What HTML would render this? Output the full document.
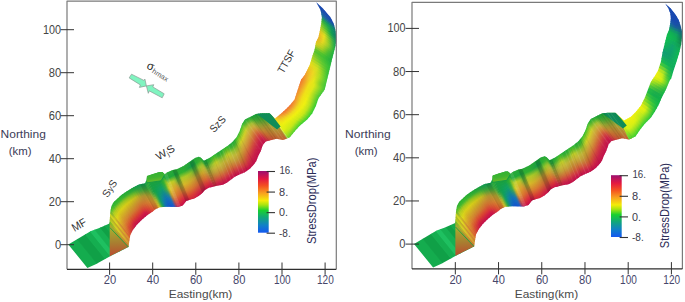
<!DOCTYPE html><html><head><meta charset="utf-8"><style>html,body{margin:0;padding:0;background:#fff;}svg{display:block;}</style></head><body><svg width="685" height="302" viewBox="0 0 685 302" font-family='"Liberation Sans", sans-serif'>
<rect width="685" height="302" fill="#fff"/>
<defs><clipPath id="Lclip"><polygon points="68.30,244.50 83.80,235.20 91.00,231.00 99.30,228.10 109.50,223.50 110.30,211.80 111.30,206.50 113.50,202.30 117.50,198.50 121.00,195.30 124.90,192.50 128.80,189.90 133.50,187.30 138.80,184.60 145.00,183.30 146.50,180.00 147.00,176.00 153.00,174.00 159.60,172.00 162.20,172.00 164.90,174.30 166.90,172.60 172.80,170.00 176.80,169.30 183.50,166.10 190.00,161.50 195.00,158.00 198.90,156.70 200.90,157.70 203.90,160.70 205.90,159.70 209.90,157.70 215.80,153.80 221.80,149.80 227.80,145.80 232.70,141.80 236.70,136.90 239.70,130.90 242.10,123.90 245.00,119.50 250.00,117.00 256.00,114.00 262.00,113.30 269.60,113.20 275.00,118.60 280.50,114.00 285.50,109.50 290.00,105.00 294.50,99.50 298.50,87.30 301.00,79.80 304.70,74.90 309.70,64.90 312.20,56.50 314.50,50.00 316.00,42.00 318.50,37.10 319.90,30.50 321.20,23.80 321.90,17.20 320.50,9.90 317.20,4.00 316.20,2.30 322.50,7.90 330.50,17.20 333.80,23.80 335.80,31.80 336.40,40.00 335.50,46.00 334.20,51.00 331.40,61.90 330.10,67.40 327.10,79.80 324.60,89.80 318.40,98.50 315.90,105.90 312.20,113.40 307.20,119.60 299.80,125.80 295.00,131.00 289.70,137.40 283.10,139.90 276.50,138.80 271.50,139.90 265.70,141.60 262.80,145.00 260.80,151.00 258.30,155.90 256.40,160.90 253.90,164.40 249.90,168.80 244.90,172.30 239.50,174.50 234.80,176.80 230.80,179.80 226.80,182.80 222.80,184.80 216.90,185.80 212.90,186.80 208.90,187.80 205.00,190.00 202.60,192.80 199.10,195.70 194.40,198.60 189.80,199.70 186.30,200.90 182.80,205.50 178.20,206.90 166.60,206.70 159.60,207.30 155.00,209.60 152.80,211.60 147.50,214.90 142.20,219.50 136.90,224.80 132.90,230.10 130.30,235.00 129.90,237.40 128.40,247.10 109.70,256.50 98.40,262.80 95.70,264.30 87.40,267.90"/></clipPath><linearGradient id="Lg0" gradientUnits="userSpaceOnUse" x1="71.91" y1="242.33" x2="91.30" y2="266.21"><stop offset="0.000" stop-color="#14ac4e"/></linearGradient><linearGradient id="Lg1" gradientUnits="userSpaceOnUse" x1="81.31" y1="236.70" x2="101.22" y2="261.23"><stop offset="0.000" stop-color="#10a047"/></linearGradient><linearGradient id="Lg2" gradientUnits="userSpaceOnUse" x1="87.87" y1="232.83" x2="107.90" y2="257.50"><stop offset="0.000" stop-color="#15ae50"/></linearGradient><linearGradient id="Lg3" gradientUnits="userSpaceOnUse" x1="92.58" y1="230.45" x2="112.56" y2="255.06"><stop offset="0.000" stop-color="#1ec060"/></linearGradient><linearGradient id="Lg4" gradientUnits="userSpaceOnUse" x1="97.67" y1="228.67" x2="117.21" y2="252.73"><stop offset="0.000" stop-color="#16b052"/></linearGradient><linearGradient id="Lg5" gradientUnits="userSpaceOnUse" x1="102.66" y1="226.59" x2="121.95" y2="250.34"><stop offset="0.000" stop-color="#10a046"/></linearGradient><linearGradient id="Lg6" gradientUnits="userSpaceOnUse" x1="107.48" y1="224.41" x2="126.63" y2="247.99"><stop offset="0.000" stop-color="#14aa4c"/></linearGradient><linearGradient id="Lg7" gradientUnits="userSpaceOnUse" x1="109.41" y1="223.54" x2="128.33" y2="247.14"><stop offset="0.000" stop-color="#14aa4c"/></linearGradient><linearGradient id="Lg8" gradientUnits="userSpaceOnUse" x1="109.62" y1="221.79" x2="128.60" y2="245.78"><stop offset="0.000" stop-color="#70b828"/><stop offset="0.300" stop-color="#b8b828"/><stop offset="0.600" stop-color="#c89830"/><stop offset="1.000" stop-color="#c87830"/></linearGradient><linearGradient id="Lg9" gradientUnits="userSpaceOnUse" x1="109.80" y1="219.14" x2="128.98" y2="243.37"><stop offset="0.000" stop-color="#b0c820"/><stop offset="0.400" stop-color="#d8d020"/><stop offset="0.700" stop-color="#d8b828"/><stop offset="1.000" stop-color="#d09830"/></linearGradient><linearGradient id="Lg10" gradientUnits="userSpaceOnUse" x1="109.96" y1="216.72" x2="129.32" y2="241.17"><stop offset="0.000" stop-color="#a8c020"/><stop offset="0.400" stop-color="#c8a828"/><stop offset="0.700" stop-color="#d09030"/><stop offset="1.000" stop-color="#d08030"/></linearGradient><linearGradient id="Lg11" gradientUnits="userSpaceOnUse" x1="110.13" y1="214.30" x2="129.66" y2="238.98"><stop offset="0.000" stop-color="#c8d420"/><stop offset="0.350" stop-color="#e0d820"/><stop offset="0.700" stop-color="#d8a828"/><stop offset="1.000" stop-color="#d88830"/></linearGradient><linearGradient id="Lg12" gradientUnits="userSpaceOnUse" x1="110.36" y1="211.48" x2="129.98" y2="236.94"><stop offset="0.000" stop-color="#60b830"/><stop offset="0.250" stop-color="#c8c020"/><stop offset="0.550" stop-color="#d09030"/><stop offset="0.800" stop-color="#d87030"/><stop offset="1.000" stop-color="#d86030"/></linearGradient><linearGradient id="Lg13" gradientUnits="userSpaceOnUse" x1="110.86" y1="208.81" x2="130.28" y2="235.12"><stop offset="0.000" stop-color="#2fb730"/><stop offset="0.100" stop-color="#7ac527"/><stop offset="0.150" stop-color="#a6cd21"/><stop offset="0.200" stop-color="#b9d01e"/><stop offset="0.320" stop-color="#d9d619"/><stop offset="0.350" stop-color="#ded618"/><stop offset="0.500" stop-color="#dab423"/><stop offset="0.600" stop-color="#d89e29"/><stop offset="0.680" stop-color="#d8902c"/><stop offset="0.850" stop-color="#d87130"/><stop offset="1.000" stop-color="#d75931"/></linearGradient><linearGradient id="Lg14" gradientUnits="userSpaceOnUse" x1="111.34" y1="206.42" x2="130.92" y2="233.83"><stop offset="0.000" stop-color="#2cb430"/><stop offset="0.100" stop-color="#62c02a"/><stop offset="0.150" stop-color="#92c824"/><stop offset="0.200" stop-color="#b2cd1f"/><stop offset="0.320" stop-color="#d8d418"/><stop offset="0.350" stop-color="#dcd01a"/><stop offset="0.500" stop-color="#d8af25"/><stop offset="0.600" stop-color="#d7992a"/><stop offset="0.680" stop-color="#d88a2e"/><stop offset="0.850" stop-color="#d86430"/><stop offset="1.000" stop-color="#d44c34"/></linearGradient><linearGradient id="Lg15" gradientUnits="userSpaceOnUse" x1="112.27" y1="204.66" x2="131.58" y2="232.59"><stop offset="0.000" stop-color="#29b130"/><stop offset="0.100" stop-color="#4cbb2e"/><stop offset="0.150" stop-color="#7ec327"/><stop offset="0.200" stop-color="#abca20"/><stop offset="0.320" stop-color="#d8d118"/><stop offset="0.350" stop-color="#d8cc1a"/><stop offset="0.500" stop-color="#d5aa27"/><stop offset="0.600" stop-color="#d6942b"/><stop offset="0.680" stop-color="#d8832f"/><stop offset="0.850" stop-color="#d85730"/><stop offset="1.000" stop-color="#d13f37"/></linearGradient><linearGradient id="Lg16" gradientUnits="userSpaceOnUse" x1="113.40" y1="202.49" x2="132.50" y2="230.85"><stop offset="0.000" stop-color="#28b030"/><stop offset="0.100" stop-color="#40b830"/><stop offset="0.200" stop-color="#a7c820"/><stop offset="0.320" stop-color="#d8d018"/><stop offset="0.480" stop-color="#d3ab26"/><stop offset="0.500" stop-color="#d3a728"/><stop offset="0.640" stop-color="#d6882e"/><stop offset="0.680" stop-color="#d77e30"/><stop offset="0.780" stop-color="#d86030"/><stop offset="0.850" stop-color="#d74b32"/><stop offset="0.900" stop-color="#d44135"/><stop offset="1.000" stop-color="#cd313b"/></linearGradient><linearGradient id="Lg17" gradientUnits="userSpaceOnUse" x1="115.13" y1="200.75" x2="133.76" y2="228.97"><stop offset="0.000" stop-color="#28b030"/><stop offset="0.100" stop-color="#40b830"/><stop offset="0.200" stop-color="#a4c820"/><stop offset="0.320" stop-color="#d8d018"/><stop offset="0.480" stop-color="#d2aa27"/><stop offset="0.500" stop-color="#d2a628"/><stop offset="0.640" stop-color="#d4842f"/><stop offset="0.680" stop-color="#d57830"/><stop offset="0.780" stop-color="#d85830"/><stop offset="0.850" stop-color="#d64134"/><stop offset="0.900" stop-color="#d2343a"/><stop offset="1.000" stop-color="#c82441"/></linearGradient><linearGradient id="Lg18" gradientUnits="userSpaceOnUse" x1="116.90" y1="199.07" x2="135.09" y2="227.20"><stop offset="0.000" stop-color="#28b030"/><stop offset="0.100" stop-color="#40b830"/><stop offset="0.200" stop-color="#a1c820"/><stop offset="0.320" stop-color="#d8d018"/><stop offset="0.480" stop-color="#d1a928"/><stop offset="0.500" stop-color="#d1a429"/><stop offset="0.640" stop-color="#d18230"/><stop offset="0.680" stop-color="#d37430"/><stop offset="0.780" stop-color="#d85030"/><stop offset="0.850" stop-color="#d43738"/><stop offset="0.900" stop-color="#d1273e"/><stop offset="1.000" stop-color="#c31747"/></linearGradient><linearGradient id="Lg19" gradientUnits="userSpaceOnUse" x1="118.85" y1="197.27" x2="136.67" y2="225.11"><stop offset="0.000" stop-color="#27af31"/><stop offset="0.100" stop-color="#3fb730"/><stop offset="0.200" stop-color="#9dc720"/><stop offset="0.320" stop-color="#d7cf18"/><stop offset="0.480" stop-color="#cfa728"/><stop offset="0.640" stop-color="#d07f30"/><stop offset="0.780" stop-color="#d84b30"/><stop offset="0.900" stop-color="#d02040"/><stop offset="1.000" stop-color="#c0104a"/></linearGradient><linearGradient id="Lg20" gradientUnits="userSpaceOnUse" x1="120.96" y1="195.34" x2="138.68" y2="223.02"><stop offset="0.000" stop-color="#24ac34"/><stop offset="0.100" stop-color="#3cb430"/><stop offset="0.200" stop-color="#98c420"/><stop offset="0.320" stop-color="#d4cc18"/><stop offset="0.480" stop-color="#cca428"/><stop offset="0.640" stop-color="#d07c30"/><stop offset="0.780" stop-color="#d84830"/><stop offset="0.900" stop-color="#d02040"/><stop offset="1.000" stop-color="#c0104a"/></linearGradient><linearGradient id="Lg21" gradientUnits="userSpaceOnUse" x1="123.24" y1="193.69" x2="140.71" y2="220.99"><stop offset="0.000" stop-color="#21a937"/><stop offset="0.100" stop-color="#39b130"/><stop offset="0.200" stop-color="#93c120"/><stop offset="0.320" stop-color="#d1c918"/><stop offset="0.480" stop-color="#c9a128"/><stop offset="0.640" stop-color="#d07930"/><stop offset="0.780" stop-color="#d84530"/><stop offset="0.900" stop-color="#d02040"/><stop offset="1.000" stop-color="#c0104a"/></linearGradient><linearGradient id="Lg22" gradientUnits="userSpaceOnUse" x1="125.53" y1="192.08" x2="142.65" y2="219.11"><stop offset="0.000" stop-color="#1fa738"/><stop offset="0.100" stop-color="#37af31"/><stop offset="0.200" stop-color="#8bbf21"/><stop offset="0.320" stop-color="#cdc519"/><stop offset="0.480" stop-color="#c89d29"/><stop offset="0.640" stop-color="#d07530"/><stop offset="0.780" stop-color="#d84331"/><stop offset="0.800" stop-color="#d73d34"/><stop offset="0.900" stop-color="#d01f41"/><stop offset="1.000" stop-color="#c0104a"/></linearGradient><linearGradient id="Lg23" gradientUnits="userSpaceOnUse" x1="127.84" y1="190.54" x2="144.54" y2="217.47"><stop offset="0.000" stop-color="#1ca438"/><stop offset="0.100" stop-color="#34ac34"/><stop offset="0.200" stop-color="#80bc24"/><stop offset="0.320" stop-color="#c8c01c"/><stop offset="0.480" stop-color="#c8982c"/><stop offset="0.640" stop-color="#d07030"/><stop offset="0.780" stop-color="#d84134"/><stop offset="0.800" stop-color="#d83b36"/><stop offset="0.900" stop-color="#d01c44"/><stop offset="1.000" stop-color="#c0104a"/></linearGradient><linearGradient id="Lg24" gradientUnits="userSpaceOnUse" x1="130.22" y1="189.11" x2="146.43" y2="215.83"><stop offset="0.000" stop-color="#19a138"/><stop offset="0.100" stop-color="#31a937"/><stop offset="0.200" stop-color="#75b927"/><stop offset="0.320" stop-color="#c3bb1f"/><stop offset="0.480" stop-color="#c8932f"/><stop offset="0.640" stop-color="#d06b30"/><stop offset="0.780" stop-color="#d73f36"/><stop offset="0.800" stop-color="#d83937"/><stop offset="0.900" stop-color="#d01947"/><stop offset="1.000" stop-color="#c0104a"/></linearGradient><linearGradient id="Lg25" gradientUnits="userSpaceOnUse" x1="132.43" y1="187.89" x2="148.20" y2="214.47"><stop offset="0.000" stop-color="#179f3c"/><stop offset="0.100" stop-color="#2fa63a"/><stop offset="0.200" stop-color="#68b42b"/><stop offset="0.320" stop-color="#b6b223"/><stop offset="0.400" stop-color="#c1a129"/><stop offset="0.480" stop-color="#c68f30"/><stop offset="0.640" stop-color="#d06b30"/><stop offset="0.650" stop-color="#d06830"/><stop offset="0.800" stop-color="#d83e37"/><stop offset="0.850" stop-color="#d52f3d"/><stop offset="0.900" stop-color="#d12044"/><stop offset="1.000" stop-color="#c41747"/></linearGradient><linearGradient id="Lg26" gradientUnits="userSpaceOnUse" x1="134.44" y1="186.82" x2="149.87" y2="213.42"><stop offset="0.000" stop-color="#149c44"/><stop offset="0.100" stop-color="#2ca23e"/><stop offset="0.200" stop-color="#58ac30"/><stop offset="0.320" stop-color="#a2a72a"/><stop offset="0.400" stop-color="#ba9a2c"/><stop offset="0.480" stop-color="#c18c30"/><stop offset="0.640" stop-color="#d07030"/><stop offset="0.650" stop-color="#d06e30"/><stop offset="0.800" stop-color="#d74934"/><stop offset="0.850" stop-color="#d63c38"/><stop offset="0.900" stop-color="#d4303e"/><stop offset="1.000" stop-color="#cc2441"/></linearGradient><linearGradient id="Lg27" gradientUnits="userSpaceOnUse" x1="136.48" y1="185.78" x2="151.55" y2="212.38"><stop offset="0.000" stop-color="#11994c"/><stop offset="0.100" stop-color="#299e42"/><stop offset="0.200" stop-color="#48a435"/><stop offset="0.320" stop-color="#8d9c30"/><stop offset="0.400" stop-color="#b3932f"/><stop offset="0.480" stop-color="#bc8930"/><stop offset="0.640" stop-color="#cf7630"/><stop offset="0.650" stop-color="#d07530"/><stop offset="0.800" stop-color="#d65431"/><stop offset="0.850" stop-color="#d74933"/><stop offset="0.900" stop-color="#d74036"/><stop offset="1.000" stop-color="#d4313b"/></linearGradient><linearGradient id="Lg28" gradientUnits="userSpaceOnUse" x1="138.59" y1="184.71" x2="153.20" y2="211.24"><stop offset="0.000" stop-color="#109850"/><stop offset="0.200" stop-color="#3ea139"/><stop offset="0.250" stop-color="#579e36"/><stop offset="0.400" stop-color="#a99430"/><stop offset="0.500" stop-color="#bc8c30"/><stop offset="0.650" stop-color="#cf7e30"/><stop offset="0.750" stop-color="#d56d30"/><stop offset="0.850" stop-color="#d85930"/><stop offset="1.000" stop-color="#d84137"/></linearGradient><linearGradient id="Lg29" gradientUnits="userSpaceOnUse" x1="141.12" y1="184.11" x2="154.76" y2="209.82"><stop offset="0.000" stop-color="#109850"/><stop offset="0.200" stop-color="#3ba23a"/><stop offset="0.250" stop-color="#4ea237"/><stop offset="0.400" stop-color="#9c9c32"/><stop offset="0.500" stop-color="#ba9730"/><stop offset="0.650" stop-color="#ce8b30"/><stop offset="0.750" stop-color="#d67e30"/><stop offset="0.850" stop-color="#d86c30"/><stop offset="1.000" stop-color="#d85434"/></linearGradient><linearGradient id="Lg30" gradientUnits="userSpaceOnUse" x1="143.67" y1="183.58" x2="156.55" y2="208.82"><stop offset="0.000" stop-color="#109850"/><stop offset="0.200" stop-color="#38a43c"/><stop offset="0.250" stop-color="#45a638"/><stop offset="0.400" stop-color="#8fa432"/><stop offset="0.500" stop-color="#b9a230"/><stop offset="0.650" stop-color="#cc9830"/><stop offset="0.750" stop-color="#d78f30"/><stop offset="0.850" stop-color="#d87f30"/><stop offset="1.000" stop-color="#d86731"/></linearGradient><linearGradient id="Lg31" gradientUnits="userSpaceOnUse" x1="145.33" y1="182.57" x2="157.79" y2="208.20"><stop offset="0.000" stop-color="#159c4b"/><stop offset="0.150" stop-color="#2ea43f"/><stop offset="0.250" stop-color="#39a739"/><stop offset="0.500" stop-color="#9fa733"/><stop offset="0.750" stop-color="#cf9d2f"/><stop offset="1.000" stop-color="#d87d2d"/></linearGradient><linearGradient id="Lg32" gradientUnits="userSpaceOnUse" x1="146.17" y1="180.73" x2="158.58" y2="207.81"><stop offset="0.000" stop-color="#20a440"/><stop offset="0.150" stop-color="#2ea939"/><stop offset="0.250" stop-color="#2ca43c"/><stop offset="0.500" stop-color="#6ca438"/><stop offset="0.750" stop-color="#bca82c"/><stop offset="1.000" stop-color="#d89828"/></linearGradient><linearGradient id="Lg33" gradientUnits="userSpaceOnUse" x1="146.72" y1="178.27" x2="159.29" y2="207.46"><stop offset="0.000" stop-color="#2bac35"/><stop offset="0.150" stop-color="#30ae33"/><stop offset="0.250" stop-color="#1fa13f"/><stop offset="0.500" stop-color="#39a13d"/><stop offset="0.750" stop-color="#a9b329"/><stop offset="1.000" stop-color="#d8b323"/></linearGradient><linearGradient id="Lg34" gradientUnits="userSpaceOnUse" x1="147.27" y1="175.91" x2="160.32" y2="207.24"><stop offset="0.000" stop-color="#30b030"/><stop offset="0.150" stop-color="#38b12f"/><stop offset="0.250" stop-color="#18a040"/><stop offset="0.500" stop-color="#1da043"/><stop offset="0.750" stop-color="#88b431"/><stop offset="0.800" stop-color="#91b630"/><stop offset="1.000" stop-color="#b9bc27"/></linearGradient><linearGradient id="Lg35" gradientUnits="userSpaceOnUse" x1="148.30" y1="175.57" x2="161.45" y2="207.14"><stop offset="0.000" stop-color="#30b030"/><stop offset="0.150" stop-color="#48b42c"/><stop offset="0.250" stop-color="#18a040"/><stop offset="0.500" stop-color="#18a048"/><stop offset="0.750" stop-color="#58ac42"/><stop offset="0.800" stop-color="#5ead43"/><stop offset="1.000" stop-color="#7cb434"/></linearGradient><linearGradient id="Lg36" gradientUnits="userSpaceOnUse" x1="149.32" y1="175.23" x2="162.58" y2="207.04"><stop offset="0.000" stop-color="#30b030"/><stop offset="0.150" stop-color="#58b729"/><stop offset="0.250" stop-color="#18a040"/><stop offset="0.500" stop-color="#13a04d"/><stop offset="0.750" stop-color="#28a454"/><stop offset="0.800" stop-color="#2aa456"/><stop offset="1.000" stop-color="#3fac41"/></linearGradient><linearGradient id="Lg37" gradientUnits="userSpaceOnUse" x1="150.33" y1="174.89" x2="163.69" y2="206.95"><stop offset="0.000" stop-color="#30b030"/><stop offset="0.150" stop-color="#68b927"/><stop offset="0.250" stop-color="#18a040"/><stop offset="0.500" stop-color="#10a053"/><stop offset="0.750" stop-color="#109c67"/><stop offset="0.800" stop-color="#109b6b"/><stop offset="1.000" stop-color="#1d9d5c"/></linearGradient><linearGradient id="Lg38" gradientUnits="userSpaceOnUse" x1="151.33" y1="174.56" x2="164.79" y2="206.86"><stop offset="0.000" stop-color="#30b030"/><stop offset="0.150" stop-color="#78bc24"/><stop offset="0.250" stop-color="#18a040"/><stop offset="0.500" stop-color="#10a058"/><stop offset="0.750" stop-color="#10947a"/><stop offset="0.800" stop-color="#109180"/><stop offset="1.000" stop-color="#188884"/></linearGradient><linearGradient id="Lg39" gradientUnits="userSpaceOnUse" x1="152.33" y1="174.22" x2="165.89" y2="206.76"><stop offset="0.000" stop-color="#30b030"/><stop offset="0.150" stop-color="#88bf21"/><stop offset="0.250" stop-color="#18a040"/><stop offset="0.500" stop-color="#10a05d"/><stop offset="0.750" stop-color="#108c8e"/><stop offset="0.800" stop-color="#108795"/><stop offset="1.000" stop-color="#1373ac"/></linearGradient><linearGradient id="Lg40" gradientUnits="userSpaceOnUse" x1="153.41" y1="173.88" x2="167.09" y2="206.71"><stop offset="0.000" stop-color="#30b030"/><stop offset="0.150" stop-color="#88bf21"/><stop offset="0.250" stop-color="#18a040"/><stop offset="0.450" stop-color="#12a05c"/><stop offset="0.500" stop-color="#109f64"/><stop offset="0.750" stop-color="#10849d"/><stop offset="1.000" stop-color="#1164c3"/></linearGradient><linearGradient id="Lg41" gradientUnits="userSpaceOnUse" x1="154.57" y1="173.53" x2="168.40" y2="206.73"><stop offset="0.000" stop-color="#30b030"/><stop offset="0.150" stop-color="#78bc24"/><stop offset="0.250" stop-color="#18a040"/><stop offset="0.450" stop-color="#11a061"/><stop offset="0.500" stop-color="#109c6a"/><stop offset="0.750" stop-color="#107ca8"/><stop offset="1.000" stop-color="#125cc8"/></linearGradient><linearGradient id="Lg42" gradientUnits="userSpaceOnUse" x1="155.73" y1="173.17" x2="169.72" y2="206.75"><stop offset="0.000" stop-color="#30b030"/><stop offset="0.150" stop-color="#68b927"/><stop offset="0.250" stop-color="#18a040"/><stop offset="0.450" stop-color="#10a066"/><stop offset="0.500" stop-color="#109972"/><stop offset="0.750" stop-color="#1074b3"/><stop offset="1.000" stop-color="#1354cd"/></linearGradient><linearGradient id="Lg43" gradientUnits="userSpaceOnUse" x1="156.88" y1="172.82" x2="171.03" y2="206.78"><stop offset="0.000" stop-color="#2faf31"/><stop offset="0.150" stop-color="#55b52b"/><stop offset="0.250" stop-color="#1ba23e"/><stop offset="0.300" stop-color="#1aa346"/><stop offset="0.450" stop-color="#17a262"/><stop offset="0.500" stop-color="#189b6e"/><stop offset="0.750" stop-color="#1171b7"/><stop offset="1.000" stop-color="#1451d0"/></linearGradient><linearGradient id="Lg44" gradientUnits="userSpaceOnUse" x1="158.04" y1="172.47" x2="172.35" y2="206.80"><stop offset="0.000" stop-color="#2cac34"/><stop offset="0.150" stop-color="#40b030"/><stop offset="0.250" stop-color="#22a63a"/><stop offset="0.300" stop-color="#23a83d"/><stop offset="0.450" stop-color="#26a555"/><stop offset="0.500" stop-color="#28a05e"/><stop offset="0.750" stop-color="#1474b4"/><stop offset="1.000" stop-color="#1454d0"/></linearGradient><linearGradient id="Lg45" gradientUnits="userSpaceOnUse" x1="159.20" y1="172.12" x2="173.66" y2="206.82"><stop offset="0.000" stop-color="#29a937"/><stop offset="0.150" stop-color="#2bab35"/><stop offset="0.250" stop-color="#28ab35"/><stop offset="0.300" stop-color="#2cad34"/><stop offset="0.450" stop-color="#35a848"/><stop offset="0.500" stop-color="#38a550"/><stop offset="0.750" stop-color="#1777b1"/><stop offset="1.000" stop-color="#1457d0"/></linearGradient><linearGradient id="Lg46" gradientUnits="userSpaceOnUse" x1="160.31" y1="172.00" x2="174.83" y2="206.84"><stop offset="0.000" stop-color="#28a838"/><stop offset="0.150" stop-color="#20a838"/><stop offset="0.280" stop-color="#41b330"/><stop offset="0.300" stop-color="#44b42e"/><stop offset="0.450" stop-color="#56b03c"/><stop offset="0.500" stop-color="#59ad42"/><stop offset="0.650" stop-color="#458e76"/><stop offset="0.750" stop-color="#37789b"/><stop offset="0.850" stop-color="#3466a8"/><stop offset="1.000" stop-color="#2e51bd"/></linearGradient><linearGradient id="Lg47" gradientUnits="userSpaceOnUse" x1="161.35" y1="172.00" x2="175.88" y2="206.86"><stop offset="0.000" stop-color="#28a838"/><stop offset="0.150" stop-color="#20a838"/><stop offset="0.280" stop-color="#67bc2c"/><stop offset="0.300" stop-color="#6cbc2c"/><stop offset="0.450" stop-color="#8abd31"/><stop offset="0.500" stop-color="#8cb635"/><stop offset="0.650" stop-color="#809657"/><stop offset="0.750" stop-color="#747872"/><stop offset="0.850" stop-color="#6f5e7e"/><stop offset="1.000" stop-color="#624498"/></linearGradient><linearGradient id="Lg48" gradientUnits="userSpaceOnUse" x1="162.50" y1="172.26" x2="176.93" y2="206.88"><stop offset="0.000" stop-color="#28a838"/><stop offset="0.150" stop-color="#20a838"/><stop offset="0.280" stop-color="#8dc42a"/><stop offset="0.300" stop-color="#93c528"/><stop offset="0.450" stop-color="#beca26"/><stop offset="0.500" stop-color="#bfbf28"/><stop offset="0.650" stop-color="#bb9c38"/><stop offset="0.750" stop-color="#b17849"/><stop offset="0.850" stop-color="#aa5455"/><stop offset="1.000" stop-color="#963773"/></linearGradient><linearGradient id="Lg49" gradientUnits="userSpaceOnUse" x1="163.99" y1="173.52" x2="177.89" y2="206.89"><stop offset="0.000" stop-color="#28a838"/><stop offset="0.150" stop-color="#20a838"/><stop offset="0.280" stop-color="#a7c927"/><stop offset="0.450" stop-color="#d8cc21"/><stop offset="0.480" stop-color="#d8c522"/><stop offset="0.650" stop-color="#d89c29"/><stop offset="0.680" stop-color="#d6912d"/><stop offset="0.850" stop-color="#cb4d3f"/><stop offset="0.860" stop-color="#c94a40"/><stop offset="1.000" stop-color="#b42b5c"/></linearGradient><linearGradient id="Lg50" gradientUnits="userSpaceOnUse" x1="165.22" y1="174.02" x2="178.84" y2="206.70"><stop offset="0.000" stop-color="#28a838"/><stop offset="0.150" stop-color="#20a838"/><stop offset="0.280" stop-color="#b4cc24"/><stop offset="0.450" stop-color="#d7c224"/><stop offset="0.480" stop-color="#d8bc24"/><stop offset="0.650" stop-color="#d8942c"/><stop offset="0.680" stop-color="#d78a2e"/><stop offset="0.850" stop-color="#d0463c"/><stop offset="0.860" stop-color="#cf433d"/><stop offset="1.000" stop-color="#bc2054"/></linearGradient><linearGradient id="Lg51" gradientUnits="userSpaceOnUse" x1="165.98" y1="173.38" x2="179.75" y2="206.43"><stop offset="0.000" stop-color="#28a838"/><stop offset="0.150" stop-color="#20a838"/><stop offset="0.280" stop-color="#c1cf21"/><stop offset="0.450" stop-color="#d6ba26"/><stop offset="0.480" stop-color="#d8b427"/><stop offset="0.650" stop-color="#d88b2e"/><stop offset="0.680" stop-color="#d8832f"/><stop offset="0.850" stop-color="#d53f39"/><stop offset="0.860" stop-color="#d53c3a"/><stop offset="1.000" stop-color="#c4154c"/></linearGradient><linearGradient id="Lg52" gradientUnits="userSpaceOnUse" x1="167.04" y1="172.54" x2="181.01" y2="206.05"><stop offset="0.000" stop-color="#28a838"/><stop offset="0.150" stop-color="#20a838"/><stop offset="0.280" stop-color="#c2ce22"/><stop offset="0.300" stop-color="#c7cc22"/><stop offset="0.480" stop-color="#d8ad29"/><stop offset="0.500" stop-color="#d8a82a"/><stop offset="0.680" stop-color="#d87d30"/><stop offset="0.700" stop-color="#d87531"/><stop offset="0.860" stop-color="#d83639"/><stop offset="0.880" stop-color="#d6303b"/><stop offset="1.000" stop-color="#c81048"/></linearGradient><linearGradient id="Lg53" gradientUnits="userSpaceOnUse" x1="168.41" y1="171.94" x2="182.44" y2="205.61"><stop offset="0.000" stop-color="#28a838"/><stop offset="0.150" stop-color="#20a838"/><stop offset="0.280" stop-color="#b6ca25"/><stop offset="0.300" stop-color="#c1ca24"/><stop offset="0.480" stop-color="#d6a62c"/><stop offset="0.500" stop-color="#d8a22c"/><stop offset="0.680" stop-color="#d87630"/><stop offset="0.700" stop-color="#d87030"/><stop offset="0.860" stop-color="#d8343b"/><stop offset="0.880" stop-color="#d72d3d"/><stop offset="1.000" stop-color="#c81048"/></linearGradient><linearGradient id="Lg54" gradientUnits="userSpaceOnUse" x1="169.77" y1="171.34" x2="183.58" y2="204.48"><stop offset="0.000" stop-color="#28a838"/><stop offset="0.150" stop-color="#20a838"/><stop offset="0.280" stop-color="#aac628"/><stop offset="0.300" stop-color="#bbc927"/><stop offset="0.480" stop-color="#d6a02e"/><stop offset="0.500" stop-color="#d89b2f"/><stop offset="0.680" stop-color="#d87030"/><stop offset="0.700" stop-color="#d86b30"/><stop offset="0.860" stop-color="#d8303d"/><stop offset="0.880" stop-color="#d82a3f"/><stop offset="1.000" stop-color="#c81048"/></linearGradient><linearGradient id="Lg55" gradientUnits="userSpaceOnUse" x1="171.08" y1="170.76" x2="184.58" y2="203.16"><stop offset="0.000" stop-color="#28a838"/><stop offset="0.150" stop-color="#1fa739"/><stop offset="0.300" stop-color="#a4c32b"/><stop offset="0.500" stop-color="#cc9930"/><stop offset="0.700" stop-color="#d56930"/><stop offset="0.880" stop-color="#d82940"/><stop offset="1.000" stop-color="#c81048"/></linearGradient><linearGradient id="Lg56" gradientUnits="userSpaceOnUse" x1="172.35" y1="170.20" x2="185.55" y2="201.89"><stop offset="0.000" stop-color="#28a838"/><stop offset="0.150" stop-color="#1ca43c"/><stop offset="0.300" stop-color="#7cb830"/><stop offset="0.500" stop-color="#b49c30"/><stop offset="0.700" stop-color="#d06c30"/><stop offset="0.880" stop-color="#d82c40"/><stop offset="1.000" stop-color="#c81048"/></linearGradient><linearGradient id="Lg57" gradientUnits="userSpaceOnUse" x1="173.70" y1="169.84" x2="186.60" y2="200.80"><stop offset="0.000" stop-color="#28a838"/><stop offset="0.150" stop-color="#19a13f"/><stop offset="0.300" stop-color="#54ad35"/><stop offset="0.500" stop-color="#9c9f30"/><stop offset="0.700" stop-color="#cb6f30"/><stop offset="0.880" stop-color="#d82f40"/><stop offset="1.000" stop-color="#c81048"/></linearGradient><linearGradient id="Lg58" gradientUnits="userSpaceOnUse" x1="175.01" y1="169.61" x2="187.82" y2="200.38"><stop offset="0.000" stop-color="#28a838"/><stop offset="0.150" stop-color="#1ca33d"/><stop offset="0.300" stop-color="#53ad35"/><stop offset="0.500" stop-color="#9ca42f"/><stop offset="0.700" stop-color="#cb7330"/><stop offset="0.880" stop-color="#d8333d"/><stop offset="1.000" stop-color="#c91347"/></linearGradient><linearGradient id="Lg59" gradientUnits="userSpaceOnUse" x1="176.22" y1="169.40" x2="188.97" y2="199.99"><stop offset="0.000" stop-color="#28a838"/><stop offset="0.150" stop-color="#24a838"/><stop offset="0.300" stop-color="#78b830"/><stop offset="0.500" stop-color="#b4ac2c"/><stop offset="0.700" stop-color="#d07830"/><stop offset="0.880" stop-color="#d83838"/><stop offset="1.000" stop-color="#cc1844"/></linearGradient><linearGradient id="Lg60" gradientUnits="userSpaceOnUse" x1="177.37" y1="169.03" x2="190.12" y2="199.62"><stop offset="0.000" stop-color="#28a838"/><stop offset="0.150" stop-color="#2cad33"/><stop offset="0.300" stop-color="#9dc32b"/><stop offset="0.500" stop-color="#ccb429"/><stop offset="0.700" stop-color="#d57d30"/><stop offset="0.880" stop-color="#d83d33"/><stop offset="1.000" stop-color="#cf1d41"/></linearGradient><linearGradient id="Lg61" gradientUnits="userSpaceOnUse" x1="178.66" y1="168.41" x2="191.53" y2="199.29"><stop offset="0.000" stop-color="#28a838"/><stop offset="0.150" stop-color="#30b030"/><stop offset="0.300" stop-color="#b0c828"/><stop offset="0.500" stop-color="#d7b728"/><stop offset="0.700" stop-color="#d87f30"/><stop offset="0.880" stop-color="#d83f31"/><stop offset="1.000" stop-color="#d02040"/></linearGradient><linearGradient id="Lg62" gradientUnits="userSpaceOnUse" x1="180.14" y1="167.70" x2="193.14" y2="198.90"><stop offset="0.000" stop-color="#28a838"/><stop offset="0.150" stop-color="#30b030"/><stop offset="0.300" stop-color="#b0c828"/><stop offset="0.500" stop-color="#d4b428"/><stop offset="0.700" stop-color="#d87c30"/><stop offset="0.880" stop-color="#d83c34"/><stop offset="1.000" stop-color="#d02040"/></linearGradient><linearGradient id="Lg63" gradientUnits="userSpaceOnUse" x1="181.63" y1="167.00" x2="194.71" y2="198.41"><stop offset="0.000" stop-color="#28a838"/><stop offset="0.150" stop-color="#30b030"/><stop offset="0.300" stop-color="#b0c828"/><stop offset="0.500" stop-color="#d1b128"/><stop offset="0.700" stop-color="#d87930"/><stop offset="0.880" stop-color="#d83937"/><stop offset="1.000" stop-color="#d02040"/></linearGradient><linearGradient id="Lg64" gradientUnits="userSpaceOnUse" x1="183.24" y1="166.22" x2="196.26" y2="197.46"><stop offset="0.000" stop-color="#28a838"/><stop offset="0.150" stop-color="#2dad33"/><stop offset="0.300" stop-color="#abc728"/><stop offset="0.500" stop-color="#cfad29"/><stop offset="0.700" stop-color="#d77730"/><stop offset="0.880" stop-color="#d73739"/><stop offset="1.000" stop-color="#cf1d41"/></linearGradient><linearGradient id="Lg65" gradientUnits="userSpaceOnUse" x1="184.89" y1="165.12" x2="197.93" y2="196.42"><stop offset="0.000" stop-color="#28a838"/><stop offset="0.150" stop-color="#28a838"/><stop offset="0.300" stop-color="#a0c428"/><stop offset="0.500" stop-color="#cca82c"/><stop offset="0.700" stop-color="#d47430"/><stop offset="0.880" stop-color="#d4343c"/><stop offset="1.000" stop-color="#cc1844"/></linearGradient><linearGradient id="Lg66" gradientUnits="userSpaceOnUse" x1="186.52" y1="163.96" x2="199.58" y2="195.30"><stop offset="0.000" stop-color="#28a838"/><stop offset="0.150" stop-color="#23a33d"/><stop offset="0.300" stop-color="#95c128"/><stop offset="0.500" stop-color="#c9a32f"/><stop offset="0.700" stop-color="#d17130"/><stop offset="0.880" stop-color="#d1313f"/><stop offset="1.000" stop-color="#c91347"/></linearGradient><linearGradient id="Lg67" gradientUnits="userSpaceOnUse" x1="187.99" y1="162.92" x2="200.99" y2="194.13"><stop offset="0.000" stop-color="#25a739"/><stop offset="0.150" stop-color="#1d9f41"/><stop offset="0.300" stop-color="#83bb2b"/><stop offset="0.500" stop-color="#c19c30"/><stop offset="0.700" stop-color="#cd6d30"/><stop offset="0.880" stop-color="#cf3040"/><stop offset="1.000" stop-color="#c71048"/></linearGradient><linearGradient id="Lg68" gradientUnits="userSpaceOnUse" x1="189.30" y1="162.00" x2="202.25" y2="193.09"><stop offset="0.000" stop-color="#20a43c"/><stop offset="0.150" stop-color="#189c44"/><stop offset="0.300" stop-color="#68b030"/><stop offset="0.500" stop-color="#b49430"/><stop offset="0.700" stop-color="#c86830"/><stop offset="0.880" stop-color="#cc3040"/><stop offset="1.000" stop-color="#c41048"/></linearGradient><linearGradient id="Lg69" gradientUnits="userSpaceOnUse" x1="190.61" y1="161.07" x2="203.43" y2="191.84"><stop offset="0.000" stop-color="#1ba13f"/><stop offset="0.150" stop-color="#139947"/><stop offset="0.300" stop-color="#4da535"/><stop offset="0.500" stop-color="#a78c30"/><stop offset="0.700" stop-color="#c36330"/><stop offset="0.880" stop-color="#c93040"/><stop offset="1.000" stop-color="#c11048"/></linearGradient><linearGradient id="Lg70" gradientUnits="userSpaceOnUse" x1="191.94" y1="160.14" x2="204.94" y2="190.07"><stop offset="0.000" stop-color="#1ba13f"/><stop offset="0.150" stop-color="#159c44"/><stop offset="0.300" stop-color="#50a735"/><stop offset="0.500" stop-color="#a88d2f"/><stop offset="0.700" stop-color="#c46330"/><stop offset="0.880" stop-color="#cb303f"/><stop offset="1.000" stop-color="#c11048"/></linearGradient><linearGradient id="Lg71" gradientUnits="userSpaceOnUse" x1="193.29" y1="159.20" x2="207.17" y2="188.77"><stop offset="0.000" stop-color="#20a43c"/><stop offset="0.150" stop-color="#20a43c"/><stop offset="0.300" stop-color="#70b430"/><stop offset="0.500" stop-color="#b8982c"/><stop offset="0.700" stop-color="#cc6830"/><stop offset="0.880" stop-color="#d0303c"/><stop offset="1.000" stop-color="#c41048"/></linearGradient><linearGradient id="Lg72" gradientUnits="userSpaceOnUse" x1="194.65" y1="158.25" x2="209.45" y2="187.66"><stop offset="0.000" stop-color="#25a739"/><stop offset="0.150" stop-color="#2bac34"/><stop offset="0.300" stop-color="#90c12b"/><stop offset="0.500" stop-color="#c8a329"/><stop offset="0.700" stop-color="#d46d30"/><stop offset="0.880" stop-color="#d53039"/><stop offset="1.000" stop-color="#c71048"/></linearGradient><linearGradient id="Lg73" gradientUnits="userSpaceOnUse" x1="196.11" y1="157.63" x2="210.94" y2="187.29"><stop offset="0.000" stop-color="#27a838"/><stop offset="0.120" stop-color="#31ae32"/><stop offset="0.150" stop-color="#36b130"/><stop offset="0.250" stop-color="#80c02c"/><stop offset="0.300" stop-color="#a1c62a"/><stop offset="0.380" stop-color="#b5ba2b"/><stop offset="0.500" stop-color="#cda72b"/><stop offset="0.520" stop-color="#cea22c"/><stop offset="0.650" stop-color="#d47d30"/><stop offset="0.700" stop-color="#d66e32"/><stop offset="0.780" stop-color="#d75236"/><stop offset="0.880" stop-color="#d62e3a"/><stop offset="0.900" stop-color="#d3293d"/><stop offset="1.000" stop-color="#c71048"/></linearGradient><linearGradient id="Lg74" gradientUnits="userSpaceOnUse" x1="197.63" y1="157.12" x2="211.49" y2="187.15"><stop offset="0.000" stop-color="#24a838"/><stop offset="0.120" stop-color="#37af31"/><stop offset="0.150" stop-color="#42b230"/><stop offset="0.250" stop-color="#8ac02e"/><stop offset="0.300" stop-color="#a4c22e"/><stop offset="0.380" stop-color="#baba30"/><stop offset="0.500" stop-color="#c8a630"/><stop offset="0.520" stop-color="#c8a130"/><stop offset="0.650" stop-color="#cf7b33"/><stop offset="0.700" stop-color="#d26b36"/><stop offset="0.780" stop-color="#d44e3a"/><stop offset="0.880" stop-color="#d02c40"/><stop offset="0.900" stop-color="#ce2642"/><stop offset="1.000" stop-color="#c41049"/></linearGradient><linearGradient id="Lg75" gradientUnits="userSpaceOnUse" x1="199.29" y1="156.89" x2="212.09" y2="187.00"><stop offset="0.000" stop-color="#21a838"/><stop offset="0.120" stop-color="#3db030"/><stop offset="0.150" stop-color="#4eb330"/><stop offset="0.250" stop-color="#93c02f"/><stop offset="0.300" stop-color="#a6bf31"/><stop offset="0.380" stop-color="#beb835"/><stop offset="0.500" stop-color="#c3a435"/><stop offset="0.520" stop-color="#c3a036"/><stop offset="0.650" stop-color="#ca7936"/><stop offset="0.700" stop-color="#cd6839"/><stop offset="0.780" stop-color="#d14a3e"/><stop offset="0.880" stop-color="#cc2844"/><stop offset="0.900" stop-color="#ca2246"/><stop offset="1.000" stop-color="#c1104a"/></linearGradient><linearGradient id="Lg76" gradientUnits="userSpaceOnUse" x1="200.95" y1="157.75" x2="212.80" y2="186.83"><stop offset="0.000" stop-color="#1fa738"/><stop offset="0.120" stop-color="#3aac31"/><stop offset="0.150" stop-color="#4baf31"/><stop offset="0.250" stop-color="#8cba31"/><stop offset="0.350" stop-color="#aeb635"/><stop offset="0.380" stop-color="#b6b337"/><stop offset="0.520" stop-color="#bb9d37"/><stop offset="0.550" stop-color="#be9437"/><stop offset="0.650" stop-color="#c57737"/><stop offset="0.750" stop-color="#cc553c"/><stop offset="0.780" stop-color="#ce4a3e"/><stop offset="0.900" stop-color="#c82347"/><stop offset="1.000" stop-color="#c01348"/></linearGradient><linearGradient id="Lg77" gradientUnits="userSpaceOnUse" x1="202.91" y1="159.71" x2="213.85" y2="186.56"><stop offset="0.000" stop-color="#1ca438"/><stop offset="0.120" stop-color="#2fa534"/><stop offset="0.150" stop-color="#3aa634"/><stop offset="0.250" stop-color="#74ae32"/><stop offset="0.350" stop-color="#9cad33"/><stop offset="0.380" stop-color="#a3aa34"/><stop offset="0.520" stop-color="#b19634"/><stop offset="0.550" stop-color="#b59034"/><stop offset="0.650" stop-color="#be7634"/><stop offset="0.750" stop-color="#c75a37"/><stop offset="0.780" stop-color="#c94f3a"/><stop offset="0.900" stop-color="#c82844"/><stop offset="1.000" stop-color="#c01845"/></linearGradient><linearGradient id="Lg78" gradientUnits="userSpaceOnUse" x1="204.38" y1="160.46" x2="214.90" y2="186.30"><stop offset="0.000" stop-color="#19a138"/><stop offset="0.120" stop-color="#249e37"/><stop offset="0.150" stop-color="#299d37"/><stop offset="0.250" stop-color="#5ca233"/><stop offset="0.350" stop-color="#89a431"/><stop offset="0.380" stop-color="#90a131"/><stop offset="0.520" stop-color="#a78f31"/><stop offset="0.550" stop-color="#ac8a31"/><stop offset="0.650" stop-color="#b77531"/><stop offset="0.750" stop-color="#c25e32"/><stop offset="0.780" stop-color="#c45435"/><stop offset="0.900" stop-color="#c82d41"/><stop offset="1.000" stop-color="#c01d42"/></linearGradient><linearGradient id="Lg79" gradientUnits="userSpaceOnUse" x1="205.74" y1="159.78" x2="216.39" y2="185.93"><stop offset="0.000" stop-color="#19a138"/><stop offset="0.120" stop-color="#249e37"/><stop offset="0.150" stop-color="#299d37"/><stop offset="0.250" stop-color="#5ca233"/><stop offset="0.350" stop-color="#89a431"/><stop offset="0.380" stop-color="#90a131"/><stop offset="0.520" stop-color="#a78f31"/><stop offset="0.550" stop-color="#ac8a31"/><stop offset="0.650" stop-color="#b77531"/><stop offset="0.750" stop-color="#c25e32"/><stop offset="0.780" stop-color="#c45435"/><stop offset="0.900" stop-color="#c82d41"/><stop offset="1.000" stop-color="#c01d42"/></linearGradient><linearGradient id="Lg80" gradientUnits="userSpaceOnUse" x1="207.23" y1="159.03" x2="218.06" y2="185.60"><stop offset="0.000" stop-color="#1ca438"/><stop offset="0.120" stop-color="#2fa534"/><stop offset="0.150" stop-color="#3aa634"/><stop offset="0.250" stop-color="#74ae32"/><stop offset="0.350" stop-color="#9cad33"/><stop offset="0.380" stop-color="#a3aa34"/><stop offset="0.520" stop-color="#b19634"/><stop offset="0.550" stop-color="#b59034"/><stop offset="0.650" stop-color="#be7634"/><stop offset="0.750" stop-color="#c75a37"/><stop offset="0.780" stop-color="#c94f3a"/><stop offset="0.900" stop-color="#c82844"/><stop offset="1.000" stop-color="#c01845"/></linearGradient><linearGradient id="Lg81" gradientUnits="userSpaceOnUse" x1="208.73" y1="158.29" x2="219.74" y2="185.32"><stop offset="0.000" stop-color="#1fa738"/><stop offset="0.120" stop-color="#3aac31"/><stop offset="0.150" stop-color="#4baf31"/><stop offset="0.250" stop-color="#8cba31"/><stop offset="0.350" stop-color="#aeb635"/><stop offset="0.380" stop-color="#b6b337"/><stop offset="0.520" stop-color="#bb9d37"/><stop offset="0.550" stop-color="#be9437"/><stop offset="0.650" stop-color="#c57737"/><stop offset="0.750" stop-color="#cc553c"/><stop offset="0.780" stop-color="#ce4a3e"/><stop offset="0.900" stop-color="#c82347"/><stop offset="1.000" stop-color="#c01348"/></linearGradient><linearGradient id="Lg82" gradientUnits="userSpaceOnUse" x1="210.15" y1="157.54" x2="221.36" y2="185.04"><stop offset="0.000" stop-color="#23ac37"/><stop offset="0.120" stop-color="#48b32f"/><stop offset="0.250" stop-color="#a0c32f"/><stop offset="0.380" stop-color="#c1b838"/><stop offset="0.400" stop-color="#c1b638"/><stop offset="0.520" stop-color="#c1a038"/><stop offset="0.540" stop-color="#c29a38"/><stop offset="0.650" stop-color="#c97838"/><stop offset="0.670" stop-color="#ca7139"/><stop offset="0.780" stop-color="#d04840"/><stop offset="0.800" stop-color="#cf4141"/><stop offset="0.900" stop-color="#c82048"/><stop offset="0.910" stop-color="#c71e48"/><stop offset="1.000" stop-color="#c0104a"/></linearGradient><linearGradient id="Lg83" gradientUnits="userSpaceOnUse" x1="211.46" y1="156.67" x2="222.90" y2="184.75"><stop offset="0.000" stop-color="#28b434"/><stop offset="0.120" stop-color="#58b82c"/><stop offset="0.250" stop-color="#b0c82c"/><stop offset="0.380" stop-color="#c4ba37"/><stop offset="0.400" stop-color="#c4b638"/><stop offset="0.520" stop-color="#c49e38"/><stop offset="0.540" stop-color="#c49938"/><stop offset="0.650" stop-color="#cc7738"/><stop offset="0.670" stop-color="#cc7038"/><stop offset="0.780" stop-color="#d04840"/><stop offset="0.800" stop-color="#d04040"/><stop offset="0.900" stop-color="#c82248"/><stop offset="0.910" stop-color="#c81f48"/><stop offset="1.000" stop-color="#c0104a"/></linearGradient><linearGradient id="Lg84" gradientUnits="userSpaceOnUse" x1="212.76" y1="155.81" x2="224.27" y2="184.06"><stop offset="0.000" stop-color="#2dbc31"/><stop offset="0.120" stop-color="#68bd29"/><stop offset="0.250" stop-color="#c0cd29"/><stop offset="0.380" stop-color="#c7ba36"/><stop offset="0.400" stop-color="#c7b838"/><stop offset="0.520" stop-color="#c79e38"/><stop offset="0.540" stop-color="#c79838"/><stop offset="0.650" stop-color="#ce7638"/><stop offset="0.670" stop-color="#cf7038"/><stop offset="0.780" stop-color="#d0473f"/><stop offset="0.800" stop-color="#d04040"/><stop offset="0.900" stop-color="#c92247"/><stop offset="0.910" stop-color="#c82048"/><stop offset="1.000" stop-color="#c0104a"/></linearGradient><linearGradient id="Lg85" gradientUnits="userSpaceOnUse" x1="214.07" y1="154.94" x2="225.65" y2="183.37"><stop offset="0.000" stop-color="#2dbc31"/><stop offset="0.120" stop-color="#68bd29"/><stop offset="0.250" stop-color="#c0cd29"/><stop offset="0.380" stop-color="#c7ba36"/><stop offset="0.400" stop-color="#c7b838"/><stop offset="0.520" stop-color="#c79e38"/><stop offset="0.540" stop-color="#c79838"/><stop offset="0.650" stop-color="#ce7638"/><stop offset="0.670" stop-color="#cf7038"/><stop offset="0.780" stop-color="#d0473f"/><stop offset="0.800" stop-color="#d04040"/><stop offset="0.900" stop-color="#c92247"/><stop offset="0.910" stop-color="#c82048"/><stop offset="1.000" stop-color="#c0104a"/></linearGradient><linearGradient id="Lg86" gradientUnits="userSpaceOnUse" x1="215.38" y1="154.08" x2="227.01" y2="182.64"><stop offset="0.000" stop-color="#28b434"/><stop offset="0.120" stop-color="#58b82c"/><stop offset="0.250" stop-color="#b0c82c"/><stop offset="0.380" stop-color="#c4ba37"/><stop offset="0.400" stop-color="#c4b638"/><stop offset="0.520" stop-color="#c49e38"/><stop offset="0.540" stop-color="#c49938"/><stop offset="0.650" stop-color="#cc7738"/><stop offset="0.670" stop-color="#cc7038"/><stop offset="0.780" stop-color="#d04840"/><stop offset="0.800" stop-color="#d04040"/><stop offset="0.900" stop-color="#c82248"/><stop offset="0.910" stop-color="#c81f48"/><stop offset="1.000" stop-color="#c0104a"/></linearGradient><linearGradient id="Lg87" gradientUnits="userSpaceOnUse" x1="216.68" y1="153.21" x2="228.28" y2="181.69"><stop offset="0.000" stop-color="#23ac37"/><stop offset="0.120" stop-color="#48b32f"/><stop offset="0.250" stop-color="#a0c32f"/><stop offset="0.380" stop-color="#c1b838"/><stop offset="0.400" stop-color="#c1b638"/><stop offset="0.520" stop-color="#c1a038"/><stop offset="0.540" stop-color="#c29a38"/><stop offset="0.650" stop-color="#c97838"/><stop offset="0.670" stop-color="#ca7139"/><stop offset="0.780" stop-color="#d04840"/><stop offset="0.800" stop-color="#cf4141"/><stop offset="0.900" stop-color="#c82048"/><stop offset="0.910" stop-color="#c71e48"/><stop offset="1.000" stop-color="#c0104a"/></linearGradient><linearGradient id="Lg88" gradientUnits="userSpaceOnUse" x1="218.00" y1="152.33" x2="229.57" y2="180.72"><stop offset="0.000" stop-color="#20a838"/><stop offset="0.120" stop-color="#40b030"/><stop offset="0.250" stop-color="#97bf2f"/><stop offset="0.380" stop-color="#bfb636"/><stop offset="0.400" stop-color="#c0b337"/><stop offset="0.520" stop-color="#c09d37"/><stop offset="0.550" stop-color="#c29437"/><stop offset="0.650" stop-color="#c87637"/><stop offset="0.700" stop-color="#ca6539"/><stop offset="0.780" stop-color="#d0483f"/><stop offset="0.830" stop-color="#ce3742"/><stop offset="0.900" stop-color="#c82048"/><stop offset="0.930" stop-color="#c61a49"/><stop offset="1.000" stop-color="#c0104a"/></linearGradient><linearGradient id="Lg89" gradientUnits="userSpaceOnUse" x1="219.34" y1="151.44" x2="230.87" y2="179.75"><stop offset="0.000" stop-color="#20a838"/><stop offset="0.120" stop-color="#40b030"/><stop offset="0.250" stop-color="#94bc2c"/><stop offset="0.380" stop-color="#bdb134"/><stop offset="0.400" stop-color="#c0ae34"/><stop offset="0.520" stop-color="#c09734"/><stop offset="0.550" stop-color="#c19034"/><stop offset="0.650" stop-color="#c67234"/><stop offset="0.700" stop-color="#ca6336"/><stop offset="0.780" stop-color="#ce483d"/><stop offset="0.830" stop-color="#ce3842"/><stop offset="0.900" stop-color="#c92147"/><stop offset="0.930" stop-color="#c71a48"/><stop offset="1.000" stop-color="#c0104a"/></linearGradient><linearGradient id="Lg90" gradientUnits="userSpaceOnUse" x1="220.67" y1="150.55" x2="232.17" y2="178.77"><stop offset="0.000" stop-color="#20a838"/><stop offset="0.120" stop-color="#40b030"/><stop offset="0.250" stop-color="#91b929"/><stop offset="0.380" stop-color="#bbac30"/><stop offset="0.400" stop-color="#c0aa31"/><stop offset="0.520" stop-color="#c09131"/><stop offset="0.550" stop-color="#c08a31"/><stop offset="0.650" stop-color="#c66f31"/><stop offset="0.700" stop-color="#c86132"/><stop offset="0.780" stop-color="#ce473b"/><stop offset="0.830" stop-color="#d03840"/><stop offset="0.900" stop-color="#ca2246"/><stop offset="0.930" stop-color="#c81848"/><stop offset="1.000" stop-color="#c0104a"/></linearGradient><linearGradient id="Lg91" gradientUnits="userSpaceOnUse" x1="222.01" y1="149.66" x2="233.47" y2="177.80"><stop offset="0.000" stop-color="#23ac37"/><stop offset="0.120" stop-color="#48b32f"/><stop offset="0.250" stop-color="#99bc28"/><stop offset="0.400" stop-color="#c1ab31"/><stop offset="0.540" stop-color="#c18c31"/><stop offset="0.550" stop-color="#c28a31"/><stop offset="0.670" stop-color="#c86931"/><stop offset="0.700" stop-color="#c96132"/><stop offset="0.800" stop-color="#ce413d"/><stop offset="0.830" stop-color="#d03840"/><stop offset="0.910" stop-color="#ca1e46"/><stop offset="0.930" stop-color="#c81948"/><stop offset="1.000" stop-color="#c0104a"/></linearGradient><linearGradient id="Lg92" gradientUnits="userSpaceOnUse" x1="223.33" y1="148.78" x2="234.76" y2="176.83"><stop offset="0.000" stop-color="#28b434"/><stop offset="0.120" stop-color="#58b82c"/><stop offset="0.250" stop-color="#acc428"/><stop offset="0.400" stop-color="#c4b034"/><stop offset="0.540" stop-color="#c49134"/><stop offset="0.550" stop-color="#c48e34"/><stop offset="0.670" stop-color="#cb6c34"/><stop offset="0.700" stop-color="#cc6235"/><stop offset="0.800" stop-color="#cf403e"/><stop offset="0.830" stop-color="#cf3841"/><stop offset="0.910" stop-color="#c91f47"/><stop offset="0.930" stop-color="#c71a48"/><stop offset="1.000" stop-color="#c0104a"/></linearGradient><linearGradient id="Lg93" gradientUnits="userSpaceOnUse" x1="224.66" y1="147.89" x2="236.16" y2="176.13"><stop offset="0.000" stop-color="#2dbc31"/><stop offset="0.120" stop-color="#68bd29"/><stop offset="0.250" stop-color="#bfcc28"/><stop offset="0.400" stop-color="#c7b537"/><stop offset="0.540" stop-color="#c79637"/><stop offset="0.550" stop-color="#c89337"/><stop offset="0.670" stop-color="#ce6f37"/><stop offset="0.700" stop-color="#cf6438"/><stop offset="0.800" stop-color="#d0403f"/><stop offset="0.830" stop-color="#ce3742"/><stop offset="0.910" stop-color="#c82048"/><stop offset="0.930" stop-color="#c61b48"/><stop offset="1.000" stop-color="#c0104a"/></linearGradient><linearGradient id="Lg94" gradientUnits="userSpaceOnUse" x1="226.08" y1="146.95" x2="237.82" y2="175.32"><stop offset="0.000" stop-color="#2dbc31"/><stop offset="0.120" stop-color="#68bd29"/><stop offset="0.250" stop-color="#c0cd29"/><stop offset="0.380" stop-color="#c7ba36"/><stop offset="0.400" stop-color="#c7b838"/><stop offset="0.520" stop-color="#c79e38"/><stop offset="0.540" stop-color="#c79838"/><stop offset="0.650" stop-color="#ce7638"/><stop offset="0.670" stop-color="#cf7038"/><stop offset="0.780" stop-color="#d0473f"/><stop offset="0.800" stop-color="#d04040"/><stop offset="0.900" stop-color="#c92247"/><stop offset="0.910" stop-color="#c82048"/><stop offset="1.000" stop-color="#c0104a"/></linearGradient><linearGradient id="Lg95" gradientUnits="userSpaceOnUse" x1="227.60" y1="145.93" x2="239.73" y2="174.41"><stop offset="0.000" stop-color="#28b434"/><stop offset="0.120" stop-color="#58b82c"/><stop offset="0.250" stop-color="#b0c82c"/><stop offset="0.380" stop-color="#c4ba37"/><stop offset="0.400" stop-color="#c4b638"/><stop offset="0.520" stop-color="#c49e38"/><stop offset="0.540" stop-color="#c49938"/><stop offset="0.650" stop-color="#cc7738"/><stop offset="0.670" stop-color="#cc7038"/><stop offset="0.780" stop-color="#d04840"/><stop offset="0.800" stop-color="#d04040"/><stop offset="0.900" stop-color="#c82248"/><stop offset="0.910" stop-color="#c81f48"/><stop offset="1.000" stop-color="#c0104a"/></linearGradient><linearGradient id="Lg96" gradientUnits="userSpaceOnUse" x1="229.06" y1="144.77" x2="241.70" y2="173.60"><stop offset="0.000" stop-color="#23ac37"/><stop offset="0.120" stop-color="#48b32f"/><stop offset="0.250" stop-color="#a0c32f"/><stop offset="0.380" stop-color="#c1b838"/><stop offset="0.400" stop-color="#c1b638"/><stop offset="0.520" stop-color="#c1a038"/><stop offset="0.540" stop-color="#c29a38"/><stop offset="0.650" stop-color="#c97838"/><stop offset="0.670" stop-color="#ca7139"/><stop offset="0.780" stop-color="#d04840"/><stop offset="0.800" stop-color="#cf4141"/><stop offset="0.900" stop-color="#c82048"/><stop offset="0.910" stop-color="#c71e48"/><stop offset="1.000" stop-color="#c0104a"/></linearGradient><linearGradient id="Lg97" gradientUnits="userSpaceOnUse" x1="230.47" y1="143.62" x2="243.62" y2="172.82"><stop offset="0.000" stop-color="#20a838"/><stop offset="0.120" stop-color="#40b030"/><stop offset="0.250" stop-color="#97bf2f"/><stop offset="0.380" stop-color="#bfb636"/><stop offset="0.400" stop-color="#c0b337"/><stop offset="0.520" stop-color="#c09d37"/><stop offset="0.550" stop-color="#c29437"/><stop offset="0.650" stop-color="#c87637"/><stop offset="0.700" stop-color="#ca6539"/><stop offset="0.780" stop-color="#d0483f"/><stop offset="0.830" stop-color="#ce3742"/><stop offset="0.900" stop-color="#c82048"/><stop offset="0.930" stop-color="#c61a49"/><stop offset="1.000" stop-color="#c0104a"/></linearGradient><linearGradient id="Lg98" gradientUnits="userSpaceOnUse" x1="231.85" y1="142.50" x2="245.46" y2="171.91"><stop offset="0.000" stop-color="#20a838"/><stop offset="0.120" stop-color="#40b030"/><stop offset="0.250" stop-color="#94bc2c"/><stop offset="0.380" stop-color="#bdb134"/><stop offset="0.400" stop-color="#c0ae34"/><stop offset="0.520" stop-color="#c09734"/><stop offset="0.550" stop-color="#c19034"/><stop offset="0.650" stop-color="#c67234"/><stop offset="0.700" stop-color="#ca6336"/><stop offset="0.780" stop-color="#ce483d"/><stop offset="0.830" stop-color="#ce3842"/><stop offset="0.900" stop-color="#c92147"/><stop offset="0.930" stop-color="#c71a48"/><stop offset="1.000" stop-color="#c0104a"/></linearGradient><linearGradient id="Lg99" gradientUnits="userSpaceOnUse" x1="233.17" y1="141.23" x2="247.18" y2="170.71"><stop offset="0.000" stop-color="#20a838"/><stop offset="0.120" stop-color="#40b030"/><stop offset="0.250" stop-color="#91b929"/><stop offset="0.380" stop-color="#bbac30"/><stop offset="0.400" stop-color="#c0aa31"/><stop offset="0.520" stop-color="#c09131"/><stop offset="0.550" stop-color="#c08a31"/><stop offset="0.650" stop-color="#c66f31"/><stop offset="0.700" stop-color="#c86132"/><stop offset="0.780" stop-color="#ce473b"/><stop offset="0.830" stop-color="#d03840"/><stop offset="0.900" stop-color="#ca2246"/><stop offset="0.930" stop-color="#c81848"/><stop offset="1.000" stop-color="#c0104a"/></linearGradient><linearGradient id="Lg100" gradientUnits="userSpaceOnUse" x1="234.26" y1="139.88" x2="249.30" y2="169.22"><stop offset="0.000" stop-color="#23ac37"/><stop offset="0.100" stop-color="#46b330"/><stop offset="0.120" stop-color="#4db42f"/><stop offset="0.220" stop-color="#8cba2a"/><stop offset="0.250" stop-color="#9bbb29"/><stop offset="0.340" stop-color="#b3ae2f"/><stop offset="0.400" stop-color="#c3a731"/><stop offset="0.460" stop-color="#c39931"/><stop offset="0.550" stop-color="#c38431"/><stop offset="0.580" stop-color="#c47c31"/><stop offset="0.700" stop-color="#c95b33"/><stop offset="0.830" stop-color="#cf3441"/><stop offset="0.840" stop-color="#ce3242"/><stop offset="0.930" stop-color="#c71848"/><stop offset="1.000" stop-color="#c0104a"/></linearGradient><linearGradient id="Lg101" gradientUnits="userSpaceOnUse" x1="235.28" y1="138.64" x2="251.60" y2="166.93"><stop offset="0.000" stop-color="#28b434"/><stop offset="0.100" stop-color="#5ebc2c"/><stop offset="0.120" stop-color="#66bc2c"/><stop offset="0.220" stop-color="#a7c329"/><stop offset="0.250" stop-color="#b0c02a"/><stop offset="0.340" stop-color="#beaf32"/><stop offset="0.400" stop-color="#c8a434"/><stop offset="0.460" stop-color="#c89634"/><stop offset="0.550" stop-color="#c87d34"/><stop offset="0.580" stop-color="#c97434"/><stop offset="0.700" stop-color="#cc5038"/><stop offset="0.830" stop-color="#cc2d44"/><stop offset="0.840" stop-color="#cc2a44"/><stop offset="0.930" stop-color="#c61848"/><stop offset="1.000" stop-color="#c0104a"/></linearGradient><linearGradient id="Lg102" gradientUnits="userSpaceOnUse" x1="236.30" y1="137.39" x2="253.79" y2="164.52"><stop offset="0.000" stop-color="#2dbc31"/><stop offset="0.100" stop-color="#74c42a"/><stop offset="0.120" stop-color="#80c529"/><stop offset="0.220" stop-color="#c2cc28"/><stop offset="0.250" stop-color="#c5c52b"/><stop offset="0.340" stop-color="#cab036"/><stop offset="0.400" stop-color="#cda137"/><stop offset="0.460" stop-color="#cd9237"/><stop offset="0.550" stop-color="#cd7637"/><stop offset="0.580" stop-color="#ce6c37"/><stop offset="0.700" stop-color="#cf453d"/><stop offset="0.830" stop-color="#ca2646"/><stop offset="0.840" stop-color="#c92447"/><stop offset="0.930" stop-color="#c51749"/><stop offset="1.000" stop-color="#c0104a"/></linearGradient><linearGradient id="Lg103" gradientUnits="userSpaceOnUse" x1="237.27" y1="135.77" x2="255.44" y2="162.24"><stop offset="0.000" stop-color="#30c030"/><stop offset="0.100" stop-color="#80c828"/><stop offset="0.220" stop-color="#d0d028"/><stop offset="0.340" stop-color="#d0b038"/><stop offset="0.460" stop-color="#d09038"/><stop offset="0.580" stop-color="#d06838"/><stop offset="0.700" stop-color="#d04040"/><stop offset="0.840" stop-color="#c82048"/><stop offset="1.000" stop-color="#c0104a"/></linearGradient><linearGradient id="Lg104" gradientUnits="userSpaceOnUse" x1="238.27" y1="133.77" x2="256.70" y2="160.10"><stop offset="0.000" stop-color="#30c030"/><stop offset="0.100" stop-color="#80c828"/><stop offset="0.220" stop-color="#d0d028"/><stop offset="0.340" stop-color="#d0b038"/><stop offset="0.460" stop-color="#d09038"/><stop offset="0.580" stop-color="#d06838"/><stop offset="0.700" stop-color="#d04040"/><stop offset="0.840" stop-color="#c82048"/><stop offset="1.000" stop-color="#c0104a"/></linearGradient><linearGradient id="Lg105" gradientUnits="userSpaceOnUse" x1="239.27" y1="131.77" x2="257.67" y2="157.56"><stop offset="0.000" stop-color="#30c030"/><stop offset="0.100" stop-color="#80c828"/><stop offset="0.220" stop-color="#d0d028"/><stop offset="0.340" stop-color="#d0b038"/><stop offset="0.460" stop-color="#d09038"/><stop offset="0.580" stop-color="#d06838"/><stop offset="0.700" stop-color="#d04040"/><stop offset="0.840" stop-color="#c82048"/><stop offset="1.000" stop-color="#c0104a"/></linearGradient><linearGradient id="Lg106" gradientUnits="userSpaceOnUse" x1="240.06" y1="129.84" x2="258.52" y2="155.47"><stop offset="0.000" stop-color="#30c030"/><stop offset="0.100" stop-color="#80c828"/><stop offset="0.220" stop-color="#d0d028"/><stop offset="0.340" stop-color="#d0b038"/><stop offset="0.460" stop-color="#d09038"/><stop offset="0.580" stop-color="#d06838"/><stop offset="0.700" stop-color="#d04040"/><stop offset="0.840" stop-color="#c82048"/><stop offset="1.000" stop-color="#c0104a"/></linearGradient><linearGradient id="Lg107" gradientUnits="userSpaceOnUse" x1="240.70" y1="127.97" x2="259.34" y2="153.86"><stop offset="0.000" stop-color="#30c030"/><stop offset="0.100" stop-color="#80c828"/><stop offset="0.220" stop-color="#d0d028"/><stop offset="0.340" stop-color="#d0b038"/><stop offset="0.460" stop-color="#d09038"/><stop offset="0.580" stop-color="#d06838"/><stop offset="0.700" stop-color="#d04040"/><stop offset="0.840" stop-color="#c82048"/><stop offset="1.000" stop-color="#c0104a"/></linearGradient><linearGradient id="Lg108" gradientUnits="userSpaceOnUse" x1="241.35" y1="126.10" x2="260.17" y2="152.24"><stop offset="0.000" stop-color="#30c030"/><stop offset="0.100" stop-color="#80c828"/><stop offset="0.220" stop-color="#d0d028"/><stop offset="0.340" stop-color="#d0b038"/><stop offset="0.460" stop-color="#d09038"/><stop offset="0.580" stop-color="#d06838"/><stop offset="0.700" stop-color="#d04040"/><stop offset="0.840" stop-color="#c82048"/><stop offset="1.000" stop-color="#c0104a"/></linearGradient><linearGradient id="Lg109" gradientUnits="userSpaceOnUse" x1="242.00" y1="124.18" x2="260.96" y2="150.51"><stop offset="0.000" stop-color="#2dbc31"/><stop offset="0.100" stop-color="#78c529"/><stop offset="0.220" stop-color="#c9cd29"/><stop offset="0.340" stop-color="#cfb038"/><stop offset="0.460" stop-color="#d09038"/><stop offset="0.580" stop-color="#d06838"/><stop offset="0.700" stop-color="#d04040"/><stop offset="0.840" stop-color="#c82048"/><stop offset="1.000" stop-color="#c0104a"/></linearGradient><linearGradient id="Lg110" gradientUnits="userSpaceOnUse" x1="242.93" y1="122.64" x2="261.61" y2="148.58"><stop offset="0.000" stop-color="#28b434"/><stop offset="0.100" stop-color="#68be2c"/><stop offset="0.220" stop-color="#bcc82c"/><stop offset="0.340" stop-color="#ccb038"/><stop offset="0.460" stop-color="#d09038"/><stop offset="0.580" stop-color="#d06838"/><stop offset="0.700" stop-color="#d04040"/><stop offset="0.840" stop-color="#c82048"/><stop offset="1.000" stop-color="#c0104a"/></linearGradient><linearGradient id="Lg111" gradientUnits="userSpaceOnUse" x1="243.90" y1="121.17" x2="262.25" y2="146.65"><stop offset="0.000" stop-color="#23ac37"/><stop offset="0.100" stop-color="#58b72f"/><stop offset="0.220" stop-color="#afc32f"/><stop offset="0.340" stop-color="#c9b038"/><stop offset="0.460" stop-color="#d09038"/><stop offset="0.580" stop-color="#d06838"/><stop offset="0.700" stop-color="#d04040"/><stop offset="0.840" stop-color="#c82048"/><stop offset="1.000" stop-color="#c0104a"/></linearGradient><linearGradient id="Lg112" gradientUnits="userSpaceOnUse" x1="244.89" y1="119.67" x2="262.98" y2="144.79"><stop offset="0.000" stop-color="#20a838"/><stop offset="0.100" stop-color="#50b430"/><stop offset="0.220" stop-color="#a8c030"/><stop offset="0.340" stop-color="#c8b038"/><stop offset="0.460" stop-color="#d09038"/><stop offset="0.580" stop-color="#d06838"/><stop offset="0.700" stop-color="#d04040"/><stop offset="0.840" stop-color="#c82048"/><stop offset="1.000" stop-color="#c0104a"/></linearGradient><linearGradient id="Lg113" gradientUnits="userSpaceOnUse" x1="246.28" y1="118.86" x2="264.05" y2="143.53"><stop offset="0.000" stop-color="#20a838"/><stop offset="0.100" stop-color="#50b430"/><stop offset="0.220" stop-color="#a8c030"/><stop offset="0.340" stop-color="#c8b038"/><stop offset="0.460" stop-color="#d09038"/><stop offset="0.580" stop-color="#d06838"/><stop offset="0.700" stop-color="#d04040"/><stop offset="0.840" stop-color="#c82048"/><stop offset="1.000" stop-color="#c0104a"/></linearGradient><linearGradient id="Lg114" gradientUnits="userSpaceOnUse" x1="247.74" y1="118.13" x2="265.12" y2="142.28"><stop offset="0.000" stop-color="#20a838"/><stop offset="0.100" stop-color="#50b430"/><stop offset="0.220" stop-color="#a8c030"/><stop offset="0.340" stop-color="#c8b038"/><stop offset="0.460" stop-color="#d09038"/><stop offset="0.580" stop-color="#d06838"/><stop offset="0.700" stop-color="#d04040"/><stop offset="0.840" stop-color="#c82048"/><stop offset="1.000" stop-color="#c0104a"/></linearGradient><linearGradient id="Lg115" gradientUnits="userSpaceOnUse" x1="249.32" y1="117.34" x2="266.28" y2="141.43"><stop offset="0.000" stop-color="#1fa738"/><stop offset="0.100" stop-color="#4ab131"/><stop offset="0.200" stop-color="#8ab930"/><stop offset="0.220" stop-color="#98bb30"/><stop offset="0.340" stop-color="#bbad37"/><stop offset="0.400" stop-color="#c2a037"/><stop offset="0.460" stop-color="#c89237"/><stop offset="0.580" stop-color="#cc6e37"/><stop offset="0.600" stop-color="#cd6838"/><stop offset="0.700" stop-color="#ce493d"/><stop offset="0.800" stop-color="#ca3242"/><stop offset="0.840" stop-color="#c82944"/><stop offset="1.000" stop-color="#c11748"/></linearGradient><linearGradient id="Lg116" gradientUnits="userSpaceOnUse" x1="251.04" y1="116.48" x2="267.57" y2="141.05"><stop offset="0.000" stop-color="#1ca438"/><stop offset="0.100" stop-color="#3eaa32"/><stop offset="0.200" stop-color="#6caf30"/><stop offset="0.220" stop-color="#78b030"/><stop offset="0.340" stop-color="#a0a834"/><stop offset="0.400" stop-color="#aea034"/><stop offset="0.460" stop-color="#b79434"/><stop offset="0.580" stop-color="#c67934"/><stop offset="0.600" stop-color="#c87434"/><stop offset="0.700" stop-color="#ca5a38"/><stop offset="0.800" stop-color="#c9443b"/><stop offset="0.840" stop-color="#c83c3e"/><stop offset="1.000" stop-color="#c42445"/></linearGradient><linearGradient id="Lg117" gradientUnits="userSpaceOnUse" x1="252.75" y1="115.63" x2="268.87" y2="140.67"><stop offset="0.000" stop-color="#19a138"/><stop offset="0.100" stop-color="#32a333"/><stop offset="0.200" stop-color="#4fa530"/><stop offset="0.220" stop-color="#58a530"/><stop offset="0.340" stop-color="#85a331"/><stop offset="0.400" stop-color="#9aa031"/><stop offset="0.460" stop-color="#a69831"/><stop offset="0.580" stop-color="#be8431"/><stop offset="0.600" stop-color="#c38232"/><stop offset="0.700" stop-color="#c66b33"/><stop offset="0.800" stop-color="#c85734"/><stop offset="0.840" stop-color="#c84f36"/><stop offset="1.000" stop-color="#c73142"/></linearGradient><linearGradient id="Lg118" gradientUnits="userSpaceOnUse" x1="254.33" y1="114.84" x2="270.33" y2="140.24"><stop offset="0.000" stop-color="#18a038"/><stop offset="0.200" stop-color="#41a030"/><stop offset="0.250" stop-color="#53a030"/><stop offset="0.400" stop-color="#8d9e30"/><stop offset="0.500" stop-color="#a79330"/><stop offset="0.600" stop-color="#bc8830"/><stop offset="0.750" stop-color="#c46c30"/><stop offset="0.800" stop-color="#c66330"/><stop offset="1.000" stop-color="#c73d3d"/></linearGradient><linearGradient id="Lg119" gradientUnits="userSpaceOnUse" x1="255.82" y1="114.09" x2="272.00" y2="139.79"><stop offset="0.000" stop-color="#18a038"/><stop offset="0.200" stop-color="#42a031"/><stop offset="0.250" stop-color="#52a030"/><stop offset="0.400" stop-color="#889b30"/><stop offset="0.500" stop-color="#a49230"/><stop offset="0.600" stop-color="#b58730"/><stop offset="0.750" stop-color="#bf7130"/><stop offset="0.800" stop-color="#c16930"/><stop offset="1.000" stop-color="#c44838"/></linearGradient><linearGradient id="Lg120" gradientUnits="userSpaceOnUse" x1="257.61" y1="113.81" x2="273.72" y2="139.41"><stop offset="0.000" stop-color="#18a038"/><stop offset="0.200" stop-color="#44a032"/><stop offset="0.250" stop-color="#51a030"/><stop offset="0.400" stop-color="#839830"/><stop offset="0.500" stop-color="#a19130"/><stop offset="0.600" stop-color="#ae8630"/><stop offset="0.750" stop-color="#ba7630"/><stop offset="0.800" stop-color="#bc6f30"/><stop offset="1.000" stop-color="#c15333"/></linearGradient><linearGradient id="Lg121" gradientUnits="userSpaceOnUse" x1="259.46" y1="113.60" x2="275.47" y2="139.03"><stop offset="0.000" stop-color="#18a038"/><stop offset="0.250" stop-color="#53a030"/><stop offset="0.500" stop-color="#a19330"/><stop offset="0.750" stop-color="#b87930"/><stop offset="1.000" stop-color="#c05930"/></linearGradient><linearGradient id="Lg122" gradientUnits="userSpaceOnUse" x1="261.40" y1="113.37" x2="277.51" y2="138.97"><stop offset="0.000" stop-color="#18a038"/><stop offset="0.250" stop-color="#58a030"/><stop offset="0.500" stop-color="#a49830"/><stop offset="0.750" stop-color="#b87c30"/><stop offset="1.000" stop-color="#c05c30"/></linearGradient><linearGradient id="Lg123" gradientUnits="userSpaceOnUse" x1="263.43" y1="113.28" x2="279.84" y2="139.36"><stop offset="0.000" stop-color="#18a038"/><stop offset="0.250" stop-color="#5da030"/><stop offset="0.500" stop-color="#a79d30"/><stop offset="0.750" stop-color="#b87f30"/><stop offset="1.000" stop-color="#c05f30"/></linearGradient><linearGradient id="Lg124" gradientUnits="userSpaceOnUse" x1="265.43" y1="113.25" x2="282.11" y2="139.73"><stop offset="0.000" stop-color="#18a038"/><stop offset="0.250" stop-color="#60a030"/><stop offset="0.500" stop-color="#a8a030"/><stop offset="0.750" stop-color="#b88030"/><stop offset="1.000" stop-color="#c06030"/></linearGradient><linearGradient id="Lg125" gradientUnits="userSpaceOnUse" x1="267.42" y1="113.23" x2="284.00" y2="139.56"><stop offset="0.000" stop-color="#18a038"/><stop offset="0.250" stop-color="#60a030"/><stop offset="0.500" stop-color="#a8a030"/><stop offset="0.750" stop-color="#b88030"/><stop offset="1.000" stop-color="#c06030"/></linearGradient><linearGradient id="Lg126" gradientUnits="userSpaceOnUse" x1="269.40" y1="113.20" x2="285.61" y2="138.95"><stop offset="0.000" stop-color="#18a038"/><stop offset="0.250" stop-color="#60a030"/><stop offset="0.500" stop-color="#a8a030"/><stop offset="0.750" stop-color="#b88030"/><stop offset="1.000" stop-color="#c06030"/></linearGradient><linearGradient id="Lg127" gradientUnits="userSpaceOnUse" x1="271.19" y1="114.79" x2="286.43" y2="138.64"><stop offset="0.000" stop-color="#3ca934"/><stop offset="0.250" stop-color="#78ad2b"/><stop offset="0.500" stop-color="#b2ad2b"/><stop offset="0.600" stop-color="#b6a22b"/><stop offset="0.750" stop-color="#b8912c"/><stop offset="0.850" stop-color="#b6852d"/><stop offset="1.000" stop-color="#b07330"/></linearGradient><linearGradient id="Lg128" gradientUnits="userSpaceOnUse" x1="271.87" y1="115.47" x2="287.01" y2="138.42"><stop offset="0.000" stop-color="#84bc2c"/><stop offset="0.250" stop-color="#a8c820"/><stop offset="0.500" stop-color="#c6c820"/><stop offset="0.600" stop-color="#c7c220"/><stop offset="0.750" stop-color="#b9b325"/><stop offset="0.850" stop-color="#aeaa28"/><stop offset="1.000" stop-color="#909830"/></linearGradient><linearGradient id="Lg129" gradientUnits="userSpaceOnUse" x1="272.35" y1="115.95" x2="287.59" y2="138.20"><stop offset="0.000" stop-color="#cccf24"/><stop offset="0.250" stop-color="#d8e315"/><stop offset="0.500" stop-color="#dbe315"/><stop offset="0.600" stop-color="#d8e015"/><stop offset="0.750" stop-color="#bad51e"/><stop offset="0.850" stop-color="#a4ce23"/><stop offset="1.000" stop-color="#70bd30"/></linearGradient><linearGradient id="Lg130" gradientUnits="userSpaceOnUse" x1="275.37" y1="118.29" x2="289.72" y2="137.38"><stop offset="0.000" stop-color="#f0cf23"/><stop offset="0.200" stop-color="#f0e615"/><stop offset="0.250" stop-color="#f0ec12"/><stop offset="0.400" stop-color="#eaf010"/><stop offset="0.600" stop-color="#dfef11"/><stop offset="0.750" stop-color="#bce61a"/><stop offset="0.850" stop-color="#9fe020"/><stop offset="1.000" stop-color="#5dd030"/></linearGradient><linearGradient id="Lg131" gradientUnits="userSpaceOnUse" x1="276.46" y1="117.38" x2="291.69" y2="135.00"><stop offset="0.000" stop-color="#f0bc28"/><stop offset="0.200" stop-color="#f0de1a"/><stop offset="0.250" stop-color="#f0e416"/><stop offset="0.400" stop-color="#ecf010"/><stop offset="0.600" stop-color="#dcee12"/><stop offset="0.750" stop-color="#c1e719"/><stop offset="0.850" stop-color="#9cdf21"/><stop offset="1.000" stop-color="#58d030"/></linearGradient><linearGradient id="Lg132" gradientUnits="userSpaceOnUse" x1="277.54" y1="116.48" x2="293.60" y2="132.69"><stop offset="0.000" stop-color="#f0a92d"/><stop offset="0.200" stop-color="#f0d41e"/><stop offset="0.250" stop-color="#f0dc1a"/><stop offset="0.400" stop-color="#eff010"/><stop offset="0.600" stop-color="#daec14"/><stop offset="0.750" stop-color="#c6e818"/><stop offset="0.850" stop-color="#99de22"/><stop offset="1.000" stop-color="#53d030"/></linearGradient><linearGradient id="Lg133" gradientUnits="userSpaceOnUse" x1="278.95" y1="115.29" x2="295.85" y2="130.08"><stop offset="0.000" stop-color="#f09830"/><stop offset="0.150" stop-color="#f0be26"/><stop offset="0.200" stop-color="#f0cb22"/><stop offset="0.300" stop-color="#f0df19"/><stop offset="0.400" stop-color="#f0ef11"/><stop offset="0.450" stop-color="#ebef11"/><stop offset="0.700" stop-color="#cde917"/><stop offset="0.750" stop-color="#c4e719"/><stop offset="0.880" stop-color="#86db25"/><stop offset="1.000" stop-color="#4bd030"/></linearGradient><linearGradient id="Lg134" gradientUnits="userSpaceOnUse" x1="280.71" y1="113.81" x2="298.53" y2="127.18"><stop offset="0.000" stop-color="#f08830"/><stop offset="0.150" stop-color="#f0b22a"/><stop offset="0.200" stop-color="#f0c226"/><stop offset="0.300" stop-color="#f0dc1c"/><stop offset="0.400" stop-color="#f0ec12"/><stop offset="0.450" stop-color="#edf010"/><stop offset="0.700" stop-color="#cbe818"/><stop offset="0.750" stop-color="#bce61a"/><stop offset="0.880" stop-color="#7dda26"/><stop offset="1.000" stop-color="#40d030"/></linearGradient><linearGradient id="Lg135" gradientUnits="userSpaceOnUse" x1="282.41" y1="112.28" x2="301.41" y2="124.45"><stop offset="0.000" stop-color="#f07830"/><stop offset="0.150" stop-color="#f0a62e"/><stop offset="0.200" stop-color="#f0b829"/><stop offset="0.300" stop-color="#f0d91f"/><stop offset="0.400" stop-color="#f0e914"/><stop offset="0.450" stop-color="#eff010"/><stop offset="0.700" stop-color="#c9e818"/><stop offset="0.750" stop-color="#b4e51b"/><stop offset="0.880" stop-color="#74d927"/><stop offset="1.000" stop-color="#35d030"/></linearGradient><linearGradient id="Lg136" gradientUnits="userSpaceOnUse" x1="284.31" y1="110.57" x2="304.16" y2="122.15"><stop offset="0.000" stop-color="#f07030"/><stop offset="0.150" stop-color="#f0a030"/><stop offset="0.300" stop-color="#f0d820"/><stop offset="0.450" stop-color="#f0f010"/><stop offset="0.700" stop-color="#c8e818"/><stop offset="0.880" stop-color="#70d828"/><stop offset="1.000" stop-color="#30d030"/></linearGradient><linearGradient id="Lg137" gradientUnits="userSpaceOnUse" x1="286.35" y1="108.65" x2="306.56" y2="120.14"><stop offset="0.000" stop-color="#f07030"/><stop offset="0.150" stop-color="#f0a030"/><stop offset="0.300" stop-color="#f0d820"/><stop offset="0.450" stop-color="#f0f010"/><stop offset="0.700" stop-color="#c8e818"/><stop offset="0.880" stop-color="#70d828"/><stop offset="1.000" stop-color="#30d030"/></linearGradient><linearGradient id="Lg138" gradientUnits="userSpaceOnUse" x1="288.30" y1="106.70" x2="308.57" y2="117.90"><stop offset="0.000" stop-color="#f07030"/><stop offset="0.150" stop-color="#f0a030"/><stop offset="0.300" stop-color="#f0d820"/><stop offset="0.450" stop-color="#f0f010"/><stop offset="0.700" stop-color="#c8e818"/><stop offset="0.880" stop-color="#70d828"/><stop offset="1.000" stop-color="#30d030"/></linearGradient><linearGradient id="Lg139" gradientUnits="userSpaceOnUse" x1="290.54" y1="104.34" x2="310.83" y2="115.10"><stop offset="0.000" stop-color="#f07530"/><stop offset="0.150" stop-color="#f0a42f"/><stop offset="0.300" stop-color="#f0d91f"/><stop offset="0.450" stop-color="#f0ef10"/><stop offset="0.500" stop-color="#e9ee12"/><stop offset="0.700" stop-color="#c6e719"/><stop offset="0.720" stop-color="#bde51b"/><stop offset="0.880" stop-color="#6fd728"/><stop offset="0.900" stop-color="#64d629"/><stop offset="1.000" stop-color="#30d030"/></linearGradient><linearGradient id="Lg140" gradientUnits="userSpaceOnUse" x1="292.87" y1="101.49" x2="313.09" y2="111.60"><stop offset="0.000" stop-color="#f08030"/><stop offset="0.150" stop-color="#f0ac2c"/><stop offset="0.300" stop-color="#f0dc1c"/><stop offset="0.450" stop-color="#f0ee11"/><stop offset="0.500" stop-color="#ecef11"/><stop offset="0.700" stop-color="#c2e41c"/><stop offset="0.720" stop-color="#bbe31d"/><stop offset="0.880" stop-color="#6dd528"/><stop offset="0.900" stop-color="#62d428"/><stop offset="1.000" stop-color="#30d030"/></linearGradient><linearGradient id="Lg141" gradientUnits="userSpaceOnUse" x1="294.84" y1="98.46" x2="314.92" y2="107.89"><stop offset="0.000" stop-color="#f08b30"/><stop offset="0.150" stop-color="#f0b429"/><stop offset="0.300" stop-color="#f0df19"/><stop offset="0.450" stop-color="#f0ed12"/><stop offset="0.500" stop-color="#eff010"/><stop offset="0.700" stop-color="#bfe21e"/><stop offset="0.720" stop-color="#b9e11f"/><stop offset="0.880" stop-color="#6bd327"/><stop offset="0.900" stop-color="#61d128"/><stop offset="1.000" stop-color="#30d030"/></linearGradient><linearGradient id="Lg142" gradientUnits="userSpaceOnUse" x1="295.95" y1="95.06" x2="316.46" y2="104.23"><stop offset="0.000" stop-color="#f08d30"/><stop offset="0.150" stop-color="#f0b528"/><stop offset="0.180" stop-color="#f0bd26"/><stop offset="0.300" stop-color="#f0de19"/><stop offset="0.350" stop-color="#f0e316"/><stop offset="0.500" stop-color="#eeee11"/><stop offset="0.550" stop-color="#e2eb15"/><stop offset="0.720" stop-color="#b5df21"/><stop offset="0.780" stop-color="#99da24"/><stop offset="0.900" stop-color="#61d02a"/><stop offset="1.000" stop-color="#33cf31"/></linearGradient><linearGradient id="Lg143" gradientUnits="userSpaceOnUse" x1="297.06" y1="91.70" x2="317.69" y2="100.61"><stop offset="0.000" stop-color="#f08830"/><stop offset="0.150" stop-color="#f0b028"/><stop offset="0.180" stop-color="#f0b826"/><stop offset="0.300" stop-color="#f0d91a"/><stop offset="0.350" stop-color="#f0e217"/><stop offset="0.500" stop-color="#eaeb14"/><stop offset="0.550" stop-color="#e2ea16"/><stop offset="0.720" stop-color="#aede22"/><stop offset="0.780" stop-color="#96da26"/><stop offset="0.900" stop-color="#62d02c"/><stop offset="1.000" stop-color="#38cc34"/></linearGradient><linearGradient id="Lg144" gradientUnits="userSpaceOnUse" x1="298.16" y1="88.34" x2="319.35" y2="97.17"><stop offset="0.000" stop-color="#f08330"/><stop offset="0.150" stop-color="#f0ab29"/><stop offset="0.180" stop-color="#f0b328"/><stop offset="0.300" stop-color="#f0d41c"/><stop offset="0.350" stop-color="#f0e118"/><stop offset="0.500" stop-color="#e6e817"/><stop offset="0.550" stop-color="#e0e917"/><stop offset="0.720" stop-color="#a8dd23"/><stop offset="0.780" stop-color="#92d827"/><stop offset="0.900" stop-color="#63cf30"/><stop offset="1.000" stop-color="#3dc937"/></linearGradient><linearGradient id="Lg145" gradientUnits="userSpaceOnUse" x1="299.11" y1="85.48" x2="321.23" y2="94.53"><stop offset="0.000" stop-color="#f07f30"/><stop offset="0.180" stop-color="#f0af28"/><stop offset="0.350" stop-color="#f0e018"/><stop offset="0.550" stop-color="#e0e818"/><stop offset="0.780" stop-color="#90d828"/><stop offset="1.000" stop-color="#40c838"/></linearGradient><linearGradient id="Lg146" gradientUnits="userSpaceOnUse" x1="299.89" y1="83.13" x2="322.71" y2="92.46"><stop offset="0.000" stop-color="#f07c30"/><stop offset="0.180" stop-color="#f0ac28"/><stop offset="0.350" stop-color="#f0e018"/><stop offset="0.550" stop-color="#e0e818"/><stop offset="0.780" stop-color="#90d828"/><stop offset="1.000" stop-color="#40c838"/></linearGradient><linearGradient id="Lg147" gradientUnits="userSpaceOnUse" x1="300.68" y1="80.77" x2="324.18" y2="90.39"><stop offset="0.000" stop-color="#f07930"/><stop offset="0.180" stop-color="#f0a928"/><stop offset="0.350" stop-color="#f0e018"/><stop offset="0.550" stop-color="#e0e818"/><stop offset="0.780" stop-color="#90d828"/><stop offset="1.000" stop-color="#40c838"/></linearGradient><linearGradient id="Lg148" gradientUnits="userSpaceOnUse" x1="301.68" y1="78.90" x2="324.87" y2="88.71"><stop offset="0.000" stop-color="#f07c30"/><stop offset="0.180" stop-color="#f0ac28"/><stop offset="0.220" stop-color="#f0b825"/><stop offset="0.350" stop-color="#efdf19"/><stop offset="0.450" stop-color="#e8e518"/><stop offset="0.550" stop-color="#dce719"/><stop offset="0.750" stop-color="#96d826"/><stop offset="0.780" stop-color="#8cd628"/><stop offset="1.000" stop-color="#40c838"/></linearGradient><linearGradient id="Lg149" gradientUnits="userSpaceOnUse" x1="302.78" y1="77.44" x2="325.16" y2="87.57"><stop offset="0.000" stop-color="#f08430"/><stop offset="0.180" stop-color="#f0b328"/><stop offset="0.220" stop-color="#f0be26"/><stop offset="0.350" stop-color="#eedd1c"/><stop offset="0.450" stop-color="#e8e618"/><stop offset="0.550" stop-color="#d2e41a"/><stop offset="0.750" stop-color="#8dd527"/><stop offset="0.780" stop-color="#84d429"/><stop offset="1.000" stop-color="#40c838"/></linearGradient><linearGradient id="Lg150" gradientUnits="userSpaceOnUse" x1="303.88" y1="75.99" x2="325.44" y2="86.42"><stop offset="0.000" stop-color="#f08c30"/><stop offset="0.180" stop-color="#f0ba29"/><stop offset="0.220" stop-color="#f0c527"/><stop offset="0.350" stop-color="#ecdb1e"/><stop offset="0.450" stop-color="#e8e718"/><stop offset="0.550" stop-color="#cae11c"/><stop offset="0.750" stop-color="#84d228"/><stop offset="0.780" stop-color="#7cd02a"/><stop offset="1.000" stop-color="#40c838"/></linearGradient><linearGradient id="Lg151" gradientUnits="userSpaceOnUse" x1="304.96" y1="74.37" x2="325.83" y2="84.89"><stop offset="0.000" stop-color="#f0952f"/><stop offset="0.220" stop-color="#f0c927"/><stop offset="0.300" stop-color="#eed422"/><stop offset="0.450" stop-color="#e5e619"/><stop offset="0.600" stop-color="#b5dd20"/><stop offset="0.750" stop-color="#82d128"/><stop offset="1.000" stop-color="#40c838"/></linearGradient><linearGradient id="Lg152" gradientUnits="userSpaceOnUse" x1="305.90" y1="72.50" x2="326.31" y2="82.97"><stop offset="0.000" stop-color="#f0a02c"/><stop offset="0.220" stop-color="#f0ca25"/><stop offset="0.300" stop-color="#eed621"/><stop offset="0.450" stop-color="#dee21c"/><stop offset="0.600" stop-color="#b6de20"/><stop offset="0.750" stop-color="#86d428"/><stop offset="1.000" stop-color="#40c838"/></linearGradient><linearGradient id="Lg153" gradientUnits="userSpaceOnUse" x1="306.83" y1="70.64" x2="326.79" y2="81.05"><stop offset="0.000" stop-color="#f0ab29"/><stop offset="0.220" stop-color="#f0cc23"/><stop offset="0.300" stop-color="#f0d720"/><stop offset="0.450" stop-color="#d7de1f"/><stop offset="0.600" stop-color="#b7df20"/><stop offset="0.750" stop-color="#89d629"/><stop offset="1.000" stop-color="#40c838"/></linearGradient><linearGradient id="Lg154" gradientUnits="userSpaceOnUse" x1="307.86" y1="68.58" x2="327.28" y2="79.06"><stop offset="0.000" stop-color="#efb825"/><stop offset="0.300" stop-color="#ecd920"/><stop offset="0.400" stop-color="#dbdc20"/><stop offset="0.600" stop-color="#b3de21"/><stop offset="0.700" stop-color="#96d826"/><stop offset="1.000" stop-color="#3dc738"/></linearGradient><linearGradient id="Lg155" gradientUnits="userSpaceOnUse" x1="308.99" y1="66.32" x2="327.78" y2="76.99"><stop offset="0.000" stop-color="#ecc820"/><stop offset="0.300" stop-color="#e3dc1f"/><stop offset="0.400" stop-color="#d6de20"/><stop offset="0.600" stop-color="#aada22"/><stop offset="0.700" stop-color="#8dd527"/><stop offset="1.000" stop-color="#38c438"/></linearGradient><linearGradient id="Lg156" gradientUnits="userSpaceOnUse" x1="309.97" y1="63.99" x2="328.28" y2="74.91"><stop offset="0.000" stop-color="#e9d81b"/><stop offset="0.300" stop-color="#dadf1e"/><stop offset="0.400" stop-color="#d2df20"/><stop offset="0.600" stop-color="#a0d724"/><stop offset="0.700" stop-color="#84d228"/><stop offset="1.000" stop-color="#33c138"/></linearGradient><linearGradient id="Lg157" gradientUnits="userSpaceOnUse" x1="310.70" y1="61.55" x2="328.81" y2="72.72"><stop offset="0.000" stop-color="#dcdd1b"/><stop offset="0.400" stop-color="#c0dc22"/><stop offset="0.500" stop-color="#a7d825"/><stop offset="0.700" stop-color="#78ce2a"/><stop offset="1.000" stop-color="#30c038"/></linearGradient><linearGradient id="Lg158" gradientUnits="userSpaceOnUse" x1="311.41" y1="59.14" x2="329.37" y2="70.43"><stop offset="0.000" stop-color="#c4d820"/><stop offset="0.400" stop-color="#9ed527"/><stop offset="0.500" stop-color="#8ad22a"/><stop offset="0.700" stop-color="#66ca2e"/><stop offset="1.000" stop-color="#30c038"/></linearGradient><linearGradient id="Lg159" gradientUnits="userSpaceOnUse" x1="312.13" y1="56.73" x2="329.92" y2="68.13"><stop offset="0.000" stop-color="#acd325"/><stop offset="0.400" stop-color="#7ece2c"/><stop offset="0.500" stop-color="#6ecb2e"/><stop offset="0.700" stop-color="#56c731"/><stop offset="1.000" stop-color="#30c038"/></linearGradient><linearGradient id="Lg160" gradientUnits="userSpaceOnUse" x1="312.88" y1="54.57" x2="330.42" y2="66.03"><stop offset="0.000" stop-color="#93cd29"/><stop offset="0.500" stop-color="#5bc730"/><stop offset="1.000" stop-color="#2dbd39"/></linearGradient><linearGradient id="Lg161" gradientUnits="userSpaceOnUse" x1="313.58" y1="52.59" x2="330.88" y2="64.12"><stop offset="0.000" stop-color="#78c82c"/><stop offset="0.500" stop-color="#50c430"/><stop offset="1.000" stop-color="#28b83c"/></linearGradient><linearGradient id="Lg162" gradientUnits="userSpaceOnUse" x1="314.28" y1="50.61" x2="331.33" y2="62.21"><stop offset="0.000" stop-color="#5dc32f"/><stop offset="0.500" stop-color="#45c130"/><stop offset="1.000" stop-color="#23b33f"/></linearGradient><linearGradient id="Lg163" gradientUnits="userSpaceOnUse" x1="314.77" y1="48.56" x2="331.82" y2="60.28"><stop offset="0.000" stop-color="#68c32d"/><stop offset="0.400" stop-color="#55c32d"/><stop offset="0.500" stop-color="#4dc22e"/><stop offset="0.700" stop-color="#38bb35"/><stop offset="1.000" stop-color="#20b040"/></linearGradient><linearGradient id="Lg164" gradientUnits="userSpaceOnUse" x1="315.16" y1="46.48" x2="332.33" y2="58.29"><stop offset="0.000" stop-color="#98c828"/><stop offset="0.400" stop-color="#7ac828"/><stop offset="0.500" stop-color="#68c62a"/><stop offset="0.700" stop-color="#42bd33"/><stop offset="1.000" stop-color="#20b040"/></linearGradient><linearGradient id="Lg165" gradientUnits="userSpaceOnUse" x1="315.55" y1="44.41" x2="332.84" y2="56.29"><stop offset="0.000" stop-color="#c8cd23"/><stop offset="0.400" stop-color="#9ecd23"/><stop offset="0.500" stop-color="#83c927"/><stop offset="0.700" stop-color="#4bbf31"/><stop offset="1.000" stop-color="#20b040"/></linearGradient><linearGradient id="Lg166" gradientUnits="userSpaceOnUse" x1="315.95" y1="42.27" x2="333.34" y2="54.35"><stop offset="0.000" stop-color="#e1c921"/><stop offset="0.300" stop-color="#c3d120"/><stop offset="0.400" stop-color="#b5d120"/><stop offset="0.600" stop-color="#78c72a"/><stop offset="0.700" stop-color="#58c130"/><stop offset="1.000" stop-color="#20b040"/></linearGradient><linearGradient id="Lg167" gradientUnits="userSpaceOnUse" x1="316.82" y1="40.40" x2="333.82" y2="52.47"><stop offset="0.000" stop-color="#e4bc24"/><stop offset="0.300" stop-color="#d2d420"/><stop offset="0.400" stop-color="#c0d222"/><stop offset="0.600" stop-color="#88ca2a"/><stop offset="0.700" stop-color="#68c42f"/><stop offset="1.000" stop-color="#20b040"/></linearGradient><linearGradient id="Lg168" gradientUnits="userSpaceOnUse" x1="317.74" y1="38.58" x2="334.31" y2="50.60"><stop offset="0.000" stop-color="#e7af27"/><stop offset="0.300" stop-color="#e1d720"/><stop offset="0.400" stop-color="#cbd422"/><stop offset="0.600" stop-color="#98ce28"/><stop offset="0.700" stop-color="#78c72e"/><stop offset="1.000" stop-color="#20b040"/></linearGradient><linearGradient id="Lg169" gradientUnits="userSpaceOnUse" x1="318.57" y1="36.77" x2="334.80" y2="48.68"><stop offset="0.000" stop-color="#e8ac27"/><stop offset="0.300" stop-color="#e8d920"/><stop offset="0.600" stop-color="#9bcf28"/><stop offset="1.000" stop-color="#1dad44"/></linearGradient><linearGradient id="Lg170" gradientUnits="userSpaceOnUse" x1="319.00" y1="34.73" x2="335.32" y2="46.69"><stop offset="0.000" stop-color="#e8b424"/><stop offset="0.300" stop-color="#e8dc20"/><stop offset="0.600" stop-color="#90cc28"/><stop offset="1.000" stop-color="#18a84c"/></linearGradient><linearGradient id="Lg171" gradientUnits="userSpaceOnUse" x1="319.44" y1="32.68" x2="335.71" y2="44.61"><stop offset="0.000" stop-color="#e8bc21"/><stop offset="0.300" stop-color="#e8df20"/><stop offset="0.600" stop-color="#85c928"/><stop offset="1.000" stop-color="#13a354"/></linearGradient><linearGradient id="Lg172" gradientUnits="userSpaceOnUse" x1="319.87" y1="30.66" x2="336.02" y2="42.51"><stop offset="0.000" stop-color="#dcc321"/><stop offset="0.300" stop-color="#d2db22"/><stop offset="0.400" stop-color="#b2d425"/><stop offset="0.600" stop-color="#71c32d"/><stop offset="0.700" stop-color="#56b939"/><stop offset="1.000" stop-color="#109b5b"/></linearGradient><linearGradient id="Lg173" gradientUnits="userSpaceOnUse" x1="320.26" y1="28.63" x2="336.34" y2="40.42"><stop offset="0.000" stop-color="#c4c824"/><stop offset="0.300" stop-color="#a6d227"/><stop offset="0.400" stop-color="#8acc2a"/><stop offset="0.600" stop-color="#52ba36"/><stop offset="0.700" stop-color="#3aaf42"/><stop offset="1.000" stop-color="#109060"/></linearGradient><linearGradient id="Lg174" gradientUnits="userSpaceOnUse" x1="320.66" y1="26.60" x2="336.26" y2="38.04"><stop offset="0.000" stop-color="#accd27"/><stop offset="0.300" stop-color="#7ac92c"/><stop offset="0.400" stop-color="#64c42e"/><stop offset="0.600" stop-color="#34b040"/><stop offset="0.700" stop-color="#1ea54b"/><stop offset="1.000" stop-color="#108565"/></linearGradient><linearGradient id="Lg175" gradientUnits="userSpaceOnUse" x1="321.03" y1="24.65" x2="336.08" y2="35.64"><stop offset="0.000" stop-color="#8dcb2b"/><stop offset="0.400" stop-color="#46bb36"/><stop offset="0.500" stop-color="#34b240"/><stop offset="0.700" stop-color="#109e53"/><stop offset="1.000" stop-color="#108069"/></linearGradient><linearGradient id="Lg176" gradientUnits="userSpaceOnUse" x1="321.32" y1="22.69" x2="335.91" y2="33.25"><stop offset="0.000" stop-color="#68c030"/><stop offset="0.400" stop-color="#33b241"/><stop offset="0.500" stop-color="#26aa4a"/><stop offset="0.700" stop-color="#109a59"/><stop offset="1.000" stop-color="#10806c"/></linearGradient><linearGradient id="Lg177" gradientUnits="userSpaceOnUse" x1="321.53" y1="20.68" x2="335.53" y2="30.72"><stop offset="0.000" stop-color="#43b535"/><stop offset="0.400" stop-color="#20a84c"/><stop offset="0.500" stop-color="#17a453"/><stop offset="0.700" stop-color="#10955f"/><stop offset="1.000" stop-color="#10806f"/></linearGradient><linearGradient id="Lg178" gradientUnits="userSpaceOnUse" x1="321.72" y1="18.92" x2="334.93" y2="28.31"><stop offset="0.000" stop-color="#2ca549"/><stop offset="0.500" stop-color="#119465"/><stop offset="1.000" stop-color="#11777b"/></linearGradient><linearGradient id="Lg179" gradientUnits="userSpaceOnUse" x1="321.88" y1="17.37" x2="334.39" y2="26.17"><stop offset="0.000" stop-color="#24906c"/><stop offset="0.500" stop-color="#147c80"/><stop offset="1.000" stop-color="#146490"/></linearGradient><linearGradient id="Lg180" gradientUnits="userSpaceOnUse" x1="321.57" y1="15.48" x2="333.86" y2="24.04"><stop offset="0.000" stop-color="#1c7b8f"/><stop offset="0.500" stop-color="#17649b"/><stop offset="1.000" stop-color="#1751a5"/></linearGradient><linearGradient id="Lg181" gradientUnits="userSpaceOnUse" x1="321.20" y1="13.55" x2="332.52" y2="21.25"><stop offset="0.000" stop-color="#1869a3"/><stop offset="0.500" stop-color="#1855a9"/><stop offset="1.000" stop-color="#1848b0"/></linearGradient><linearGradient id="Lg182" gradientUnits="userSpaceOnUse" x1="320.78" y1="11.37" x2="330.88" y2="17.95"><stop offset="0.000" stop-color="#185ca8"/><stop offset="0.500" stop-color="#1850ac"/><stop offset="1.000" stop-color="#1848b0"/></linearGradient><linearGradient id="Lg183" gradientUnits="userSpaceOnUse" x1="319.95" y1="8.93" x2="327.29" y2="13.46"><stop offset="0.000" stop-color="#184fad"/><stop offset="0.500" stop-color="#184baf"/><stop offset="1.000" stop-color="#1848b0"/></linearGradient><linearGradient id="Lg184" gradientUnits="userSpaceOnUse" x1="318.53" y1="6.37" x2="324.02" y2="9.67"><stop offset="0.000" stop-color="#1848b0"/><stop offset="1.000" stop-color="#1848b0"/></linearGradient><linearGradient id="Lg185" gradientUnits="userSpaceOnUse" x1="317.21" y1="4.01" x2="320.03" y2="5.71"><stop offset="0.000" stop-color="#1848b0"/><stop offset="1.000" stop-color="#1848b0"/></linearGradient><linearGradient id="Lg186" gradientUnits="userSpaceOnUse" x1="316.83" y1="2.22" x2="326.83" y2="8.22"><stop offset="0.000" stop-color="#1848b0"/><stop offset="1.000" stop-color="#1848b0"/></linearGradient></defs><g clip-path="url(#Lclip)"><polygon points="54.60,231.46 66.30,224.97 119.50,290.49 107.80,296.98" fill="url(#Lg0)" /><polygon points="65.60,225.36 74.28,220.04 127.48,285.56 118.80,290.88" fill="url(#Lg1)" /><polygon points="73.60,220.46 79.29,217.05 132.49,282.57 126.80,285.98" fill="url(#Lg2)" /><polygon points="78.60,217.46 83.85,215.48 137.05,281.00 131.80,282.98" fill="url(#Lg3)" /><polygon points="83.10,215.76 89.35,213.37 142.55,278.89 136.30,281.28" fill="url(#Lg4)" /><polygon points="88.60,213.66 93.83,211.34 147.03,276.86 141.80,279.18" fill="url(#Lg5)" /><polygon points="93.10,211.66 98.92,208.92 152.12,274.44 146.30,277.18" fill="url(#Lg6)" /><polygon points="98.20,209.26 98.86,210.67 150.94,276.47 151.40,274.78" fill="url(#Lg7)" /><polygon points="98.64,209.90 98.77,206.10 150.85,271.90 150.72,275.70" fill="url(#Lg8)" /><polygon points="98.74,206.90 98.87,203.60 150.95,269.40 150.82,272.70" fill="url(#Lg9)" /><polygon points="98.84,204.40 98.97,201.10 151.05,266.90 150.92,270.20" fill="url(#Lg10)" /><polygon points="98.94,201.90 99.07,198.60 151.15,264.40 151.02,267.70" fill="url(#Lg11)" /><polygon points="99.04,199.40 99.91,195.31 150.31,262.51 151.12,265.20" fill="url(#Lg12)" /><polygon points="99.80,196.10 100.86,192.97 150.32,261.10 150.20,263.30" fill="url(#Lg13)" /><polygon points="100.63,193.73 101.69,190.60 150.22,259.67 150.10,261.87" fill="url(#Lg14)" /><polygon points="101.47,191.37 102.52,188.23 150.12,258.23 150.00,260.43" fill="url(#Lg15)" /><polygon points="102.30,189.00 104.70,186.57 151.37,256.57 149.90,259.00" fill="url(#Lg16)" /><polygon points="104.17,187.17 106.57,184.74 152.30,254.74 150.83,257.17" fill="url(#Lg17)" /><polygon points="106.03,185.33 108.44,182.91 153.24,252.91 151.77,255.33" fill="url(#Lg18)" /><polygon points="107.90,183.50 110.68,181.15 155.48,251.15 152.70,253.50" fill="url(#Lg19)" /><polygon points="110.07,181.67 112.84,179.32 157.64,249.32 154.87,251.67" fill="url(#Lg20)" /><polygon points="112.23,179.83 115.01,177.48 159.81,247.48 157.03,249.83" fill="url(#Lg21)" /><polygon points="114.40,178.00 117.61,176.07 161.47,246.07 159.20,248.00" fill="url(#Lg22)" /><polygon points="116.93,176.50 120.14,174.57 163.07,244.57 160.80,246.50" fill="url(#Lg23)" /><polygon points="119.47,175.00 122.67,173.07 164.67,243.07 162.40,245.00" fill="url(#Lg24)" /><polygon points="122.00,173.50 124.90,172.01 165.97,242.01 164.00,243.50" fill="url(#Lg25)" /><polygon points="124.20,172.40 127.10,170.91 167.23,240.91 165.27,242.40" fill="url(#Lg26)" /><polygon points="126.40,171.30 129.30,169.81 168.50,239.81 166.53,241.30" fill="url(#Lg27)" /><polygon points="128.60,170.20 132.28,169.57 169.61,238.64 167.80,240.20" fill="url(#Lg28)" /><polygon points="131.50,169.77 135.18,169.14 170.64,237.27 168.83,238.83" fill="url(#Lg29)" /><polygon points="134.40,169.33 138.08,168.70 171.68,235.90 169.87,237.47" fill="url(#Lg30)" /><polygon points="137.30,168.90 138.59,165.87 170.33,233.07 170.90,236.10" fill="url(#Lg31)" /><polygon points="138.37,166.63 139.66,163.60 169.53,230.80 170.10,233.83" fill="url(#Lg32)" /><polygon points="139.43,164.37 140.73,161.33 168.73,228.53 169.30,231.57" fill="url(#Lg33)" /><polygon points="140.50,162.10 142.24,161.40 170.24,228.60 168.50,229.30" fill="url(#Lg34)" /><polygon points="141.50,161.70 143.24,161.00 171.24,228.20 169.50,228.90" fill="url(#Lg35)" /><polygon points="142.50,161.30 144.24,160.60 172.24,227.80 170.50,228.50" fill="url(#Lg36)" /><polygon points="143.50,160.90 145.26,160.31 173.26,227.51 171.50,228.10" fill="url(#Lg37)" /><polygon points="144.50,160.57 146.26,159.98 174.26,227.18 172.50,227.77" fill="url(#Lg38)" /><polygon points="145.50,160.23 147.26,159.65 175.26,226.85 173.50,227.43" fill="url(#Lg39)" /><polygon points="146.50,159.90 148.44,159.35 176.44,226.55 174.50,227.10" fill="url(#Lg40)" /><polygon points="147.67,159.57 149.60,159.01 177.60,226.21 175.67,226.77" fill="url(#Lg41)" /><polygon points="148.83,159.23 150.77,158.68 178.77,225.88 176.83,226.43" fill="url(#Lg42)" /><polygon points="150.00,158.90 151.94,158.35 179.94,225.55 178.00,226.10" fill="url(#Lg43)" /><polygon points="151.17,158.57 153.10,158.01 181.10,225.21 179.17,225.77" fill="url(#Lg44)" /><polygon points="152.33,158.23 154.27,157.68 182.27,224.88 180.33,225.43" fill="url(#Lg45)" /><polygon points="153.50,157.90 155.30,157.72 183.30,224.92 181.50,225.10" fill="url(#Lg46)" /><polygon points="154.50,157.80 156.30,157.62 184.30,224.82 182.50,225.00" fill="url(#Lg47)" /><polygon points="155.50,157.70 157.30,157.52 185.30,224.72 183.50,224.90" fill="url(#Lg48)" /><polygon points="156.50,157.60 158.44,158.15 186.44,225.35 184.50,224.80" fill="url(#Lg49)" /><polygon points="157.67,157.93 159.60,158.49 187.60,225.69 185.67,225.13" fill="url(#Lg50)" /><polygon points="158.83,158.27 160.77,158.82 188.77,226.02 186.83,225.47" fill="url(#Lg51)" /><polygon points="160.00,158.60 162.05,157.58 190.05,224.78 188.00,225.80" fill="url(#Lg52)" /><polygon points="161.33,157.93 163.38,156.91 191.38,224.11 189.33,225.13" fill="url(#Lg53)" /><polygon points="162.67,157.27 164.72,156.24 192.72,223.44 190.67,224.47" fill="url(#Lg54)" /><polygon points="164.00,156.60 166.10,155.97 194.10,223.17 192.00,223.80" fill="url(#Lg55)" /><polygon points="165.33,156.20 167.43,155.57 195.43,222.77 193.33,223.40" fill="url(#Lg56)" /><polygon points="166.67,155.80 168.77,155.17 196.77,222.37 194.67,223.00" fill="url(#Lg57)" /><polygon points="168.00,155.40 169.94,154.85 197.94,222.05 196.00,222.60" fill="url(#Lg58)" /><polygon points="169.17,155.07 171.10,154.51 199.10,221.71 197.17,222.27" fill="url(#Lg59)" /><polygon points="170.33,154.73 172.27,154.18 200.27,221.38 198.33,221.93" fill="url(#Lg60)" /><polygon points="171.50,154.40 173.73,153.41 201.73,220.61 199.50,221.60" fill="url(#Lg61)" /><polygon points="173.00,153.73 175.23,152.74 203.23,219.94 201.00,220.93" fill="url(#Lg62)" /><polygon points="174.50,153.07 176.73,152.08 204.73,219.28 202.50,220.27" fill="url(#Lg63)" /><polygon points="176.00,152.40 178.34,150.90 206.34,218.10 204.00,219.60" fill="url(#Lg64)" /><polygon points="177.67,151.33 180.01,149.84 208.01,217.04 205.67,218.53" fill="url(#Lg65)" /><polygon points="179.33,150.27 181.67,148.77 209.67,215.97 207.33,217.47" fill="url(#Lg66)" /><polygon points="181.00,149.20 183.00,147.90 211.00,215.10 209.00,216.40" fill="url(#Lg67)" /><polygon points="182.33,148.33 184.34,147.03 212.34,214.23 210.33,215.53" fill="url(#Lg68)" /><polygon points="183.67,147.47 185.67,146.16 213.67,213.36 211.67,214.67" fill="url(#Lg69)" /><polygon points="185.00,146.60 186.37,144.92 217.17,213.05 213.00,213.80" fill="url(#Lg70)" /><polygon points="185.73,145.40 187.11,143.72 220.71,212.79 216.53,213.53" fill="url(#Lg71)" /><polygon points="186.47,144.20 187.84,142.52 224.24,212.52 220.07,213.27" fill="url(#Lg72)" /><polygon points="187.20,143.00 190.06,142.35 224.60,214.22 223.60,213.00" fill="url(#Lg73)" /><polygon points="189.27,142.43 192.13,141.79 224.80,215.52 223.80,214.30" fill="url(#Lg74)" /><polygon points="191.33,141.87 194.20,141.22 225.00,216.82 224.00,215.60" fill="url(#Lg75)" /><polygon points="193.40,141.30 195.60,142.52 226.40,218.12 224.20,216.90" fill="url(#Lg76)" /><polygon points="194.90,142.13 197.10,143.36 227.90,218.96 225.70,217.73" fill="url(#Lg77)" /><polygon points="196.40,142.97 198.60,144.19 229.40,219.79 227.20,218.57" fill="url(#Lg78)" /><polygon points="197.90,143.80 200.12,142.72 230.92,218.32 228.70,219.40" fill="url(#Lg79)" /><polygon points="199.40,143.07 201.62,141.98 232.42,217.58 230.20,218.67" fill="url(#Lg80)" /><polygon points="200.90,142.33 203.12,141.25 233.92,216.85 231.70,217.93" fill="url(#Lg81)" /><polygon points="202.40,141.60 204.42,140.39 235.22,215.99 233.20,217.20" fill="url(#Lg82)" /><polygon points="203.73,140.80 205.75,139.59 236.55,215.19 234.53,216.40" fill="url(#Lg83)" /><polygon points="205.07,140.00 207.09,138.79 237.89,214.39 235.87,215.60" fill="url(#Lg84)" /><polygon points="206.40,139.20 208.42,137.99 239.22,213.59 237.20,214.80" fill="url(#Lg85)" /><polygon points="207.73,138.40 209.75,137.19 240.55,212.79 238.53,214.00" fill="url(#Lg86)" /><polygon points="209.07,137.60 211.09,136.39 241.89,211.99 239.87,213.20" fill="url(#Lg87)" /><polygon points="210.40,136.80 212.40,135.45 243.20,211.05 241.20,212.40" fill="url(#Lg88)" /><polygon points="211.73,135.90 213.73,134.55 244.53,210.15 242.53,211.50" fill="url(#Lg89)" /><polygon points="213.07,135.00 215.06,133.65 245.86,209.25 243.87,210.60" fill="url(#Lg90)" /><polygon points="214.40,134.10 216.40,132.80 247.20,208.40 245.20,209.70" fill="url(#Lg91)" /><polygon points="215.73,133.23 217.74,131.93 248.54,207.53 246.53,208.83" fill="url(#Lg92)" /><polygon points="217.07,132.37 219.07,131.06 249.87,206.66 247.87,207.97" fill="url(#Lg93)" /><polygon points="218.40,131.50 220.35,129.97 252.09,205.57 249.20,207.10" fill="url(#Lg94)" /><polygon points="219.70,130.43 221.65,128.90 254.32,204.50 251.43,206.03" fill="url(#Lg95)" /><polygon points="221.00,129.37 222.95,127.84 256.55,203.44 253.67,204.97" fill="url(#Lg96)" /><polygon points="222.30,128.30 224.02,126.52 258.55,202.12 255.90,203.90" fill="url(#Lg97)" /><polygon points="223.43,127.07 225.15,125.29 260.62,200.89 257.97,202.67" fill="url(#Lg98)" /><polygon points="224.57,125.83 226.29,124.06 262.69,199.66 260.03,201.43" fill="url(#Lg99)" /><polygon points="225.70,124.60 226.40,123.11 266.53,196.84 262.10,200.20" fill="url(#Lg100)" /><polygon points="225.90,123.73 226.60,122.24 270.46,194.11 266.03,197.47" fill="url(#Lg101)" /><polygon points="226.10,122.87 226.80,121.37 274.40,191.37 269.97,194.73" fill="url(#Lg102)" /><polygon points="226.30,122.00 227.46,119.28 275.99,189.28 273.90,192.00" fill="url(#Lg103)" /><polygon points="227.10,120.00 228.26,117.28 277.72,187.28 275.63,190.00" fill="url(#Lg104)" /><polygon points="227.90,118.00 229.06,115.28 279.46,185.28 277.37,188.00" fill="url(#Lg105)" /><polygon points="228.70,116.00 229.64,113.41 280.04,183.41 279.10,186.00" fill="url(#Lg106)" /><polygon points="229.37,114.17 230.31,111.58 280.71,181.58 279.77,184.17" fill="url(#Lg107)" /><polygon points="230.03,112.33 230.97,109.75 281.37,179.75 280.43,182.33" fill="url(#Lg108)" /><polygon points="230.70,110.50 231.89,108.12 282.29,178.12 281.10,180.50" fill="url(#Lg109)" /><polygon points="231.53,108.83 232.72,106.45 283.12,176.45 281.93,178.83" fill="url(#Lg110)" /><polygon points="232.37,107.17 233.56,104.78 283.96,174.78 282.77,177.17" fill="url(#Lg111)" /><polygon points="233.20,105.50 235.20,104.15 285.60,174.15 283.60,175.50" fill="url(#Lg112)" /><polygon points="234.53,104.60 236.53,103.25 286.93,173.25 284.93,174.60" fill="url(#Lg113)" /><polygon points="235.87,103.70 237.86,102.35 288.26,172.35 286.27,173.70" fill="url(#Lg114)" /><polygon points="237.20,102.80 239.76,101.08 289.23,172.94 287.60,172.80" fill="url(#Lg115)" /><polygon points="239.07,101.47 241.63,99.74 290.16,173.48 288.53,173.33" fill="url(#Lg116)" /><polygon points="240.93,100.13 243.50,98.41 291.10,174.01 289.47,173.87" fill="url(#Lg117)" /><polygon points="242.80,98.80 245.24,98.12 292.84,173.72 290.40,174.40" fill="url(#Lg118)" /><polygon points="244.47,98.33 246.90,97.65 294.50,173.25 292.07,173.93" fill="url(#Lg119)" /><polygon points="246.13,97.87 248.57,97.18 296.17,172.78 293.73,173.47" fill="url(#Lg120)" /><polygon points="247.80,97.40 250.60,97.21 298.20,172.81 295.40,173.00" fill="url(#Lg121)" /><polygon points="249.80,97.27 252.60,97.08 300.20,172.68 297.40,172.87" fill="url(#Lg122)" /><polygon points="251.80,97.13 254.60,96.95 302.20,172.55 299.40,172.73" fill="url(#Lg123)" /><polygon points="253.80,97.00 256.60,97.00 304.20,172.60 301.40,172.60" fill="url(#Lg124)" /><polygon points="255.80,97.00 258.60,97.00 306.20,172.60 303.40,172.60" fill="url(#Lg125)" /><polygon points="257.80,97.00 260.60,97.00 308.20,172.60 305.40,172.60" fill="url(#Lg126)" /><polygon points="259.80,97.00 262.39,100.97 307.19,170.03 307.40,172.60" fill="url(#Lg127)" /><polygon points="261.90,100.33 264.49,104.30 306.49,166.83 306.70,169.40" fill="url(#Lg128)" /><polygon points="264.00,103.67 266.59,107.63 305.79,163.63 306.00,166.20" fill="url(#Lg129)" /><polygon points="266.10,107.00 267.12,106.30 310.05,159.50 305.30,163.00" fill="url(#Lg130)" /><polygon points="266.47,106.77 267.48,106.07 314.15,156.47 309.40,159.97" fill="url(#Lg131)" /><polygon points="266.83,106.53 267.85,105.84 318.25,153.44 313.50,156.93" fill="url(#Lg132)" /><polygon points="267.20,106.30 268.65,104.99 322.78,148.85 317.60,153.90" fill="url(#Lg133)" /><polygon points="268.07,105.53 269.52,104.22 327.38,144.35 322.20,149.40" fill="url(#Lg134)" /><polygon points="268.93,104.77 270.38,103.45 331.98,139.85 326.80,144.90" fill="url(#Lg135)" /><polygon points="269.80,104.00 272.38,101.71 333.98,137.18 331.40,140.40" fill="url(#Lg136)" /><polygon points="271.80,102.27 274.38,99.98 335.98,134.51 333.40,137.73" fill="url(#Lg137)" /><polygon points="273.80,100.53 276.38,98.24 337.98,131.84 335.40,135.07" fill="url(#Lg138)" /><polygon points="275.80,98.80 278.24,95.53 339.84,127.27 337.40,132.40" fill="url(#Lg139)" /><polygon points="277.80,96.20 280.24,92.93 341.84,122.80 339.40,127.93" fill="url(#Lg140)" /><polygon points="279.80,93.60 282.24,90.33 343.84,118.33 341.40,123.47" fill="url(#Lg141)" /><polygon points="281.80,91.00 283.23,87.11 344.83,114.18 343.40,119.00" fill="url(#Lg142)" /><polygon points="282.97,87.87 284.40,83.98 346.00,110.11 344.57,114.93" fill="url(#Lg143)" /><polygon points="284.13,84.73 285.56,80.84 347.16,106.04 345.73,110.87" fill="url(#Lg144)" /><polygon points="285.30,81.60 286.40,78.51 348.00,103.71 346.90,106.80" fill="url(#Lg145)" /><polygon points="286.13,79.27 287.24,76.18 348.84,101.38 347.73,104.47" fill="url(#Lg146)" /><polygon points="286.97,76.93 288.07,73.85 349.67,99.05 348.57,102.13" fill="url(#Lg147)" /><polygon points="287.80,74.60 289.64,72.23 349.38,98.37 349.40,99.80" fill="url(#Lg148)" /><polygon points="289.20,72.90 291.04,70.53 348.91,97.60 348.93,99.03" fill="url(#Lg149)" /><polygon points="290.60,71.20 292.44,68.83 348.44,96.83 348.47,98.27" fill="url(#Lg150)" /><polygon points="292.00,69.50 293.58,66.96 348.65,94.96 348.00,97.50" fill="url(#Lg151)" /><polygon points="293.20,67.67 294.78,65.13 348.92,93.13 348.27,95.67" fill="url(#Lg152)" /><polygon points="294.40,65.83 295.98,63.30 349.18,91.30 348.53,93.83" fill="url(#Lg153)" /><polygon points="295.60,64.00 297.12,60.73 349.38,89.66 348.80,92.00" fill="url(#Lg154)" /><polygon points="296.80,61.47 298.32,58.20 349.65,88.06 349.07,90.40" fill="url(#Lg155)" /><polygon points="298.00,58.93 299.52,55.66 349.92,86.46 349.33,88.80" fill="url(#Lg156)" /><polygon points="299.20,56.40 300.50,53.31 349.97,84.11 349.60,87.20" fill="url(#Lg157)" /><polygon points="300.23,54.07 301.54,50.98 350.07,81.78 349.70,84.87" fill="url(#Lg158)" /><polygon points="301.27,51.73 302.57,48.65 350.17,79.45 349.80,82.53" fill="url(#Lg159)" /><polygon points="302.30,49.40 303.42,46.64 350.09,77.44 349.90,80.20" fill="url(#Lg160)" /><polygon points="303.17,47.40 304.29,44.64 350.02,75.44 349.83,78.20" fill="url(#Lg161)" /><polygon points="304.03,45.40 305.15,42.64 349.95,73.44 349.77,76.20" fill="url(#Lg162)" /><polygon points="304.90,43.40 305.59,40.62 350.39,71.42 349.70,74.20" fill="url(#Lg163)" /><polygon points="305.40,41.40 306.09,38.62 350.89,69.42 350.20,72.20" fill="url(#Lg164)" /><polygon points="305.90,39.40 306.59,36.62 351.39,67.42 350.70,70.20" fill="url(#Lg165)" /><polygon points="306.40,37.40 307.52,34.64 351.39,65.44 351.20,68.20" fill="url(#Lg166)" /><polygon points="307.27,35.40 308.39,32.64 351.32,63.44 351.13,66.20" fill="url(#Lg167)" /><polygon points="308.13,33.40 309.25,30.64 351.25,61.44 351.07,64.20" fill="url(#Lg168)" /><polygon points="309.00,31.40 309.69,28.62 351.69,59.42 351.00,62.20" fill="url(#Lg169)" /><polygon points="309.50,29.40 310.19,26.62 352.19,57.42 351.50,60.20" fill="url(#Lg170)" /><polygon points="310.00,27.40 310.69,24.62 352.69,55.42 352.00,58.20" fill="url(#Lg171)" /><polygon points="310.50,25.40 311.10,22.62 353.10,53.42 352.50,56.20" fill="url(#Lg172)" /><polygon points="310.93,23.40 311.54,20.62 353.54,51.42 352.93,54.20" fill="url(#Lg173)" /><polygon points="311.37,21.40 311.97,18.62 353.97,49.42 353.37,52.20" fill="url(#Lg174)" /><polygon points="311.80,19.40 312.33,16.81 353.39,46.67 353.80,50.20" fill="url(#Lg175)" /><polygon points="312.23,17.60 312.76,15.01 352.89,43.94 353.30,47.47" fill="url(#Lg176)" /><polygon points="312.67,15.80 313.19,13.21 352.39,41.21 352.80,44.73" fill="url(#Lg177)" /><polygon points="313.10,14.00 313.30,11.73 351.57,38.80 352.30,42.00" fill="url(#Lg178)" /><polygon points="313.30,12.53 313.50,10.27 350.83,36.40 351.57,39.60" fill="url(#Lg179)" /><polygon points="313.50,11.07 313.70,8.80 350.10,34.00 350.83,37.20" fill="url(#Lg180)" /><polygon points="313.70,9.60 313.41,7.10 347.01,29.50 350.10,34.80" fill="url(#Lg181)" /><polygon points="313.63,7.87 313.35,5.36 344.15,24.96 347.23,30.27" fill="url(#Lg182)" /><polygon points="313.57,6.13 313.28,3.63 341.28,20.43 344.37,25.73" fill="url(#Lg183)" /><polygon points="313.50,4.40 312.16,1.51 340.16,18.31 341.50,21.20" fill="url(#Lg184)" /><polygon points="312.50,2.23 311.16,-0.66 339.16,16.14 340.50,19.03" fill="url(#Lg185)" /><polygon points="311.50,0.07 310.16,-2.83 338.16,13.97 339.50,16.87" fill="url(#Lg186)" /><defs><linearGradient id="olv" gradientUnits="userSpaceOnUse" x1="113" y1="230" x2="114" y2="255"><stop offset="0" stop-color="#a8a830"/><stop offset="0.5" stop-color="#a88030"/><stop offset="1" stop-color="#b85030"/></linearGradient></defs><polygon points="109.7,223.6 128.5,246.9 109.7,256.5" fill="url(#olv)"/><line x1="109.8" y1="227.5" x2="128.4" y2="247" stroke="#20a040" stroke-width="0.9"/><defs><linearGradient id="lidg" x1="0" y1="0" x2="0.3" y2="1"><stop offset="0" stop-color="#2cb034"/><stop offset="0.6" stop-color="#40b430"/><stop offset="1" stop-color="#70bc28"/></linearGradient></defs><polygon points="146.3,176.8 153,174 159.6,172 163,171.6 164.6,175 161,180.8 147.5,182.8" fill="url(#lidg)"/><polyline points="146.6,182.9 161,180.8 164.6,175" fill="none" stroke="#109848" stroke-width="0.9"/><polygon points="212.0,155.3 212.8,155.3 229.3,195.8 228.5,195.8" fill="#000" fill-opacity="0.058"/><polygon points="215.0,153.3 216.1,153.3 232.6,193.8 231.5,193.8" fill="#fff" fill-opacity="0.051"/><polygon points="218.8,150.8 219.6,150.8 236.1,191.3 235.3,191.3" fill="#fff" fill-opacity="0.12"/><polygon points="221.5,149.0 222.8,149.0 239.3,189.5 238.0,189.5" fill="#fff" fill-opacity="0.095"/><polygon points="224.1,147.3 225.2,147.3 241.7,187.8 240.6,187.8" fill="#000" fill-opacity="0.066"/><polygon points="227.7,144.9 228.8,144.9 245.3,185.4 244.2,185.4" fill="#fff" fill-opacity="0.103"/><polygon points="231.0,142.2 231.8,142.2 248.3,182.7 247.5,182.7" fill="#fff" fill-opacity="0.111"/><polygon points="233.8,139.5 235.0,139.5 251.5,180.0 250.3,180.0" fill="#000" fill-opacity="0.076"/><polygon points="237.8,133.7 238.7,133.7 259.7,174.2 258.8,174.2" fill="#000" fill-opacity="0.062"/><polygon points="241.6,124.4 242.9,124.4 269.9,161.9 268.6,161.9" fill="#fff" fill-opacity="0.06"/><polygon points="244.3,119.5 245.7,119.5 272.7,157.0 271.3,157.0" fill="#fff" fill-opacity="0.094"/><polygon points="247.3,117.3 248.3,117.3 275.3,154.8 274.3,154.8" fill="#fff" fill-opacity="0.075"/><polygon points="250.5,115.8 251.5,115.8 278.5,153.3 277.5,153.3" fill="#000" fill-opacity="0.074"/><polygon points="254.4,113.8 255.7,113.8 282.7,151.3 281.4,151.3" fill="#000" fill-opacity="0.074"/><polygon points="257.0,112.9 258.3,112.9 285.3,150.4 284.0,150.4" fill="#000" fill-opacity="0.085"/><polygon points="260.4,112.5 261.6,112.5 288.6,150.0 287.4,150.0" fill="#fff" fill-opacity="0.108"/><polygon points="263.8,112.3 264.6,112.3 291.6,149.8 290.8,149.8" fill="#fff" fill-opacity="0.11"/><polygon points="267.6,112.2 268.2,112.2 295.2,149.7 294.6,149.7" fill="#000" fill-opacity="0.061"/><polygon points="172.5,170.2 176.5,169.3 192.5,207.7 188.5,208.6" fill="#000" fill-opacity="0.16"/><polygon points="189.5,162.2 193.5,159.5 209.5,197.9 205.5,200.6" fill="#000" fill-opacity="0.14"/><polygon points="203.0,160.2 206.5,160.0 220.8,195.1 217.3,195.3" fill="#000" fill-opacity="0.1"/><polygon points="163.0,172.0 167.0,173.0 183.0,211.4 179.0,210.4" fill="#fff" fill-opacity="0.1"/><polygon points="140.0,184.6 144.5,183.3 164.1,218.3 159.6,219.6" fill="#000" fill-opacity="0.1"/><polygon points="255.5,113.3 270.5,113.2 280.6,126.6 277,129.5 259,115.5" fill="#0f8c58"/></g>
<defs><clipPath id="Rclip"><polygon points="414.00,244.00 429.50,234.70 436.70,230.50 445.00,227.60 455.20,223.00 456.00,211.30 457.00,206.00 459.20,201.80 463.20,198.00 466.70,194.80 470.60,192.00 474.50,189.40 479.20,186.80 484.50,184.10 490.70,182.80 492.20,179.50 492.70,175.50 498.70,173.50 505.30,171.50 507.90,171.50 510.60,173.80 512.60,172.10 518.50,169.50 522.50,168.80 529.20,165.60 535.70,161.00 540.70,157.50 544.60,156.20 546.60,157.20 549.60,160.20 551.60,159.20 555.60,157.20 561.50,153.30 567.50,149.30 573.50,145.30 578.40,141.30 582.40,136.40 585.40,130.40 587.80,123.40 590.70,119.00 595.70,116.50 601.70,113.50 607.70,112.80 615.30,112.70 624.00,120.60 630.90,116.70 635.90,111.70 640.80,105.80 644.80,97.80 647.80,89.90 650.80,81.90 654.80,76.00 657.90,70.80 660.90,61.80 662.40,52.90 664.60,43.90 666.80,35.00 668.80,30.50 670.20,23.80 670.80,18.50 670.20,13.20 668.20,7.90 665.10,3.50 670.80,8.60 675.50,14.60 678.80,19.90 680.80,26.50 682.10,31.80 682.20,35.00 681.30,43.90 679.20,52.90 676.50,61.80 673.50,70.80 671.30,78.20 669.70,80.50 665.70,89.90 661.70,97.80 658.70,104.80 654.80,111.70 650.80,117.70 644.80,123.70 639.90,130.00 635.50,136.50 628.80,139.40 622.20,138.30 617.20,139.40 611.40,141.10 608.50,144.50 606.50,150.50 604.00,155.40 602.10,160.40 599.60,163.90 595.60,168.30 590.60,171.80 585.20,174.00 580.50,176.30 576.50,179.30 572.50,182.30 568.50,184.30 562.60,185.30 558.60,186.30 554.60,187.30 550.70,189.50 548.30,192.30 544.80,195.20 540.10,198.10 535.50,199.20 532.00,200.40 528.50,205.00 523.90,206.40 512.30,206.20 505.30,206.80 500.70,209.10 498.50,211.10 493.20,214.40 487.90,219.00 482.60,224.30 478.60,229.60 476.00,234.50 475.60,236.90 474.10,246.60 455.40,256.00 444.10,262.30 441.40,263.80 433.10,267.40"/></clipPath><linearGradient id="Rg0" gradientUnits="userSpaceOnUse" x1="417.61" y1="241.83" x2="437.00" y2="265.71"><stop offset="0.000" stop-color="#14ac4e"/></linearGradient><linearGradient id="Rg1" gradientUnits="userSpaceOnUse" x1="427.01" y1="236.20" x2="446.92" y2="260.73"><stop offset="0.000" stop-color="#10a047"/></linearGradient><linearGradient id="Rg2" gradientUnits="userSpaceOnUse" x1="433.57" y1="232.33" x2="453.60" y2="257.00"><stop offset="0.000" stop-color="#15ae50"/></linearGradient><linearGradient id="Rg3" gradientUnits="userSpaceOnUse" x1="438.28" y1="229.95" x2="458.26" y2="254.56"><stop offset="0.000" stop-color="#1ec060"/></linearGradient><linearGradient id="Rg4" gradientUnits="userSpaceOnUse" x1="443.37" y1="228.17" x2="462.91" y2="252.23"><stop offset="0.000" stop-color="#16b052"/></linearGradient><linearGradient id="Rg5" gradientUnits="userSpaceOnUse" x1="448.36" y1="226.09" x2="467.65" y2="249.84"><stop offset="0.000" stop-color="#10a046"/></linearGradient><linearGradient id="Rg6" gradientUnits="userSpaceOnUse" x1="453.18" y1="223.91" x2="472.33" y2="247.49"><stop offset="0.000" stop-color="#14aa4c"/></linearGradient><linearGradient id="Rg7" gradientUnits="userSpaceOnUse" x1="455.11" y1="223.04" x2="474.03" y2="246.64"><stop offset="0.000" stop-color="#14aa4c"/></linearGradient><linearGradient id="Rg8" gradientUnits="userSpaceOnUse" x1="455.32" y1="221.29" x2="474.30" y2="245.28"><stop offset="0.000" stop-color="#70b828"/><stop offset="0.300" stop-color="#b8b828"/><stop offset="0.600" stop-color="#c89830"/><stop offset="1.000" stop-color="#c87830"/></linearGradient><linearGradient id="Rg9" gradientUnits="userSpaceOnUse" x1="455.50" y1="218.64" x2="474.68" y2="242.87"><stop offset="0.000" stop-color="#b0c820"/><stop offset="0.400" stop-color="#d8d020"/><stop offset="0.700" stop-color="#d8b828"/><stop offset="1.000" stop-color="#d09830"/></linearGradient><linearGradient id="Rg10" gradientUnits="userSpaceOnUse" x1="455.66" y1="216.22" x2="475.02" y2="240.67"><stop offset="0.000" stop-color="#a8c020"/><stop offset="0.400" stop-color="#c8a828"/><stop offset="0.700" stop-color="#d09030"/><stop offset="1.000" stop-color="#d08030"/></linearGradient><linearGradient id="Rg11" gradientUnits="userSpaceOnUse" x1="455.83" y1="213.80" x2="475.36" y2="238.48"><stop offset="0.000" stop-color="#c8d420"/><stop offset="0.350" stop-color="#e0d820"/><stop offset="0.700" stop-color="#d8a828"/><stop offset="1.000" stop-color="#d88830"/></linearGradient><linearGradient id="Rg12" gradientUnits="userSpaceOnUse" x1="456.06" y1="210.98" x2="475.68" y2="236.44"><stop offset="0.000" stop-color="#60b830"/><stop offset="0.250" stop-color="#c8c020"/><stop offset="0.550" stop-color="#d09030"/><stop offset="0.800" stop-color="#d87030"/><stop offset="1.000" stop-color="#d86030"/></linearGradient><linearGradient id="Rg13" gradientUnits="userSpaceOnUse" x1="456.56" y1="208.31" x2="475.98" y2="234.62"><stop offset="0.000" stop-color="#2fb730"/><stop offset="0.100" stop-color="#7ac527"/><stop offset="0.150" stop-color="#a6cd21"/><stop offset="0.200" stop-color="#b9d01e"/><stop offset="0.320" stop-color="#d9d619"/><stop offset="0.350" stop-color="#ded618"/><stop offset="0.500" stop-color="#dab423"/><stop offset="0.600" stop-color="#d89e29"/><stop offset="0.680" stop-color="#d8902c"/><stop offset="0.850" stop-color="#d87130"/><stop offset="1.000" stop-color="#d75931"/></linearGradient><linearGradient id="Rg14" gradientUnits="userSpaceOnUse" x1="457.04" y1="205.92" x2="476.62" y2="233.33"><stop offset="0.000" stop-color="#2cb430"/><stop offset="0.100" stop-color="#62c02a"/><stop offset="0.150" stop-color="#92c824"/><stop offset="0.200" stop-color="#b2cd1f"/><stop offset="0.320" stop-color="#d8d418"/><stop offset="0.350" stop-color="#dcd01a"/><stop offset="0.500" stop-color="#d8af25"/><stop offset="0.600" stop-color="#d7992a"/><stop offset="0.680" stop-color="#d88a2e"/><stop offset="0.850" stop-color="#d86430"/><stop offset="1.000" stop-color="#d44c34"/></linearGradient><linearGradient id="Rg15" gradientUnits="userSpaceOnUse" x1="457.97" y1="204.16" x2="477.28" y2="232.09"><stop offset="0.000" stop-color="#29b130"/><stop offset="0.100" stop-color="#4cbb2e"/><stop offset="0.150" stop-color="#7ec327"/><stop offset="0.200" stop-color="#abca20"/><stop offset="0.320" stop-color="#d8d118"/><stop offset="0.350" stop-color="#d8cc1a"/><stop offset="0.500" stop-color="#d5aa27"/><stop offset="0.600" stop-color="#d6942b"/><stop offset="0.680" stop-color="#d8832f"/><stop offset="0.850" stop-color="#d85730"/><stop offset="1.000" stop-color="#d13f37"/></linearGradient><linearGradient id="Rg16" gradientUnits="userSpaceOnUse" x1="459.10" y1="201.99" x2="478.20" y2="230.35"><stop offset="0.000" stop-color="#28b030"/><stop offset="0.100" stop-color="#40b830"/><stop offset="0.200" stop-color="#a7c820"/><stop offset="0.320" stop-color="#d8d018"/><stop offset="0.480" stop-color="#d3ab26"/><stop offset="0.500" stop-color="#d3a728"/><stop offset="0.640" stop-color="#d6882e"/><stop offset="0.680" stop-color="#d77e30"/><stop offset="0.780" stop-color="#d86030"/><stop offset="0.850" stop-color="#d74b32"/><stop offset="0.900" stop-color="#d44135"/><stop offset="1.000" stop-color="#cd313b"/></linearGradient><linearGradient id="Rg17" gradientUnits="userSpaceOnUse" x1="460.83" y1="200.25" x2="479.46" y2="228.47"><stop offset="0.000" stop-color="#28b030"/><stop offset="0.100" stop-color="#40b830"/><stop offset="0.200" stop-color="#a4c820"/><stop offset="0.320" stop-color="#d8d018"/><stop offset="0.480" stop-color="#d2aa27"/><stop offset="0.500" stop-color="#d2a628"/><stop offset="0.640" stop-color="#d4842f"/><stop offset="0.680" stop-color="#d57830"/><stop offset="0.780" stop-color="#d85830"/><stop offset="0.850" stop-color="#d64134"/><stop offset="0.900" stop-color="#d2343a"/><stop offset="1.000" stop-color="#c82441"/></linearGradient><linearGradient id="Rg18" gradientUnits="userSpaceOnUse" x1="462.60" y1="198.57" x2="480.79" y2="226.70"><stop offset="0.000" stop-color="#28b030"/><stop offset="0.100" stop-color="#40b830"/><stop offset="0.200" stop-color="#a1c820"/><stop offset="0.320" stop-color="#d8d018"/><stop offset="0.480" stop-color="#d1a928"/><stop offset="0.500" stop-color="#d1a429"/><stop offset="0.640" stop-color="#d18230"/><stop offset="0.680" stop-color="#d37430"/><stop offset="0.780" stop-color="#d85030"/><stop offset="0.850" stop-color="#d43738"/><stop offset="0.900" stop-color="#d1273e"/><stop offset="1.000" stop-color="#c31747"/></linearGradient><linearGradient id="Rg19" gradientUnits="userSpaceOnUse" x1="464.55" y1="196.77" x2="482.37" y2="224.61"><stop offset="0.000" stop-color="#27af31"/><stop offset="0.100" stop-color="#3fb730"/><stop offset="0.200" stop-color="#9dc720"/><stop offset="0.320" stop-color="#d7cf18"/><stop offset="0.480" stop-color="#cfa728"/><stop offset="0.640" stop-color="#d07f30"/><stop offset="0.780" stop-color="#d84b30"/><stop offset="0.900" stop-color="#d02040"/><stop offset="1.000" stop-color="#c0104a"/></linearGradient><linearGradient id="Rg20" gradientUnits="userSpaceOnUse" x1="466.66" y1="194.84" x2="484.38" y2="222.52"><stop offset="0.000" stop-color="#24ac34"/><stop offset="0.100" stop-color="#3cb430"/><stop offset="0.200" stop-color="#98c420"/><stop offset="0.320" stop-color="#d4cc18"/><stop offset="0.480" stop-color="#cca428"/><stop offset="0.640" stop-color="#d07c30"/><stop offset="0.780" stop-color="#d84830"/><stop offset="0.900" stop-color="#d02040"/><stop offset="1.000" stop-color="#c0104a"/></linearGradient><linearGradient id="Rg21" gradientUnits="userSpaceOnUse" x1="468.94" y1="193.19" x2="486.41" y2="220.49"><stop offset="0.000" stop-color="#21a937"/><stop offset="0.100" stop-color="#39b130"/><stop offset="0.200" stop-color="#93c120"/><stop offset="0.320" stop-color="#d1c918"/><stop offset="0.480" stop-color="#c9a128"/><stop offset="0.640" stop-color="#d07930"/><stop offset="0.780" stop-color="#d84530"/><stop offset="0.900" stop-color="#d02040"/><stop offset="1.000" stop-color="#c0104a"/></linearGradient><linearGradient id="Rg22" gradientUnits="userSpaceOnUse" x1="471.23" y1="191.58" x2="488.35" y2="218.61"><stop offset="0.000" stop-color="#1fa738"/><stop offset="0.100" stop-color="#37af31"/><stop offset="0.200" stop-color="#8bbf21"/><stop offset="0.320" stop-color="#cdc519"/><stop offset="0.480" stop-color="#c89d29"/><stop offset="0.640" stop-color="#d07530"/><stop offset="0.780" stop-color="#d84331"/><stop offset="0.800" stop-color="#d73d34"/><stop offset="0.900" stop-color="#d01f41"/><stop offset="1.000" stop-color="#c0104a"/></linearGradient><linearGradient id="Rg23" gradientUnits="userSpaceOnUse" x1="473.54" y1="190.04" x2="490.24" y2="216.97"><stop offset="0.000" stop-color="#1ca438"/><stop offset="0.100" stop-color="#34ac34"/><stop offset="0.200" stop-color="#80bc24"/><stop offset="0.320" stop-color="#c8c01c"/><stop offset="0.480" stop-color="#c8982c"/><stop offset="0.640" stop-color="#d07030"/><stop offset="0.780" stop-color="#d84134"/><stop offset="0.800" stop-color="#d83b36"/><stop offset="0.900" stop-color="#d01c44"/><stop offset="1.000" stop-color="#c0104a"/></linearGradient><linearGradient id="Rg24" gradientUnits="userSpaceOnUse" x1="475.92" y1="188.61" x2="492.13" y2="215.33"><stop offset="0.000" stop-color="#19a138"/><stop offset="0.100" stop-color="#31a937"/><stop offset="0.200" stop-color="#75b927"/><stop offset="0.320" stop-color="#c3bb1f"/><stop offset="0.480" stop-color="#c8932f"/><stop offset="0.640" stop-color="#d06b30"/><stop offset="0.780" stop-color="#d73f36"/><stop offset="0.800" stop-color="#d83937"/><stop offset="0.900" stop-color="#d01947"/><stop offset="1.000" stop-color="#c0104a"/></linearGradient><linearGradient id="Rg25" gradientUnits="userSpaceOnUse" x1="478.13" y1="187.39" x2="493.90" y2="213.97"><stop offset="0.000" stop-color="#179f3c"/><stop offset="0.100" stop-color="#2fa63a"/><stop offset="0.200" stop-color="#68b42b"/><stop offset="0.320" stop-color="#b6b223"/><stop offset="0.400" stop-color="#c1a129"/><stop offset="0.480" stop-color="#c68f30"/><stop offset="0.640" stop-color="#d06b30"/><stop offset="0.650" stop-color="#d06830"/><stop offset="0.800" stop-color="#d83e37"/><stop offset="0.850" stop-color="#d52f3d"/><stop offset="0.900" stop-color="#d12044"/><stop offset="1.000" stop-color="#c41747"/></linearGradient><linearGradient id="Rg26" gradientUnits="userSpaceOnUse" x1="480.14" y1="186.32" x2="495.57" y2="212.92"><stop offset="0.000" stop-color="#149c44"/><stop offset="0.100" stop-color="#2ca23e"/><stop offset="0.200" stop-color="#58ac30"/><stop offset="0.320" stop-color="#a2a72a"/><stop offset="0.400" stop-color="#ba9a2c"/><stop offset="0.480" stop-color="#c18c30"/><stop offset="0.640" stop-color="#d07030"/><stop offset="0.650" stop-color="#d06e30"/><stop offset="0.800" stop-color="#d74934"/><stop offset="0.850" stop-color="#d63c38"/><stop offset="0.900" stop-color="#d4303e"/><stop offset="1.000" stop-color="#cc2441"/></linearGradient><linearGradient id="Rg27" gradientUnits="userSpaceOnUse" x1="482.18" y1="185.28" x2="497.25" y2="211.88"><stop offset="0.000" stop-color="#11994c"/><stop offset="0.100" stop-color="#299e42"/><stop offset="0.200" stop-color="#48a435"/><stop offset="0.320" stop-color="#8d9c30"/><stop offset="0.400" stop-color="#b3932f"/><stop offset="0.480" stop-color="#bc8930"/><stop offset="0.640" stop-color="#cf7630"/><stop offset="0.650" stop-color="#d07530"/><stop offset="0.800" stop-color="#d65431"/><stop offset="0.850" stop-color="#d74933"/><stop offset="0.900" stop-color="#d74036"/><stop offset="1.000" stop-color="#d4313b"/></linearGradient><linearGradient id="Rg28" gradientUnits="userSpaceOnUse" x1="484.29" y1="184.21" x2="498.90" y2="210.74"><stop offset="0.000" stop-color="#109850"/><stop offset="0.200" stop-color="#3ea139"/><stop offset="0.250" stop-color="#579e36"/><stop offset="0.400" stop-color="#a99430"/><stop offset="0.500" stop-color="#bc8c30"/><stop offset="0.650" stop-color="#cf7e30"/><stop offset="0.750" stop-color="#d56d30"/><stop offset="0.850" stop-color="#d85930"/><stop offset="1.000" stop-color="#d84137"/></linearGradient><linearGradient id="Rg29" gradientUnits="userSpaceOnUse" x1="486.82" y1="183.61" x2="500.46" y2="209.32"><stop offset="0.000" stop-color="#109850"/><stop offset="0.200" stop-color="#3ba23a"/><stop offset="0.250" stop-color="#4ea237"/><stop offset="0.400" stop-color="#9c9c32"/><stop offset="0.500" stop-color="#ba9730"/><stop offset="0.650" stop-color="#ce8b30"/><stop offset="0.750" stop-color="#d67e30"/><stop offset="0.850" stop-color="#d86c30"/><stop offset="1.000" stop-color="#d85434"/></linearGradient><linearGradient id="Rg30" gradientUnits="userSpaceOnUse" x1="489.37" y1="183.08" x2="502.25" y2="208.32"><stop offset="0.000" stop-color="#109850"/><stop offset="0.200" stop-color="#38a43c"/><stop offset="0.250" stop-color="#45a638"/><stop offset="0.400" stop-color="#8fa432"/><stop offset="0.500" stop-color="#b9a230"/><stop offset="0.650" stop-color="#cc9830"/><stop offset="0.750" stop-color="#d78f30"/><stop offset="0.850" stop-color="#d87f30"/><stop offset="1.000" stop-color="#d86731"/></linearGradient><linearGradient id="Rg31" gradientUnits="userSpaceOnUse" x1="491.03" y1="182.07" x2="503.49" y2="207.70"><stop offset="0.000" stop-color="#159c4b"/><stop offset="0.150" stop-color="#2ea43f"/><stop offset="0.250" stop-color="#39a739"/><stop offset="0.500" stop-color="#9fa733"/><stop offset="0.750" stop-color="#cf9d2f"/><stop offset="1.000" stop-color="#d87d2d"/></linearGradient><linearGradient id="Rg32" gradientUnits="userSpaceOnUse" x1="491.87" y1="180.23" x2="504.28" y2="207.31"><stop offset="0.000" stop-color="#20a440"/><stop offset="0.150" stop-color="#2ea939"/><stop offset="0.250" stop-color="#2ca43c"/><stop offset="0.500" stop-color="#6ca438"/><stop offset="0.750" stop-color="#bca82c"/><stop offset="1.000" stop-color="#d89828"/></linearGradient><linearGradient id="Rg33" gradientUnits="userSpaceOnUse" x1="492.42" y1="177.77" x2="504.99" y2="206.96"><stop offset="0.000" stop-color="#2bac35"/><stop offset="0.150" stop-color="#30ae33"/><stop offset="0.250" stop-color="#1fa13f"/><stop offset="0.500" stop-color="#39a13d"/><stop offset="0.750" stop-color="#a9b329"/><stop offset="1.000" stop-color="#d8b323"/></linearGradient><linearGradient id="Rg34" gradientUnits="userSpaceOnUse" x1="492.97" y1="175.41" x2="506.02" y2="206.74"><stop offset="0.000" stop-color="#30b030"/><stop offset="0.150" stop-color="#38b12f"/><stop offset="0.250" stop-color="#18a040"/><stop offset="0.500" stop-color="#1da043"/><stop offset="0.750" stop-color="#88b431"/><stop offset="0.800" stop-color="#91b630"/><stop offset="1.000" stop-color="#b9bc27"/></linearGradient><linearGradient id="Rg35" gradientUnits="userSpaceOnUse" x1="494.00" y1="175.07" x2="507.15" y2="206.64"><stop offset="0.000" stop-color="#30b030"/><stop offset="0.150" stop-color="#48b42c"/><stop offset="0.250" stop-color="#18a040"/><stop offset="0.500" stop-color="#18a048"/><stop offset="0.750" stop-color="#58ac42"/><stop offset="0.800" stop-color="#5ead43"/><stop offset="1.000" stop-color="#7cb434"/></linearGradient><linearGradient id="Rg36" gradientUnits="userSpaceOnUse" x1="495.02" y1="174.73" x2="508.28" y2="206.54"><stop offset="0.000" stop-color="#30b030"/><stop offset="0.150" stop-color="#58b729"/><stop offset="0.250" stop-color="#18a040"/><stop offset="0.500" stop-color="#13a04d"/><stop offset="0.750" stop-color="#28a454"/><stop offset="0.800" stop-color="#2aa456"/><stop offset="1.000" stop-color="#3fac41"/></linearGradient><linearGradient id="Rg37" gradientUnits="userSpaceOnUse" x1="496.03" y1="174.39" x2="509.39" y2="206.45"><stop offset="0.000" stop-color="#30b030"/><stop offset="0.150" stop-color="#68b927"/><stop offset="0.250" stop-color="#18a040"/><stop offset="0.500" stop-color="#10a053"/><stop offset="0.750" stop-color="#109c67"/><stop offset="0.800" stop-color="#109b6b"/><stop offset="1.000" stop-color="#1d9d5c"/></linearGradient><linearGradient id="Rg38" gradientUnits="userSpaceOnUse" x1="497.03" y1="174.06" x2="510.49" y2="206.36"><stop offset="0.000" stop-color="#30b030"/><stop offset="0.150" stop-color="#78bc24"/><stop offset="0.250" stop-color="#18a040"/><stop offset="0.500" stop-color="#10a058"/><stop offset="0.750" stop-color="#10947a"/><stop offset="0.800" stop-color="#109180"/><stop offset="1.000" stop-color="#188884"/></linearGradient><linearGradient id="Rg39" gradientUnits="userSpaceOnUse" x1="498.03" y1="173.72" x2="511.59" y2="206.26"><stop offset="0.000" stop-color="#30b030"/><stop offset="0.150" stop-color="#88bf21"/><stop offset="0.250" stop-color="#18a040"/><stop offset="0.500" stop-color="#10a05d"/><stop offset="0.750" stop-color="#108c8e"/><stop offset="0.800" stop-color="#108795"/><stop offset="1.000" stop-color="#1373ac"/></linearGradient><linearGradient id="Rg40" gradientUnits="userSpaceOnUse" x1="499.11" y1="173.38" x2="512.79" y2="206.21"><stop offset="0.000" stop-color="#30b030"/><stop offset="0.150" stop-color="#88bf21"/><stop offset="0.250" stop-color="#18a040"/><stop offset="0.450" stop-color="#12a05c"/><stop offset="0.500" stop-color="#109f64"/><stop offset="0.750" stop-color="#10849d"/><stop offset="1.000" stop-color="#1164c3"/></linearGradient><linearGradient id="Rg41" gradientUnits="userSpaceOnUse" x1="500.27" y1="173.03" x2="514.10" y2="206.23"><stop offset="0.000" stop-color="#30b030"/><stop offset="0.150" stop-color="#78bc24"/><stop offset="0.250" stop-color="#18a040"/><stop offset="0.450" stop-color="#11a061"/><stop offset="0.500" stop-color="#109c6a"/><stop offset="0.750" stop-color="#107ca8"/><stop offset="1.000" stop-color="#125cc8"/></linearGradient><linearGradient id="Rg42" gradientUnits="userSpaceOnUse" x1="501.43" y1="172.67" x2="515.42" y2="206.25"><stop offset="0.000" stop-color="#30b030"/><stop offset="0.150" stop-color="#68b927"/><stop offset="0.250" stop-color="#18a040"/><stop offset="0.450" stop-color="#10a066"/><stop offset="0.500" stop-color="#109972"/><stop offset="0.750" stop-color="#1074b3"/><stop offset="1.000" stop-color="#1354cd"/></linearGradient><linearGradient id="Rg43" gradientUnits="userSpaceOnUse" x1="502.58" y1="172.32" x2="516.73" y2="206.28"><stop offset="0.000" stop-color="#2faf31"/><stop offset="0.150" stop-color="#55b52b"/><stop offset="0.250" stop-color="#1ba23e"/><stop offset="0.300" stop-color="#1aa346"/><stop offset="0.450" stop-color="#17a262"/><stop offset="0.500" stop-color="#189b6e"/><stop offset="0.750" stop-color="#1171b7"/><stop offset="1.000" stop-color="#1451d0"/></linearGradient><linearGradient id="Rg44" gradientUnits="userSpaceOnUse" x1="503.74" y1="171.97" x2="518.05" y2="206.30"><stop offset="0.000" stop-color="#2cac34"/><stop offset="0.150" stop-color="#40b030"/><stop offset="0.250" stop-color="#22a63a"/><stop offset="0.300" stop-color="#23a83d"/><stop offset="0.450" stop-color="#26a555"/><stop offset="0.500" stop-color="#28a05e"/><stop offset="0.750" stop-color="#1474b4"/><stop offset="1.000" stop-color="#1454d0"/></linearGradient><linearGradient id="Rg45" gradientUnits="userSpaceOnUse" x1="504.90" y1="171.62" x2="519.36" y2="206.32"><stop offset="0.000" stop-color="#29a937"/><stop offset="0.150" stop-color="#2bab35"/><stop offset="0.250" stop-color="#28ab35"/><stop offset="0.300" stop-color="#2cad34"/><stop offset="0.450" stop-color="#35a848"/><stop offset="0.500" stop-color="#38a550"/><stop offset="0.750" stop-color="#1777b1"/><stop offset="1.000" stop-color="#1457d0"/></linearGradient><linearGradient id="Rg46" gradientUnits="userSpaceOnUse" x1="506.01" y1="171.50" x2="520.53" y2="206.34"><stop offset="0.000" stop-color="#28a838"/><stop offset="0.150" stop-color="#20a838"/><stop offset="0.280" stop-color="#41b330"/><stop offset="0.300" stop-color="#44b42e"/><stop offset="0.450" stop-color="#56b03c"/><stop offset="0.500" stop-color="#59ad42"/><stop offset="0.650" stop-color="#458e76"/><stop offset="0.750" stop-color="#37789b"/><stop offset="0.850" stop-color="#3466a8"/><stop offset="1.000" stop-color="#2e51bd"/></linearGradient><linearGradient id="Rg47" gradientUnits="userSpaceOnUse" x1="507.05" y1="171.50" x2="521.58" y2="206.36"><stop offset="0.000" stop-color="#28a838"/><stop offset="0.150" stop-color="#20a838"/><stop offset="0.280" stop-color="#67bc2c"/><stop offset="0.300" stop-color="#6cbc2c"/><stop offset="0.450" stop-color="#8abd31"/><stop offset="0.500" stop-color="#8cb635"/><stop offset="0.650" stop-color="#809657"/><stop offset="0.750" stop-color="#747872"/><stop offset="0.850" stop-color="#6f5e7e"/><stop offset="1.000" stop-color="#624498"/></linearGradient><linearGradient id="Rg48" gradientUnits="userSpaceOnUse" x1="508.20" y1="171.76" x2="522.63" y2="206.38"><stop offset="0.000" stop-color="#28a838"/><stop offset="0.150" stop-color="#20a838"/><stop offset="0.280" stop-color="#8dc42a"/><stop offset="0.300" stop-color="#93c528"/><stop offset="0.450" stop-color="#beca26"/><stop offset="0.500" stop-color="#bfbf28"/><stop offset="0.650" stop-color="#bb9c38"/><stop offset="0.750" stop-color="#b17849"/><stop offset="0.850" stop-color="#aa5455"/><stop offset="1.000" stop-color="#963773"/></linearGradient><linearGradient id="Rg49" gradientUnits="userSpaceOnUse" x1="509.69" y1="173.02" x2="523.59" y2="206.39"><stop offset="0.000" stop-color="#28a838"/><stop offset="0.150" stop-color="#20a838"/><stop offset="0.280" stop-color="#a7c927"/><stop offset="0.450" stop-color="#d8cc21"/><stop offset="0.480" stop-color="#d8c522"/><stop offset="0.650" stop-color="#d89c29"/><stop offset="0.680" stop-color="#d6912d"/><stop offset="0.850" stop-color="#cb4d3f"/><stop offset="0.860" stop-color="#c94a40"/><stop offset="1.000" stop-color="#b42b5c"/></linearGradient><linearGradient id="Rg50" gradientUnits="userSpaceOnUse" x1="510.92" y1="173.52" x2="524.54" y2="206.20"><stop offset="0.000" stop-color="#28a838"/><stop offset="0.150" stop-color="#20a838"/><stop offset="0.280" stop-color="#b4cc24"/><stop offset="0.450" stop-color="#d7c224"/><stop offset="0.480" stop-color="#d8bc24"/><stop offset="0.650" stop-color="#d8942c"/><stop offset="0.680" stop-color="#d78a2e"/><stop offset="0.850" stop-color="#d0463c"/><stop offset="0.860" stop-color="#cf433d"/><stop offset="1.000" stop-color="#bc2054"/></linearGradient><linearGradient id="Rg51" gradientUnits="userSpaceOnUse" x1="511.68" y1="172.88" x2="525.45" y2="205.93"><stop offset="0.000" stop-color="#28a838"/><stop offset="0.150" stop-color="#20a838"/><stop offset="0.280" stop-color="#c1cf21"/><stop offset="0.450" stop-color="#d6ba26"/><stop offset="0.480" stop-color="#d8b427"/><stop offset="0.650" stop-color="#d88b2e"/><stop offset="0.680" stop-color="#d8832f"/><stop offset="0.850" stop-color="#d53f39"/><stop offset="0.860" stop-color="#d53c3a"/><stop offset="1.000" stop-color="#c4154c"/></linearGradient><linearGradient id="Rg52" gradientUnits="userSpaceOnUse" x1="512.74" y1="172.04" x2="526.71" y2="205.55"><stop offset="0.000" stop-color="#28a838"/><stop offset="0.150" stop-color="#20a838"/><stop offset="0.280" stop-color="#c2ce22"/><stop offset="0.300" stop-color="#c7cc22"/><stop offset="0.480" stop-color="#d8ad29"/><stop offset="0.500" stop-color="#d8a82a"/><stop offset="0.680" stop-color="#d87d30"/><stop offset="0.700" stop-color="#d87531"/><stop offset="0.860" stop-color="#d83639"/><stop offset="0.880" stop-color="#d6303b"/><stop offset="1.000" stop-color="#c81048"/></linearGradient><linearGradient id="Rg53" gradientUnits="userSpaceOnUse" x1="514.11" y1="171.44" x2="528.14" y2="205.11"><stop offset="0.000" stop-color="#28a838"/><stop offset="0.150" stop-color="#20a838"/><stop offset="0.280" stop-color="#b6ca25"/><stop offset="0.300" stop-color="#c1ca24"/><stop offset="0.480" stop-color="#d6a62c"/><stop offset="0.500" stop-color="#d8a22c"/><stop offset="0.680" stop-color="#d87630"/><stop offset="0.700" stop-color="#d87030"/><stop offset="0.860" stop-color="#d8343b"/><stop offset="0.880" stop-color="#d72d3d"/><stop offset="1.000" stop-color="#c81048"/></linearGradient><linearGradient id="Rg54" gradientUnits="userSpaceOnUse" x1="515.47" y1="170.84" x2="529.28" y2="203.98"><stop offset="0.000" stop-color="#28a838"/><stop offset="0.150" stop-color="#20a838"/><stop offset="0.280" stop-color="#aac628"/><stop offset="0.300" stop-color="#bbc927"/><stop offset="0.480" stop-color="#d6a02e"/><stop offset="0.500" stop-color="#d89b2f"/><stop offset="0.680" stop-color="#d87030"/><stop offset="0.700" stop-color="#d86b30"/><stop offset="0.860" stop-color="#d8303d"/><stop offset="0.880" stop-color="#d82a3f"/><stop offset="1.000" stop-color="#c81048"/></linearGradient><linearGradient id="Rg55" gradientUnits="userSpaceOnUse" x1="516.78" y1="170.26" x2="530.28" y2="202.66"><stop offset="0.000" stop-color="#28a838"/><stop offset="0.150" stop-color="#1fa739"/><stop offset="0.300" stop-color="#a4c32b"/><stop offset="0.500" stop-color="#cc9930"/><stop offset="0.700" stop-color="#d56930"/><stop offset="0.880" stop-color="#d82940"/><stop offset="1.000" stop-color="#c81048"/></linearGradient><linearGradient id="Rg56" gradientUnits="userSpaceOnUse" x1="518.05" y1="169.70" x2="531.25" y2="201.39"><stop offset="0.000" stop-color="#28a838"/><stop offset="0.150" stop-color="#1ca43c"/><stop offset="0.300" stop-color="#7cb830"/><stop offset="0.500" stop-color="#b49c30"/><stop offset="0.700" stop-color="#d06c30"/><stop offset="0.880" stop-color="#d82c40"/><stop offset="1.000" stop-color="#c81048"/></linearGradient><linearGradient id="Rg57" gradientUnits="userSpaceOnUse" x1="519.40" y1="169.34" x2="532.30" y2="200.30"><stop offset="0.000" stop-color="#28a838"/><stop offset="0.150" stop-color="#19a13f"/><stop offset="0.300" stop-color="#54ad35"/><stop offset="0.500" stop-color="#9c9f30"/><stop offset="0.700" stop-color="#cb6f30"/><stop offset="0.880" stop-color="#d82f40"/><stop offset="1.000" stop-color="#c81048"/></linearGradient><linearGradient id="Rg58" gradientUnits="userSpaceOnUse" x1="520.71" y1="169.11" x2="533.52" y2="199.88"><stop offset="0.000" stop-color="#28a838"/><stop offset="0.150" stop-color="#1ca33d"/><stop offset="0.300" stop-color="#53ad35"/><stop offset="0.500" stop-color="#9ca42f"/><stop offset="0.700" stop-color="#cb7330"/><stop offset="0.880" stop-color="#d8333d"/><stop offset="1.000" stop-color="#c91347"/></linearGradient><linearGradient id="Rg59" gradientUnits="userSpaceOnUse" x1="521.92" y1="168.90" x2="534.67" y2="199.49"><stop offset="0.000" stop-color="#28a838"/><stop offset="0.150" stop-color="#24a838"/><stop offset="0.300" stop-color="#78b830"/><stop offset="0.500" stop-color="#b4ac2c"/><stop offset="0.700" stop-color="#d07830"/><stop offset="0.880" stop-color="#d83838"/><stop offset="1.000" stop-color="#cc1844"/></linearGradient><linearGradient id="Rg60" gradientUnits="userSpaceOnUse" x1="523.07" y1="168.53" x2="535.82" y2="199.12"><stop offset="0.000" stop-color="#28a838"/><stop offset="0.150" stop-color="#2cad33"/><stop offset="0.300" stop-color="#9dc32b"/><stop offset="0.500" stop-color="#ccb429"/><stop offset="0.700" stop-color="#d57d30"/><stop offset="0.880" stop-color="#d83d33"/><stop offset="1.000" stop-color="#cf1d41"/></linearGradient><linearGradient id="Rg61" gradientUnits="userSpaceOnUse" x1="524.36" y1="167.91" x2="537.23" y2="198.79"><stop offset="0.000" stop-color="#28a838"/><stop offset="0.150" stop-color="#30b030"/><stop offset="0.300" stop-color="#b0c828"/><stop offset="0.500" stop-color="#d7b728"/><stop offset="0.700" stop-color="#d87f30"/><stop offset="0.880" stop-color="#d83f31"/><stop offset="1.000" stop-color="#d02040"/></linearGradient><linearGradient id="Rg62" gradientUnits="userSpaceOnUse" x1="525.84" y1="167.20" x2="538.84" y2="198.40"><stop offset="0.000" stop-color="#28a838"/><stop offset="0.150" stop-color="#30b030"/><stop offset="0.300" stop-color="#b0c828"/><stop offset="0.500" stop-color="#d4b428"/><stop offset="0.700" stop-color="#d87c30"/><stop offset="0.880" stop-color="#d83c34"/><stop offset="1.000" stop-color="#d02040"/></linearGradient><linearGradient id="Rg63" gradientUnits="userSpaceOnUse" x1="527.33" y1="166.50" x2="540.41" y2="197.91"><stop offset="0.000" stop-color="#28a838"/><stop offset="0.150" stop-color="#30b030"/><stop offset="0.300" stop-color="#b0c828"/><stop offset="0.500" stop-color="#d1b128"/><stop offset="0.700" stop-color="#d87930"/><stop offset="0.880" stop-color="#d83937"/><stop offset="1.000" stop-color="#d02040"/></linearGradient><linearGradient id="Rg64" gradientUnits="userSpaceOnUse" x1="528.94" y1="165.72" x2="541.96" y2="196.96"><stop offset="0.000" stop-color="#28a838"/><stop offset="0.150" stop-color="#2dad33"/><stop offset="0.300" stop-color="#abc728"/><stop offset="0.500" stop-color="#cfad29"/><stop offset="0.700" stop-color="#d77730"/><stop offset="0.880" stop-color="#d73739"/><stop offset="1.000" stop-color="#cf1d41"/></linearGradient><linearGradient id="Rg65" gradientUnits="userSpaceOnUse" x1="530.59" y1="164.62" x2="543.63" y2="195.92"><stop offset="0.000" stop-color="#28a838"/><stop offset="0.150" stop-color="#28a838"/><stop offset="0.300" stop-color="#a0c428"/><stop offset="0.500" stop-color="#cca82c"/><stop offset="0.700" stop-color="#d47430"/><stop offset="0.880" stop-color="#d4343c"/><stop offset="1.000" stop-color="#cc1844"/></linearGradient><linearGradient id="Rg66" gradientUnits="userSpaceOnUse" x1="532.22" y1="163.46" x2="545.28" y2="194.80"><stop offset="0.000" stop-color="#28a838"/><stop offset="0.150" stop-color="#23a33d"/><stop offset="0.300" stop-color="#95c128"/><stop offset="0.500" stop-color="#c9a32f"/><stop offset="0.700" stop-color="#d17130"/><stop offset="0.880" stop-color="#d1313f"/><stop offset="1.000" stop-color="#c91347"/></linearGradient><linearGradient id="Rg67" gradientUnits="userSpaceOnUse" x1="533.69" y1="162.42" x2="546.69" y2="193.63"><stop offset="0.000" stop-color="#25a739"/><stop offset="0.150" stop-color="#1d9f41"/><stop offset="0.300" stop-color="#83bb2b"/><stop offset="0.500" stop-color="#c19c30"/><stop offset="0.700" stop-color="#cd6d30"/><stop offset="0.880" stop-color="#cf3040"/><stop offset="1.000" stop-color="#c71048"/></linearGradient><linearGradient id="Rg68" gradientUnits="userSpaceOnUse" x1="535.00" y1="161.50" x2="547.95" y2="192.59"><stop offset="0.000" stop-color="#20a43c"/><stop offset="0.150" stop-color="#189c44"/><stop offset="0.300" stop-color="#68b030"/><stop offset="0.500" stop-color="#b49430"/><stop offset="0.700" stop-color="#c86830"/><stop offset="0.880" stop-color="#cc3040"/><stop offset="1.000" stop-color="#c41048"/></linearGradient><linearGradient id="Rg69" gradientUnits="userSpaceOnUse" x1="536.31" y1="160.57" x2="549.13" y2="191.34"><stop offset="0.000" stop-color="#1ba13f"/><stop offset="0.150" stop-color="#139947"/><stop offset="0.300" stop-color="#4da535"/><stop offset="0.500" stop-color="#a78c30"/><stop offset="0.700" stop-color="#c36330"/><stop offset="0.880" stop-color="#c93040"/><stop offset="1.000" stop-color="#c11048"/></linearGradient><linearGradient id="Rg70" gradientUnits="userSpaceOnUse" x1="537.64" y1="159.64" x2="550.64" y2="189.57"><stop offset="0.000" stop-color="#1ba13f"/><stop offset="0.150" stop-color="#159c44"/><stop offset="0.300" stop-color="#50a735"/><stop offset="0.500" stop-color="#a88d2f"/><stop offset="0.700" stop-color="#c46330"/><stop offset="0.880" stop-color="#cb303f"/><stop offset="1.000" stop-color="#c11048"/></linearGradient><linearGradient id="Rg71" gradientUnits="userSpaceOnUse" x1="538.99" y1="158.70" x2="552.87" y2="188.27"><stop offset="0.000" stop-color="#20a43c"/><stop offset="0.150" stop-color="#20a43c"/><stop offset="0.300" stop-color="#70b430"/><stop offset="0.500" stop-color="#b8982c"/><stop offset="0.700" stop-color="#cc6830"/><stop offset="0.880" stop-color="#d0303c"/><stop offset="1.000" stop-color="#c41048"/></linearGradient><linearGradient id="Rg72" gradientUnits="userSpaceOnUse" x1="540.35" y1="157.75" x2="555.15" y2="187.16"><stop offset="0.000" stop-color="#25a739"/><stop offset="0.150" stop-color="#2bac34"/><stop offset="0.300" stop-color="#90c12b"/><stop offset="0.500" stop-color="#c8a329"/><stop offset="0.700" stop-color="#d46d30"/><stop offset="0.880" stop-color="#d53039"/><stop offset="1.000" stop-color="#c71048"/></linearGradient><linearGradient id="Rg73" gradientUnits="userSpaceOnUse" x1="541.81" y1="157.13" x2="556.64" y2="186.79"><stop offset="0.000" stop-color="#27a838"/><stop offset="0.120" stop-color="#31ae32"/><stop offset="0.150" stop-color="#36b130"/><stop offset="0.250" stop-color="#80c02c"/><stop offset="0.300" stop-color="#a1c62a"/><stop offset="0.380" stop-color="#b5ba2b"/><stop offset="0.500" stop-color="#cda72b"/><stop offset="0.520" stop-color="#cea22c"/><stop offset="0.650" stop-color="#d47d30"/><stop offset="0.700" stop-color="#d66e32"/><stop offset="0.780" stop-color="#d75236"/><stop offset="0.880" stop-color="#d62e3a"/><stop offset="0.900" stop-color="#d3293d"/><stop offset="1.000" stop-color="#c71048"/></linearGradient><linearGradient id="Rg74" gradientUnits="userSpaceOnUse" x1="543.33" y1="156.62" x2="557.19" y2="186.65"><stop offset="0.000" stop-color="#24a838"/><stop offset="0.120" stop-color="#37af31"/><stop offset="0.150" stop-color="#42b230"/><stop offset="0.250" stop-color="#8ac02e"/><stop offset="0.300" stop-color="#a4c22e"/><stop offset="0.380" stop-color="#baba30"/><stop offset="0.500" stop-color="#c8a630"/><stop offset="0.520" stop-color="#c8a130"/><stop offset="0.650" stop-color="#cf7b33"/><stop offset="0.700" stop-color="#d26b36"/><stop offset="0.780" stop-color="#d44e3a"/><stop offset="0.880" stop-color="#d02c40"/><stop offset="0.900" stop-color="#ce2642"/><stop offset="1.000" stop-color="#c41049"/></linearGradient><linearGradient id="Rg75" gradientUnits="userSpaceOnUse" x1="544.99" y1="156.39" x2="557.79" y2="186.50"><stop offset="0.000" stop-color="#21a838"/><stop offset="0.120" stop-color="#3db030"/><stop offset="0.150" stop-color="#4eb330"/><stop offset="0.250" stop-color="#93c02f"/><stop offset="0.300" stop-color="#a6bf31"/><stop offset="0.380" stop-color="#beb835"/><stop offset="0.500" stop-color="#c3a435"/><stop offset="0.520" stop-color="#c3a036"/><stop offset="0.650" stop-color="#ca7936"/><stop offset="0.700" stop-color="#cd6839"/><stop offset="0.780" stop-color="#d14a3e"/><stop offset="0.880" stop-color="#cc2844"/><stop offset="0.900" stop-color="#ca2246"/><stop offset="1.000" stop-color="#c1104a"/></linearGradient><linearGradient id="Rg76" gradientUnits="userSpaceOnUse" x1="546.65" y1="157.25" x2="558.50" y2="186.33"><stop offset="0.000" stop-color="#1fa738"/><stop offset="0.120" stop-color="#3aac31"/><stop offset="0.150" stop-color="#4baf31"/><stop offset="0.250" stop-color="#8cba31"/><stop offset="0.350" stop-color="#aeb635"/><stop offset="0.380" stop-color="#b6b337"/><stop offset="0.520" stop-color="#bb9d37"/><stop offset="0.550" stop-color="#be9437"/><stop offset="0.650" stop-color="#c57737"/><stop offset="0.750" stop-color="#cc553c"/><stop offset="0.780" stop-color="#ce4a3e"/><stop offset="0.900" stop-color="#c82347"/><stop offset="1.000" stop-color="#c01348"/></linearGradient><linearGradient id="Rg77" gradientUnits="userSpaceOnUse" x1="548.61" y1="159.21" x2="559.55" y2="186.06"><stop offset="0.000" stop-color="#1ca438"/><stop offset="0.120" stop-color="#2fa534"/><stop offset="0.150" stop-color="#3aa634"/><stop offset="0.250" stop-color="#74ae32"/><stop offset="0.350" stop-color="#9cad33"/><stop offset="0.380" stop-color="#a3aa34"/><stop offset="0.520" stop-color="#b19634"/><stop offset="0.550" stop-color="#b59034"/><stop offset="0.650" stop-color="#be7634"/><stop offset="0.750" stop-color="#c75a37"/><stop offset="0.780" stop-color="#c94f3a"/><stop offset="0.900" stop-color="#c82844"/><stop offset="1.000" stop-color="#c01845"/></linearGradient><linearGradient id="Rg78" gradientUnits="userSpaceOnUse" x1="550.08" y1="159.96" x2="560.60" y2="185.80"><stop offset="0.000" stop-color="#19a138"/><stop offset="0.120" stop-color="#249e37"/><stop offset="0.150" stop-color="#299d37"/><stop offset="0.250" stop-color="#5ca233"/><stop offset="0.350" stop-color="#89a431"/><stop offset="0.380" stop-color="#90a131"/><stop offset="0.520" stop-color="#a78f31"/><stop offset="0.550" stop-color="#ac8a31"/><stop offset="0.650" stop-color="#b77531"/><stop offset="0.750" stop-color="#c25e32"/><stop offset="0.780" stop-color="#c45435"/><stop offset="0.900" stop-color="#c82d41"/><stop offset="1.000" stop-color="#c01d42"/></linearGradient><linearGradient id="Rg79" gradientUnits="userSpaceOnUse" x1="551.44" y1="159.28" x2="562.09" y2="185.43"><stop offset="0.000" stop-color="#19a138"/><stop offset="0.120" stop-color="#249e37"/><stop offset="0.150" stop-color="#299d37"/><stop offset="0.250" stop-color="#5ca233"/><stop offset="0.350" stop-color="#89a431"/><stop offset="0.380" stop-color="#90a131"/><stop offset="0.520" stop-color="#a78f31"/><stop offset="0.550" stop-color="#ac8a31"/><stop offset="0.650" stop-color="#b77531"/><stop offset="0.750" stop-color="#c25e32"/><stop offset="0.780" stop-color="#c45435"/><stop offset="0.900" stop-color="#c82d41"/><stop offset="1.000" stop-color="#c01d42"/></linearGradient><linearGradient id="Rg80" gradientUnits="userSpaceOnUse" x1="552.93" y1="158.53" x2="563.76" y2="185.10"><stop offset="0.000" stop-color="#1ca438"/><stop offset="0.120" stop-color="#2fa534"/><stop offset="0.150" stop-color="#3aa634"/><stop offset="0.250" stop-color="#74ae32"/><stop offset="0.350" stop-color="#9cad33"/><stop offset="0.380" stop-color="#a3aa34"/><stop offset="0.520" stop-color="#b19634"/><stop offset="0.550" stop-color="#b59034"/><stop offset="0.650" stop-color="#be7634"/><stop offset="0.750" stop-color="#c75a37"/><stop offset="0.780" stop-color="#c94f3a"/><stop offset="0.900" stop-color="#c82844"/><stop offset="1.000" stop-color="#c01845"/></linearGradient><linearGradient id="Rg81" gradientUnits="userSpaceOnUse" x1="554.43" y1="157.79" x2="565.44" y2="184.82"><stop offset="0.000" stop-color="#1fa738"/><stop offset="0.120" stop-color="#3aac31"/><stop offset="0.150" stop-color="#4baf31"/><stop offset="0.250" stop-color="#8cba31"/><stop offset="0.350" stop-color="#aeb635"/><stop offset="0.380" stop-color="#b6b337"/><stop offset="0.520" stop-color="#bb9d37"/><stop offset="0.550" stop-color="#be9437"/><stop offset="0.650" stop-color="#c57737"/><stop offset="0.750" stop-color="#cc553c"/><stop offset="0.780" stop-color="#ce4a3e"/><stop offset="0.900" stop-color="#c82347"/><stop offset="1.000" stop-color="#c01348"/></linearGradient><linearGradient id="Rg82" gradientUnits="userSpaceOnUse" x1="555.85" y1="157.04" x2="567.06" y2="184.54"><stop offset="0.000" stop-color="#23ac37"/><stop offset="0.120" stop-color="#48b32f"/><stop offset="0.250" stop-color="#a0c32f"/><stop offset="0.380" stop-color="#c1b838"/><stop offset="0.400" stop-color="#c1b638"/><stop offset="0.520" stop-color="#c1a038"/><stop offset="0.540" stop-color="#c29a38"/><stop offset="0.650" stop-color="#c97838"/><stop offset="0.670" stop-color="#ca7139"/><stop offset="0.780" stop-color="#d04840"/><stop offset="0.800" stop-color="#cf4141"/><stop offset="0.900" stop-color="#c82048"/><stop offset="0.910" stop-color="#c71e48"/><stop offset="1.000" stop-color="#c0104a"/></linearGradient><linearGradient id="Rg83" gradientUnits="userSpaceOnUse" x1="557.16" y1="156.17" x2="568.60" y2="184.25"><stop offset="0.000" stop-color="#28b434"/><stop offset="0.120" stop-color="#58b82c"/><stop offset="0.250" stop-color="#b0c82c"/><stop offset="0.380" stop-color="#c4ba37"/><stop offset="0.400" stop-color="#c4b638"/><stop offset="0.520" stop-color="#c49e38"/><stop offset="0.540" stop-color="#c49938"/><stop offset="0.650" stop-color="#cc7738"/><stop offset="0.670" stop-color="#cc7038"/><stop offset="0.780" stop-color="#d04840"/><stop offset="0.800" stop-color="#d04040"/><stop offset="0.900" stop-color="#c82248"/><stop offset="0.910" stop-color="#c81f48"/><stop offset="1.000" stop-color="#c0104a"/></linearGradient><linearGradient id="Rg84" gradientUnits="userSpaceOnUse" x1="558.46" y1="155.31" x2="569.97" y2="183.56"><stop offset="0.000" stop-color="#2dbc31"/><stop offset="0.120" stop-color="#68bd29"/><stop offset="0.250" stop-color="#c0cd29"/><stop offset="0.380" stop-color="#c7ba36"/><stop offset="0.400" stop-color="#c7b838"/><stop offset="0.520" stop-color="#c79e38"/><stop offset="0.540" stop-color="#c79838"/><stop offset="0.650" stop-color="#ce7638"/><stop offset="0.670" stop-color="#cf7038"/><stop offset="0.780" stop-color="#d0473f"/><stop offset="0.800" stop-color="#d04040"/><stop offset="0.900" stop-color="#c92247"/><stop offset="0.910" stop-color="#c82048"/><stop offset="1.000" stop-color="#c0104a"/></linearGradient><linearGradient id="Rg85" gradientUnits="userSpaceOnUse" x1="559.77" y1="154.44" x2="571.35" y2="182.87"><stop offset="0.000" stop-color="#2dbc31"/><stop offset="0.120" stop-color="#68bd29"/><stop offset="0.250" stop-color="#c0cd29"/><stop offset="0.380" stop-color="#c7ba36"/><stop offset="0.400" stop-color="#c7b838"/><stop offset="0.520" stop-color="#c79e38"/><stop offset="0.540" stop-color="#c79838"/><stop offset="0.650" stop-color="#ce7638"/><stop offset="0.670" stop-color="#cf7038"/><stop offset="0.780" stop-color="#d0473f"/><stop offset="0.800" stop-color="#d04040"/><stop offset="0.900" stop-color="#c92247"/><stop offset="0.910" stop-color="#c82048"/><stop offset="1.000" stop-color="#c0104a"/></linearGradient><linearGradient id="Rg86" gradientUnits="userSpaceOnUse" x1="561.08" y1="153.58" x2="572.71" y2="182.14"><stop offset="0.000" stop-color="#28b434"/><stop offset="0.120" stop-color="#58b82c"/><stop offset="0.250" stop-color="#b0c82c"/><stop offset="0.380" stop-color="#c4ba37"/><stop offset="0.400" stop-color="#c4b638"/><stop offset="0.520" stop-color="#c49e38"/><stop offset="0.540" stop-color="#c49938"/><stop offset="0.650" stop-color="#cc7738"/><stop offset="0.670" stop-color="#cc7038"/><stop offset="0.780" stop-color="#d04840"/><stop offset="0.800" stop-color="#d04040"/><stop offset="0.900" stop-color="#c82248"/><stop offset="0.910" stop-color="#c81f48"/><stop offset="1.000" stop-color="#c0104a"/></linearGradient><linearGradient id="Rg87" gradientUnits="userSpaceOnUse" x1="562.38" y1="152.71" x2="573.98" y2="181.19"><stop offset="0.000" stop-color="#23ac37"/><stop offset="0.120" stop-color="#48b32f"/><stop offset="0.250" stop-color="#a0c32f"/><stop offset="0.380" stop-color="#c1b838"/><stop offset="0.400" stop-color="#c1b638"/><stop offset="0.520" stop-color="#c1a038"/><stop offset="0.540" stop-color="#c29a38"/><stop offset="0.650" stop-color="#c97838"/><stop offset="0.670" stop-color="#ca7139"/><stop offset="0.780" stop-color="#d04840"/><stop offset="0.800" stop-color="#cf4141"/><stop offset="0.900" stop-color="#c82048"/><stop offset="0.910" stop-color="#c71e48"/><stop offset="1.000" stop-color="#c0104a"/></linearGradient><linearGradient id="Rg88" gradientUnits="userSpaceOnUse" x1="563.70" y1="151.83" x2="575.27" y2="180.22"><stop offset="0.000" stop-color="#20a838"/><stop offset="0.120" stop-color="#40b030"/><stop offset="0.250" stop-color="#97bf2f"/><stop offset="0.380" stop-color="#bfb636"/><stop offset="0.400" stop-color="#c0b337"/><stop offset="0.520" stop-color="#c09d37"/><stop offset="0.550" stop-color="#c29437"/><stop offset="0.650" stop-color="#c87637"/><stop offset="0.700" stop-color="#ca6539"/><stop offset="0.780" stop-color="#d0483f"/><stop offset="0.830" stop-color="#ce3742"/><stop offset="0.900" stop-color="#c82048"/><stop offset="0.930" stop-color="#c61a49"/><stop offset="1.000" stop-color="#c0104a"/></linearGradient><linearGradient id="Rg89" gradientUnits="userSpaceOnUse" x1="565.04" y1="150.94" x2="576.57" y2="179.25"><stop offset="0.000" stop-color="#20a838"/><stop offset="0.120" stop-color="#40b030"/><stop offset="0.250" stop-color="#94bc2c"/><stop offset="0.380" stop-color="#bdb134"/><stop offset="0.400" stop-color="#c0ae34"/><stop offset="0.520" stop-color="#c09734"/><stop offset="0.550" stop-color="#c19034"/><stop offset="0.650" stop-color="#c67234"/><stop offset="0.700" stop-color="#ca6336"/><stop offset="0.780" stop-color="#ce483d"/><stop offset="0.830" stop-color="#ce3842"/><stop offset="0.900" stop-color="#c92147"/><stop offset="0.930" stop-color="#c71a48"/><stop offset="1.000" stop-color="#c0104a"/></linearGradient><linearGradient id="Rg90" gradientUnits="userSpaceOnUse" x1="566.37" y1="150.05" x2="577.87" y2="178.27"><stop offset="0.000" stop-color="#20a838"/><stop offset="0.120" stop-color="#40b030"/><stop offset="0.250" stop-color="#91b929"/><stop offset="0.380" stop-color="#bbac30"/><stop offset="0.400" stop-color="#c0aa31"/><stop offset="0.520" stop-color="#c09131"/><stop offset="0.550" stop-color="#c08a31"/><stop offset="0.650" stop-color="#c66f31"/><stop offset="0.700" stop-color="#c86132"/><stop offset="0.780" stop-color="#ce473b"/><stop offset="0.830" stop-color="#d03840"/><stop offset="0.900" stop-color="#ca2246"/><stop offset="0.930" stop-color="#c81848"/><stop offset="1.000" stop-color="#c0104a"/></linearGradient><linearGradient id="Rg91" gradientUnits="userSpaceOnUse" x1="567.71" y1="149.16" x2="579.17" y2="177.30"><stop offset="0.000" stop-color="#23ac37"/><stop offset="0.120" stop-color="#48b32f"/><stop offset="0.250" stop-color="#99bc28"/><stop offset="0.400" stop-color="#c1ab31"/><stop offset="0.540" stop-color="#c18c31"/><stop offset="0.550" stop-color="#c28a31"/><stop offset="0.670" stop-color="#c86931"/><stop offset="0.700" stop-color="#c96132"/><stop offset="0.800" stop-color="#ce413d"/><stop offset="0.830" stop-color="#d03840"/><stop offset="0.910" stop-color="#ca1e46"/><stop offset="0.930" stop-color="#c81948"/><stop offset="1.000" stop-color="#c0104a"/></linearGradient><linearGradient id="Rg92" gradientUnits="userSpaceOnUse" x1="569.03" y1="148.28" x2="580.46" y2="176.33"><stop offset="0.000" stop-color="#28b434"/><stop offset="0.120" stop-color="#58b82c"/><stop offset="0.250" stop-color="#acc428"/><stop offset="0.400" stop-color="#c4b034"/><stop offset="0.540" stop-color="#c49134"/><stop offset="0.550" stop-color="#c48e34"/><stop offset="0.670" stop-color="#cb6c34"/><stop offset="0.700" stop-color="#cc6235"/><stop offset="0.800" stop-color="#cf403e"/><stop offset="0.830" stop-color="#cf3841"/><stop offset="0.910" stop-color="#c91f47"/><stop offset="0.930" stop-color="#c71a48"/><stop offset="1.000" stop-color="#c0104a"/></linearGradient><linearGradient id="Rg93" gradientUnits="userSpaceOnUse" x1="570.36" y1="147.39" x2="581.86" y2="175.63"><stop offset="0.000" stop-color="#2dbc31"/><stop offset="0.120" stop-color="#68bd29"/><stop offset="0.250" stop-color="#bfcc28"/><stop offset="0.400" stop-color="#c7b537"/><stop offset="0.540" stop-color="#c79637"/><stop offset="0.550" stop-color="#c89337"/><stop offset="0.670" stop-color="#ce6f37"/><stop offset="0.700" stop-color="#cf6438"/><stop offset="0.800" stop-color="#d0403f"/><stop offset="0.830" stop-color="#ce3742"/><stop offset="0.910" stop-color="#c82048"/><stop offset="0.930" stop-color="#c61b48"/><stop offset="1.000" stop-color="#c0104a"/></linearGradient><linearGradient id="Rg94" gradientUnits="userSpaceOnUse" x1="571.78" y1="146.45" x2="583.52" y2="174.82"><stop offset="0.000" stop-color="#2dbc31"/><stop offset="0.120" stop-color="#68bd29"/><stop offset="0.250" stop-color="#c0cd29"/><stop offset="0.380" stop-color="#c7ba36"/><stop offset="0.400" stop-color="#c7b838"/><stop offset="0.520" stop-color="#c79e38"/><stop offset="0.540" stop-color="#c79838"/><stop offset="0.650" stop-color="#ce7638"/><stop offset="0.670" stop-color="#cf7038"/><stop offset="0.780" stop-color="#d0473f"/><stop offset="0.800" stop-color="#d04040"/><stop offset="0.900" stop-color="#c92247"/><stop offset="0.910" stop-color="#c82048"/><stop offset="1.000" stop-color="#c0104a"/></linearGradient><linearGradient id="Rg95" gradientUnits="userSpaceOnUse" x1="573.30" y1="145.43" x2="585.43" y2="173.91"><stop offset="0.000" stop-color="#28b434"/><stop offset="0.120" stop-color="#58b82c"/><stop offset="0.250" stop-color="#b0c82c"/><stop offset="0.380" stop-color="#c4ba37"/><stop offset="0.400" stop-color="#c4b638"/><stop offset="0.520" stop-color="#c49e38"/><stop offset="0.540" stop-color="#c49938"/><stop offset="0.650" stop-color="#cc7738"/><stop offset="0.670" stop-color="#cc7038"/><stop offset="0.780" stop-color="#d04840"/><stop offset="0.800" stop-color="#d04040"/><stop offset="0.900" stop-color="#c82248"/><stop offset="0.910" stop-color="#c81f48"/><stop offset="1.000" stop-color="#c0104a"/></linearGradient><linearGradient id="Rg96" gradientUnits="userSpaceOnUse" x1="574.76" y1="144.27" x2="587.40" y2="173.10"><stop offset="0.000" stop-color="#23ac37"/><stop offset="0.120" stop-color="#48b32f"/><stop offset="0.250" stop-color="#a0c32f"/><stop offset="0.380" stop-color="#c1b838"/><stop offset="0.400" stop-color="#c1b638"/><stop offset="0.520" stop-color="#c1a038"/><stop offset="0.540" stop-color="#c29a38"/><stop offset="0.650" stop-color="#c97838"/><stop offset="0.670" stop-color="#ca7139"/><stop offset="0.780" stop-color="#d04840"/><stop offset="0.800" stop-color="#cf4141"/><stop offset="0.900" stop-color="#c82048"/><stop offset="0.910" stop-color="#c71e48"/><stop offset="1.000" stop-color="#c0104a"/></linearGradient><linearGradient id="Rg97" gradientUnits="userSpaceOnUse" x1="576.17" y1="143.12" x2="589.32" y2="172.32"><stop offset="0.000" stop-color="#20a838"/><stop offset="0.120" stop-color="#40b030"/><stop offset="0.250" stop-color="#97bf2f"/><stop offset="0.380" stop-color="#bfb636"/><stop offset="0.400" stop-color="#c0b337"/><stop offset="0.520" stop-color="#c09d37"/><stop offset="0.550" stop-color="#c29437"/><stop offset="0.650" stop-color="#c87637"/><stop offset="0.700" stop-color="#ca6539"/><stop offset="0.780" stop-color="#d0483f"/><stop offset="0.830" stop-color="#ce3742"/><stop offset="0.900" stop-color="#c82048"/><stop offset="0.930" stop-color="#c61a49"/><stop offset="1.000" stop-color="#c0104a"/></linearGradient><linearGradient id="Rg98" gradientUnits="userSpaceOnUse" x1="577.55" y1="142.00" x2="591.16" y2="171.41"><stop offset="0.000" stop-color="#20a838"/><stop offset="0.120" stop-color="#40b030"/><stop offset="0.250" stop-color="#94bc2c"/><stop offset="0.380" stop-color="#bdb134"/><stop offset="0.400" stop-color="#c0ae34"/><stop offset="0.520" stop-color="#c09734"/><stop offset="0.550" stop-color="#c19034"/><stop offset="0.650" stop-color="#c67234"/><stop offset="0.700" stop-color="#ca6336"/><stop offset="0.780" stop-color="#ce483d"/><stop offset="0.830" stop-color="#ce3842"/><stop offset="0.900" stop-color="#c92147"/><stop offset="0.930" stop-color="#c71a48"/><stop offset="1.000" stop-color="#c0104a"/></linearGradient><linearGradient id="Rg99" gradientUnits="userSpaceOnUse" x1="578.87" y1="140.73" x2="592.88" y2="170.21"><stop offset="0.000" stop-color="#20a838"/><stop offset="0.120" stop-color="#40b030"/><stop offset="0.250" stop-color="#91b929"/><stop offset="0.380" stop-color="#bbac30"/><stop offset="0.400" stop-color="#c0aa31"/><stop offset="0.520" stop-color="#c09131"/><stop offset="0.550" stop-color="#c08a31"/><stop offset="0.650" stop-color="#c66f31"/><stop offset="0.700" stop-color="#c86132"/><stop offset="0.780" stop-color="#ce473b"/><stop offset="0.830" stop-color="#d03840"/><stop offset="0.900" stop-color="#ca2246"/><stop offset="0.930" stop-color="#c81848"/><stop offset="1.000" stop-color="#c0104a"/></linearGradient><linearGradient id="Rg100" gradientUnits="userSpaceOnUse" x1="579.96" y1="139.38" x2="595.00" y2="168.72"><stop offset="0.000" stop-color="#23ac37"/><stop offset="0.100" stop-color="#46b330"/><stop offset="0.120" stop-color="#4db42f"/><stop offset="0.220" stop-color="#8cba2a"/><stop offset="0.250" stop-color="#9bbb29"/><stop offset="0.340" stop-color="#b3ae2f"/><stop offset="0.400" stop-color="#c3a731"/><stop offset="0.460" stop-color="#c39931"/><stop offset="0.550" stop-color="#c38431"/><stop offset="0.580" stop-color="#c47c31"/><stop offset="0.700" stop-color="#c95b33"/><stop offset="0.830" stop-color="#cf3441"/><stop offset="0.840" stop-color="#ce3242"/><stop offset="0.930" stop-color="#c71848"/><stop offset="1.000" stop-color="#c0104a"/></linearGradient><linearGradient id="Rg101" gradientUnits="userSpaceOnUse" x1="580.98" y1="138.14" x2="597.30" y2="166.43"><stop offset="0.000" stop-color="#28b434"/><stop offset="0.100" stop-color="#5ebc2c"/><stop offset="0.120" stop-color="#66bc2c"/><stop offset="0.220" stop-color="#a7c329"/><stop offset="0.250" stop-color="#b0c02a"/><stop offset="0.340" stop-color="#beaf32"/><stop offset="0.400" stop-color="#c8a434"/><stop offset="0.460" stop-color="#c89634"/><stop offset="0.550" stop-color="#c87d34"/><stop offset="0.580" stop-color="#c97434"/><stop offset="0.700" stop-color="#cc5038"/><stop offset="0.830" stop-color="#cc2d44"/><stop offset="0.840" stop-color="#cc2a44"/><stop offset="0.930" stop-color="#c61848"/><stop offset="1.000" stop-color="#c0104a"/></linearGradient><linearGradient id="Rg102" gradientUnits="userSpaceOnUse" x1="582.00" y1="136.89" x2="599.49" y2="164.02"><stop offset="0.000" stop-color="#2dbc31"/><stop offset="0.100" stop-color="#74c42a"/><stop offset="0.120" stop-color="#80c529"/><stop offset="0.220" stop-color="#c2cc28"/><stop offset="0.250" stop-color="#c5c52b"/><stop offset="0.340" stop-color="#cab036"/><stop offset="0.400" stop-color="#cda137"/><stop offset="0.460" stop-color="#cd9237"/><stop offset="0.550" stop-color="#cd7637"/><stop offset="0.580" stop-color="#ce6c37"/><stop offset="0.700" stop-color="#cf453d"/><stop offset="0.830" stop-color="#ca2646"/><stop offset="0.840" stop-color="#c92447"/><stop offset="0.930" stop-color="#c51749"/><stop offset="1.000" stop-color="#c0104a"/></linearGradient><linearGradient id="Rg103" gradientUnits="userSpaceOnUse" x1="582.97" y1="135.27" x2="601.14" y2="161.74"><stop offset="0.000" stop-color="#30c030"/><stop offset="0.100" stop-color="#80c828"/><stop offset="0.220" stop-color="#d0d028"/><stop offset="0.340" stop-color="#d0b038"/><stop offset="0.460" stop-color="#d09038"/><stop offset="0.580" stop-color="#d06838"/><stop offset="0.700" stop-color="#d04040"/><stop offset="0.840" stop-color="#c82048"/><stop offset="1.000" stop-color="#c0104a"/></linearGradient><linearGradient id="Rg104" gradientUnits="userSpaceOnUse" x1="583.97" y1="133.27" x2="602.40" y2="159.60"><stop offset="0.000" stop-color="#30c030"/><stop offset="0.100" stop-color="#80c828"/><stop offset="0.220" stop-color="#d0d028"/><stop offset="0.340" stop-color="#d0b038"/><stop offset="0.460" stop-color="#d09038"/><stop offset="0.580" stop-color="#d06838"/><stop offset="0.700" stop-color="#d04040"/><stop offset="0.840" stop-color="#c82048"/><stop offset="1.000" stop-color="#c0104a"/></linearGradient><linearGradient id="Rg105" gradientUnits="userSpaceOnUse" x1="584.97" y1="131.27" x2="603.37" y2="157.06"><stop offset="0.000" stop-color="#30c030"/><stop offset="0.100" stop-color="#80c828"/><stop offset="0.220" stop-color="#d0d028"/><stop offset="0.340" stop-color="#d0b038"/><stop offset="0.460" stop-color="#d09038"/><stop offset="0.580" stop-color="#d06838"/><stop offset="0.700" stop-color="#d04040"/><stop offset="0.840" stop-color="#c82048"/><stop offset="1.000" stop-color="#c0104a"/></linearGradient><linearGradient id="Rg106" gradientUnits="userSpaceOnUse" x1="585.76" y1="129.34" x2="604.22" y2="154.97"><stop offset="0.000" stop-color="#30c030"/><stop offset="0.100" stop-color="#80c828"/><stop offset="0.220" stop-color="#d0d028"/><stop offset="0.340" stop-color="#d0b038"/><stop offset="0.460" stop-color="#d09038"/><stop offset="0.580" stop-color="#d06838"/><stop offset="0.700" stop-color="#d04040"/><stop offset="0.840" stop-color="#c82048"/><stop offset="1.000" stop-color="#c0104a"/></linearGradient><linearGradient id="Rg107" gradientUnits="userSpaceOnUse" x1="586.40" y1="127.47" x2="605.04" y2="153.36"><stop offset="0.000" stop-color="#30c030"/><stop offset="0.100" stop-color="#80c828"/><stop offset="0.220" stop-color="#d0d028"/><stop offset="0.340" stop-color="#d0b038"/><stop offset="0.460" stop-color="#d09038"/><stop offset="0.580" stop-color="#d06838"/><stop offset="0.700" stop-color="#d04040"/><stop offset="0.840" stop-color="#c82048"/><stop offset="1.000" stop-color="#c0104a"/></linearGradient><linearGradient id="Rg108" gradientUnits="userSpaceOnUse" x1="587.05" y1="125.60" x2="605.87" y2="151.74"><stop offset="0.000" stop-color="#30c030"/><stop offset="0.100" stop-color="#80c828"/><stop offset="0.220" stop-color="#d0d028"/><stop offset="0.340" stop-color="#d0b038"/><stop offset="0.460" stop-color="#d09038"/><stop offset="0.580" stop-color="#d06838"/><stop offset="0.700" stop-color="#d04040"/><stop offset="0.840" stop-color="#c82048"/><stop offset="1.000" stop-color="#c0104a"/></linearGradient><linearGradient id="Rg109" gradientUnits="userSpaceOnUse" x1="587.70" y1="123.68" x2="606.66" y2="150.01"><stop offset="0.000" stop-color="#2dbc31"/><stop offset="0.100" stop-color="#78c529"/><stop offset="0.220" stop-color="#c9cd29"/><stop offset="0.340" stop-color="#cfb038"/><stop offset="0.460" stop-color="#d09038"/><stop offset="0.580" stop-color="#d06838"/><stop offset="0.700" stop-color="#d04040"/><stop offset="0.840" stop-color="#c82048"/><stop offset="1.000" stop-color="#c0104a"/></linearGradient><linearGradient id="Rg110" gradientUnits="userSpaceOnUse" x1="588.63" y1="122.14" x2="607.31" y2="148.08"><stop offset="0.000" stop-color="#28b434"/><stop offset="0.100" stop-color="#68be2c"/><stop offset="0.220" stop-color="#bcc82c"/><stop offset="0.340" stop-color="#ccb038"/><stop offset="0.460" stop-color="#d09038"/><stop offset="0.580" stop-color="#d06838"/><stop offset="0.700" stop-color="#d04040"/><stop offset="0.840" stop-color="#c82048"/><stop offset="1.000" stop-color="#c0104a"/></linearGradient><linearGradient id="Rg111" gradientUnits="userSpaceOnUse" x1="589.60" y1="120.67" x2="607.95" y2="146.15"><stop offset="0.000" stop-color="#23ac37"/><stop offset="0.100" stop-color="#58b72f"/><stop offset="0.220" stop-color="#afc32f"/><stop offset="0.340" stop-color="#c9b038"/><stop offset="0.460" stop-color="#d09038"/><stop offset="0.580" stop-color="#d06838"/><stop offset="0.700" stop-color="#d04040"/><stop offset="0.840" stop-color="#c82048"/><stop offset="1.000" stop-color="#c0104a"/></linearGradient><linearGradient id="Rg112" gradientUnits="userSpaceOnUse" x1="590.59" y1="119.17" x2="608.68" y2="144.29"><stop offset="0.000" stop-color="#20a838"/><stop offset="0.100" stop-color="#50b430"/><stop offset="0.220" stop-color="#a8c030"/><stop offset="0.340" stop-color="#c8b038"/><stop offset="0.460" stop-color="#d09038"/><stop offset="0.580" stop-color="#d06838"/><stop offset="0.700" stop-color="#d04040"/><stop offset="0.840" stop-color="#c82048"/><stop offset="1.000" stop-color="#c0104a"/></linearGradient><linearGradient id="Rg113" gradientUnits="userSpaceOnUse" x1="591.98" y1="118.36" x2="609.75" y2="143.03"><stop offset="0.000" stop-color="#20a838"/><stop offset="0.100" stop-color="#50b430"/><stop offset="0.220" stop-color="#a8c030"/><stop offset="0.340" stop-color="#c8b038"/><stop offset="0.460" stop-color="#d09038"/><stop offset="0.580" stop-color="#d06838"/><stop offset="0.700" stop-color="#d04040"/><stop offset="0.840" stop-color="#c82048"/><stop offset="1.000" stop-color="#c0104a"/></linearGradient><linearGradient id="Rg114" gradientUnits="userSpaceOnUse" x1="593.44" y1="117.63" x2="610.82" y2="141.78"><stop offset="0.000" stop-color="#20a838"/><stop offset="0.100" stop-color="#50b430"/><stop offset="0.220" stop-color="#a8c030"/><stop offset="0.340" stop-color="#c8b038"/><stop offset="0.460" stop-color="#d09038"/><stop offset="0.580" stop-color="#d06838"/><stop offset="0.700" stop-color="#d04040"/><stop offset="0.840" stop-color="#c82048"/><stop offset="1.000" stop-color="#c0104a"/></linearGradient><linearGradient id="Rg115" gradientUnits="userSpaceOnUse" x1="595.02" y1="116.84" x2="611.98" y2="140.93"><stop offset="0.000" stop-color="#1fa738"/><stop offset="0.100" stop-color="#4ab131"/><stop offset="0.200" stop-color="#8ab930"/><stop offset="0.220" stop-color="#98bb30"/><stop offset="0.340" stop-color="#bbad37"/><stop offset="0.400" stop-color="#c2a037"/><stop offset="0.460" stop-color="#c89237"/><stop offset="0.580" stop-color="#cc6e37"/><stop offset="0.600" stop-color="#cd6838"/><stop offset="0.700" stop-color="#ce493d"/><stop offset="0.800" stop-color="#ca3242"/><stop offset="0.840" stop-color="#c82944"/><stop offset="1.000" stop-color="#c11748"/></linearGradient><linearGradient id="Rg116" gradientUnits="userSpaceOnUse" x1="596.74" y1="115.98" x2="613.27" y2="140.55"><stop offset="0.000" stop-color="#1ca438"/><stop offset="0.100" stop-color="#3eaa32"/><stop offset="0.200" stop-color="#6caf30"/><stop offset="0.220" stop-color="#78b030"/><stop offset="0.340" stop-color="#a0a834"/><stop offset="0.400" stop-color="#aea034"/><stop offset="0.460" stop-color="#b79434"/><stop offset="0.580" stop-color="#c67934"/><stop offset="0.600" stop-color="#c87434"/><stop offset="0.700" stop-color="#ca5a38"/><stop offset="0.800" stop-color="#c9443b"/><stop offset="0.840" stop-color="#c83c3e"/><stop offset="1.000" stop-color="#c42445"/></linearGradient><linearGradient id="Rg117" gradientUnits="userSpaceOnUse" x1="598.45" y1="115.13" x2="614.57" y2="140.17"><stop offset="0.000" stop-color="#19a138"/><stop offset="0.100" stop-color="#32a333"/><stop offset="0.200" stop-color="#4fa530"/><stop offset="0.220" stop-color="#58a530"/><stop offset="0.340" stop-color="#85a331"/><stop offset="0.400" stop-color="#9aa031"/><stop offset="0.460" stop-color="#a69831"/><stop offset="0.580" stop-color="#be8431"/><stop offset="0.600" stop-color="#c38232"/><stop offset="0.700" stop-color="#c66b33"/><stop offset="0.800" stop-color="#c85734"/><stop offset="0.840" stop-color="#c84f36"/><stop offset="1.000" stop-color="#c73142"/></linearGradient><linearGradient id="Rg118" gradientUnits="userSpaceOnUse" x1="600.03" y1="114.34" x2="616.03" y2="139.74"><stop offset="0.000" stop-color="#18a038"/><stop offset="0.200" stop-color="#41a030"/><stop offset="0.250" stop-color="#53a030"/><stop offset="0.400" stop-color="#8d9e30"/><stop offset="0.500" stop-color="#a79330"/><stop offset="0.600" stop-color="#bc8830"/><stop offset="0.750" stop-color="#c46c30"/><stop offset="0.800" stop-color="#c66330"/><stop offset="1.000" stop-color="#c73d3d"/></linearGradient><linearGradient id="Rg119" gradientUnits="userSpaceOnUse" x1="601.52" y1="113.59" x2="617.70" y2="139.29"><stop offset="0.000" stop-color="#18a038"/><stop offset="0.200" stop-color="#42a031"/><stop offset="0.250" stop-color="#52a030"/><stop offset="0.400" stop-color="#889b30"/><stop offset="0.500" stop-color="#a49230"/><stop offset="0.600" stop-color="#b58730"/><stop offset="0.750" stop-color="#bf7130"/><stop offset="0.800" stop-color="#c16930"/><stop offset="1.000" stop-color="#c44838"/></linearGradient><linearGradient id="Rg120" gradientUnits="userSpaceOnUse" x1="603.31" y1="113.31" x2="619.42" y2="138.91"><stop offset="0.000" stop-color="#18a038"/><stop offset="0.200" stop-color="#44a032"/><stop offset="0.250" stop-color="#51a030"/><stop offset="0.400" stop-color="#839830"/><stop offset="0.500" stop-color="#a19130"/><stop offset="0.600" stop-color="#ae8630"/><stop offset="0.750" stop-color="#ba7630"/><stop offset="0.800" stop-color="#bc6f30"/><stop offset="1.000" stop-color="#c15333"/></linearGradient><linearGradient id="Rg121" gradientUnits="userSpaceOnUse" x1="605.16" y1="113.10" x2="621.17" y2="138.53"><stop offset="0.000" stop-color="#18a038"/><stop offset="0.250" stop-color="#53a030"/><stop offset="0.500" stop-color="#a19330"/><stop offset="0.750" stop-color="#b87930"/><stop offset="1.000" stop-color="#c05930"/></linearGradient><linearGradient id="Rg122" gradientUnits="userSpaceOnUse" x1="607.10" y1="112.87" x2="623.21" y2="138.47"><stop offset="0.000" stop-color="#18a038"/><stop offset="0.250" stop-color="#58a030"/><stop offset="0.500" stop-color="#a49830"/><stop offset="0.750" stop-color="#b87c30"/><stop offset="1.000" stop-color="#c05c30"/></linearGradient><linearGradient id="Rg123" gradientUnits="userSpaceOnUse" x1="609.13" y1="112.78" x2="625.54" y2="138.86"><stop offset="0.000" stop-color="#18a038"/><stop offset="0.250" stop-color="#5da030"/><stop offset="0.500" stop-color="#a79d30"/><stop offset="0.750" stop-color="#b87f30"/><stop offset="1.000" stop-color="#c05f30"/></linearGradient><linearGradient id="Rg124" gradientUnits="userSpaceOnUse" x1="611.13" y1="112.75" x2="627.81" y2="139.23"><stop offset="0.000" stop-color="#18a038"/><stop offset="0.250" stop-color="#60a030"/><stop offset="0.500" stop-color="#a8a030"/><stop offset="0.750" stop-color="#b88030"/><stop offset="1.000" stop-color="#c06030"/></linearGradient><linearGradient id="Rg125" gradientUnits="userSpaceOnUse" x1="613.12" y1="112.73" x2="629.67" y2="139.02"><stop offset="0.000" stop-color="#18a038"/><stop offset="0.250" stop-color="#60a030"/><stop offset="0.500" stop-color="#a8a030"/><stop offset="0.750" stop-color="#b88030"/><stop offset="1.000" stop-color="#c06030"/></linearGradient><linearGradient id="Rg126" gradientUnits="userSpaceOnUse" x1="615.10" y1="112.70" x2="631.24" y2="138.34"><stop offset="0.000" stop-color="#18a038"/><stop offset="0.250" stop-color="#60a030"/><stop offset="0.500" stop-color="#a8a030"/><stop offset="0.750" stop-color="#b88030"/><stop offset="1.000" stop-color="#c06030"/></linearGradient><linearGradient id="Rg127" gradientUnits="userSpaceOnUse" x1="615.88" y1="113.23" x2="631.25" y2="138.34"><stop offset="0.000" stop-color="#3cad31"/><stop offset="0.250" stop-color="#76ad2b"/><stop offset="0.500" stop-color="#b0ad2c"/><stop offset="0.750" stop-color="#b2902e"/><stop offset="1.000" stop-color="#ad7330"/></linearGradient><linearGradient id="Rg128" gradientUnits="userSpaceOnUse" x1="615.83" y1="113.18" x2="630.35" y2="138.73"><stop offset="0.000" stop-color="#84c824"/><stop offset="0.250" stop-color="#a2c822"/><stop offset="0.500" stop-color="#c0c824"/><stop offset="0.750" stop-color="#a6b02a"/><stop offset="1.000" stop-color="#889830"/></linearGradient><linearGradient id="Rg129" gradientUnits="userSpaceOnUse" x1="616.55" y1="113.83" x2="629.42" y2="139.13"><stop offset="0.000" stop-color="#cce317"/><stop offset="0.250" stop-color="#cee319"/><stop offset="0.500" stop-color="#d0e31c"/><stop offset="0.750" stop-color="#9ad026"/><stop offset="1.000" stop-color="#63bd30"/></linearGradient><linearGradient id="Rg130" gradientUnits="userSpaceOnUse" x1="619.28" y1="116.32" x2="630.28" y2="138.76"><stop offset="0.000" stop-color="#f0f010"/><stop offset="0.500" stop-color="#d7f018"/><stop offset="1.000" stop-color="#4dd030"/></linearGradient><linearGradient id="Rg131" gradientUnits="userSpaceOnUse" x1="622.24" y1="119.00" x2="632.25" y2="137.91"><stop offset="0.000" stop-color="#f0f010"/><stop offset="0.500" stop-color="#d4f018"/><stop offset="1.000" stop-color="#48d030"/></linearGradient><linearGradient id="Rg132" gradientUnits="userSpaceOnUse" x1="624.63" y1="120.24" x2="634.19" y2="137.07"><stop offset="0.000" stop-color="#f0f010"/><stop offset="0.500" stop-color="#d1f018"/><stop offset="1.000" stop-color="#43d030"/></linearGradient><linearGradient id="Rg133" gradientUnits="userSpaceOnUse" x1="626.26" y1="119.32" x2="636.30" y2="135.32"><stop offset="0.000" stop-color="#f0f010"/><stop offset="0.400" stop-color="#d8f015"/><stop offset="0.500" stop-color="#cfef18"/><stop offset="0.700" stop-color="#98e222"/><stop offset="1.000" stop-color="#3dd030"/></linearGradient><linearGradient id="Rg134" gradientUnits="userSpaceOnUse" x1="628.23" y1="118.21" x2="638.26" y2="132.42"><stop offset="0.000" stop-color="#f0f010"/><stop offset="0.400" stop-color="#dbf013"/><stop offset="0.500" stop-color="#ceee16"/><stop offset="0.700" stop-color="#9be221"/><stop offset="1.000" stop-color="#38d030"/></linearGradient><linearGradient id="Rg135" gradientUnits="userSpaceOnUse" x1="630.24" y1="117.07" x2="640.14" y2="129.69"><stop offset="0.000" stop-color="#f0f010"/><stop offset="0.400" stop-color="#def011"/><stop offset="0.500" stop-color="#ccec16"/><stop offset="0.700" stop-color="#9ee020"/><stop offset="1.000" stop-color="#33d030"/></linearGradient><linearGradient id="Rg136" gradientUnits="userSpaceOnUse" x1="632.02" y1="115.58" x2="642.09" y2="127.18"><stop offset="0.000" stop-color="#eff010"/><stop offset="0.400" stop-color="#daef12"/><stop offset="0.500" stop-color="#c6ea17"/><stop offset="0.700" stop-color="#9adf22"/><stop offset="1.000" stop-color="#30cf31"/></linearGradient><linearGradient id="Rg137" gradientUnits="userSpaceOnUse" x1="633.68" y1="113.92" x2="644.06" y2="124.65"><stop offset="0.000" stop-color="#ecf010"/><stop offset="0.400" stop-color="#ceed16"/><stop offset="0.500" stop-color="#beea1a"/><stop offset="0.700" stop-color="#8ede25"/><stop offset="1.000" stop-color="#30cc34"/></linearGradient><linearGradient id="Rg138" gradientUnits="userSpaceOnUse" x1="635.35" y1="112.25" x2="646.20" y2="122.30"><stop offset="0.000" stop-color="#e9f010"/><stop offset="0.400" stop-color="#c1eb1b"/><stop offset="0.500" stop-color="#b4e81e"/><stop offset="0.700" stop-color="#83dc28"/><stop offset="1.000" stop-color="#30c937"/></linearGradient><linearGradient id="Rg139" gradientUnits="userSpaceOnUse" x1="636.97" y1="110.41" x2="648.36" y2="120.14"><stop offset="0.000" stop-color="#e9f010"/><stop offset="0.400" stop-color="#c1eb1b"/><stop offset="0.500" stop-color="#b3e81f"/><stop offset="0.800" stop-color="#62d42e"/><stop offset="1.000" stop-color="#2dc739"/></linearGradient><linearGradient id="Rg140" gradientUnits="userSpaceOnUse" x1="638.61" y1="108.44" x2="650.44" y2="118.06"><stop offset="0.000" stop-color="#ecf010"/><stop offset="0.400" stop-color="#ceed16"/><stop offset="0.500" stop-color="#b8e81c"/><stop offset="0.800" stop-color="#62d22f"/><stop offset="1.000" stop-color="#28c43c"/></linearGradient><linearGradient id="Rg141" gradientUnits="userSpaceOnUse" x1="640.24" y1="106.48" x2="652.16" y2="115.66"><stop offset="0.000" stop-color="#eff010"/><stop offset="0.400" stop-color="#daef12"/><stop offset="0.500" stop-color="#bde819"/><stop offset="0.800" stop-color="#60d130"/><stop offset="1.000" stop-color="#23c13f"/></linearGradient><linearGradient id="Rg142" gradientUnits="userSpaceOnUse" x1="641.65" y1="104.11" x2="653.90" y2="113.05"><stop offset="0.000" stop-color="#ddec14"/><stop offset="0.400" stop-color="#c5e917"/><stop offset="0.800" stop-color="#55cd33"/><stop offset="1.000" stop-color="#1dbf41"/></linearGradient><linearGradient id="Rg143" gradientUnits="userSpaceOnUse" x1="642.98" y1="101.44" x2="655.67" y2="110.17"><stop offset="0.000" stop-color="#b8e41c"/><stop offset="0.400" stop-color="#90dc24"/><stop offset="0.800" stop-color="#40c63a"/><stop offset="1.000" stop-color="#18bc44"/></linearGradient><linearGradient id="Rg144" gradientUnits="userSpaceOnUse" x1="644.31" y1="98.78" x2="657.35" y2="107.19"><stop offset="0.000" stop-color="#93dc24"/><stop offset="0.400" stop-color="#5bcf31"/><stop offset="0.800" stop-color="#2bc040"/><stop offset="1.000" stop-color="#13b947"/></linearGradient><linearGradient id="Rg145" gradientUnits="userSpaceOnUse" x1="645.44" y1="96.11" x2="658.87" y2="104.41"><stop offset="0.000" stop-color="#6dd32d"/><stop offset="0.400" stop-color="#38c33c"/><stop offset="0.500" stop-color="#31c03e"/><stop offset="1.000" stop-color="#10b748"/></linearGradient><linearGradient id="Rg146" gradientUnits="userSpaceOnUse" x1="646.44" y1="93.48" x2="660.03" y2="101.71"><stop offset="0.000" stop-color="#48c838"/><stop offset="0.400" stop-color="#28ba43"/><stop offset="0.500" stop-color="#24b646"/><stop offset="1.000" stop-color="#10b448"/></linearGradient><linearGradient id="Rg147" gradientUnits="userSpaceOnUse" x1="647.44" y1="90.84" x2="661.18" y2="99.01"><stop offset="0.000" stop-color="#23bd43"/><stop offset="0.400" stop-color="#18b04a"/><stop offset="0.500" stop-color="#17ad4c"/><stop offset="1.000" stop-color="#10b148"/></linearGradient><linearGradient id="Rg148" gradientUnits="userSpaceOnUse" x1="648.44" y1="88.19" x2="662.41" y2="96.41"><stop offset="0.000" stop-color="#28bf41"/><stop offset="0.500" stop-color="#1dad4b"/><stop offset="1.000" stop-color="#13b148"/></linearGradient><linearGradient id="Rg149" gradientUnits="userSpaceOnUse" x1="649.44" y1="85.53" x2="663.68" y2="93.90"><stop offset="0.000" stop-color="#58cc34"/><stop offset="0.500" stop-color="#38b840"/><stop offset="1.000" stop-color="#18b448"/></linearGradient><linearGradient id="Rg150" gradientUnits="userSpaceOnUse" x1="650.44" y1="82.86" x2="664.95" y2="91.39"><stop offset="0.000" stop-color="#88d927"/><stop offset="0.500" stop-color="#53c335"/><stop offset="1.000" stop-color="#1db748"/></linearGradient><linearGradient id="Rg151" gradientUnits="userSpaceOnUse" x1="651.69" y1="80.59" x2="666.04" y2="89.11"><stop offset="0.000" stop-color="#ade31d"/><stop offset="0.500" stop-color="#74cf2b"/><stop offset="1.000" stop-color="#25bb45"/></linearGradient><linearGradient id="Rg152" gradientUnits="userSpaceOnUse" x1="653.02" y1="78.62" x2="666.92" y2="87.04"><stop offset="0.000" stop-color="#c8e818"/><stop offset="0.500" stop-color="#9cdc20"/><stop offset="1.000" stop-color="#30c040"/></linearGradient><linearGradient id="Rg153" gradientUnits="userSpaceOnUse" x1="654.36" y1="76.65" x2="667.80" y2="84.97"><stop offset="0.000" stop-color="#e3ed13"/><stop offset="0.500" stop-color="#c4e915"/><stop offset="1.000" stop-color="#3bc53b"/></linearGradient><linearGradient id="Rg154" gradientUnits="userSpaceOnUse" x1="655.52" y1="74.79" x2="668.66" y2="82.95"><stop offset="0.000" stop-color="#eff010"/><stop offset="0.400" stop-color="#d8ef13"/><stop offset="0.500" stop-color="#ceed14"/><stop offset="0.700" stop-color="#8edc24"/><stop offset="1.000" stop-color="#38c73c"/></linearGradient><linearGradient id="Rg155" gradientUnits="userSpaceOnUse" x1="656.55" y1="73.06" x2="669.49" y2="80.99"><stop offset="0.000" stop-color="#ecf010"/><stop offset="0.400" stop-color="#ceec18"/><stop offset="0.500" stop-color="#bae61c"/><stop offset="0.700" stop-color="#76d42c"/><stop offset="1.000" stop-color="#28c444"/></linearGradient><linearGradient id="Rg156" gradientUnits="userSpaceOnUse" x1="657.59" y1="71.32" x2="670.61" y2="79.19"><stop offset="0.000" stop-color="#e9f010"/><stop offset="0.400" stop-color="#c5e91d"/><stop offset="0.500" stop-color="#a5e024"/><stop offset="0.700" stop-color="#5ccc34"/><stop offset="1.000" stop-color="#18c14c"/></linearGradient><linearGradient id="Rg157" gradientUnits="userSpaceOnUse" x1="658.53" y1="68.92" x2="671.71" y2="76.83"><stop offset="0.000" stop-color="#c7e819"/><stop offset="0.400" stop-color="#a3e028"/><stop offset="0.500" stop-color="#84d72f"/><stop offset="0.700" stop-color="#45c43d"/><stop offset="1.000" stop-color="#10bc53"/></linearGradient><linearGradient id="Rg158" gradientUnits="userSpaceOnUse" x1="659.53" y1="65.92" x2="672.62" y2="73.77"><stop offset="0.000" stop-color="#84d82c"/><stop offset="0.400" stop-color="#6ad137"/><stop offset="0.500" stop-color="#56ca3c"/><stop offset="0.700" stop-color="#30bd47"/><stop offset="1.000" stop-color="#10b458"/></linearGradient><linearGradient id="Rg159" gradientUnits="userSpaceOnUse" x1="660.53" y1="62.92" x2="673.53" y2="70.72"><stop offset="0.000" stop-color="#41c83f"/><stop offset="0.400" stop-color="#30c246"/><stop offset="0.500" stop-color="#27be49"/><stop offset="0.700" stop-color="#1bb651"/><stop offset="1.000" stop-color="#10ac5d"/></linearGradient><linearGradient id="Rg160" gradientUnits="userSpaceOnUse" x1="661.22" y1="59.92" x2="674.47" y2="67.88"><stop offset="0.000" stop-color="#1db950"/><stop offset="0.500" stop-color="#10b454"/><stop offset="1.000" stop-color="#10ab5f"/></linearGradient><linearGradient id="Rg161" gradientUnits="userSpaceOnUse" x1="661.72" y1="56.96" x2="675.38" y2="65.15"><stop offset="0.000" stop-color="#18ac61"/><stop offset="0.500" stop-color="#10ac5c"/><stop offset="1.000" stop-color="#10b05c"/></linearGradient><linearGradient id="Rg162" gradientUnits="userSpaceOnUse" x1="662.22" y1="53.99" x2="676.29" y2="62.43"><stop offset="0.000" stop-color="#139f72"/><stop offset="0.500" stop-color="#10a464"/><stop offset="1.000" stop-color="#10b559"/></linearGradient><linearGradient id="Rg163" gradientUnits="userSpaceOnUse" x1="662.86" y1="51.01" x2="677.21" y2="59.46"><stop offset="0.000" stop-color="#109d73"/><stop offset="0.500" stop-color="#10a069"/><stop offset="1.000" stop-color="#10b857"/></linearGradient><linearGradient id="Rg164" gradientUnits="userSpaceOnUse" x1="663.59" y1="48.01" x2="678.18" y2="56.27"><stop offset="0.000" stop-color="#10a865"/><stop offset="0.500" stop-color="#10a06c"/><stop offset="1.000" stop-color="#10b854"/></linearGradient><linearGradient id="Rg165" gradientUnits="userSpaceOnUse" x1="664.33" y1="45.01" x2="679.15" y2="53.08"><stop offset="0.000" stop-color="#10b357"/><stop offset="0.500" stop-color="#10a06f"/><stop offset="1.000" stop-color="#10b851"/></linearGradient><linearGradient id="Rg166" gradientUnits="userSpaceOnUse" x1="665.06" y1="42.03" x2="679.94" y2="49.72"><stop offset="0.000" stop-color="#10b950"/><stop offset="0.500" stop-color="#10a36b"/><stop offset="0.600" stop-color="#10a766"/><stop offset="1.000" stop-color="#10af50"/></linearGradient><linearGradient id="Rg167" gradientUnits="userSpaceOnUse" x1="665.80" y1="39.06" x2="680.75" y2="46.28"><stop offset="0.000" stop-color="#10bc50"/><stop offset="0.500" stop-color="#10aa60"/><stop offset="0.600" stop-color="#10aa5d"/><stop offset="1.000" stop-color="#109c50"/></linearGradient><linearGradient id="Rg168" gradientUnits="userSpaceOnUse" x1="666.53" y1="36.10" x2="681.42" y2="42.75"><stop offset="0.000" stop-color="#10bf50"/><stop offset="0.500" stop-color="#10b055"/><stop offset="0.600" stop-color="#10ae54"/><stop offset="1.000" stop-color="#108950"/></linearGradient><linearGradient id="Rg169" gradientUnits="userSpaceOnUse" x1="667.30" y1="33.88" x2="681.70" y2="39.96"><stop offset="0.000" stop-color="#10bd50"/><stop offset="0.600" stop-color="#10ad53"/><stop offset="1.000" stop-color="#107d54"/></linearGradient><linearGradient id="Rg170" gradientUnits="userSpaceOnUse" x1="667.96" y1="32.38" x2="681.89" y2="38.06"><stop offset="0.000" stop-color="#10b850"/><stop offset="0.600" stop-color="#10a858"/><stop offset="1.000" stop-color="#10785d"/></linearGradient><linearGradient id="Rg171" gradientUnits="userSpaceOnUse" x1="668.63" y1="30.88" x2="682.08" y2="36.16"><stop offset="0.000" stop-color="#10b350"/><stop offset="0.600" stop-color="#10a35d"/><stop offset="1.000" stop-color="#107366"/></linearGradient><linearGradient id="Rg172" gradientUnits="userSpaceOnUse" x1="669.12" y1="28.99" x2="682.17" y2="33.97"><stop offset="0.000" stop-color="#11a45d"/><stop offset="0.500" stop-color="#11956a"/><stop offset="0.600" stop-color="#11936b"/><stop offset="1.000" stop-color="#116c70"/></linearGradient><linearGradient id="Rg173" gradientUnits="userSpaceOnUse" x1="669.58" y1="26.76" x2="682.01" y2="31.42"><stop offset="0.000" stop-color="#148c78"/><stop offset="0.500" stop-color="#147a82"/><stop offset="0.600" stop-color="#147982"/><stop offset="1.000" stop-color="#14657d"/></linearGradient><linearGradient id="Rg174" gradientUnits="userSpaceOnUse" x1="670.05" y1="24.53" x2="681.33" y2="28.67"><stop offset="0.000" stop-color="#177493"/><stop offset="0.500" stop-color="#175e9c"/><stop offset="0.600" stop-color="#175f98"/><stop offset="1.000" stop-color="#175e8a"/></linearGradient><linearGradient id="Rg175" gradientUnits="userSpaceOnUse" x1="670.34" y1="22.52" x2="680.69" y2="26.13"><stop offset="0.000" stop-color="#1863a3"/><stop offset="0.500" stop-color="#184fa9"/><stop offset="1.000" stop-color="#185795"/></linearGradient><linearGradient id="Rg176" gradientUnits="userSpaceOnUse" x1="670.54" y1="20.75" x2="679.96" y2="23.73"><stop offset="0.000" stop-color="#1858a8"/><stop offset="0.500" stop-color="#184cac"/><stop offset="1.000" stop-color="#1851a0"/></linearGradient><linearGradient id="Rg177" gradientUnits="userSpaceOnUse" x1="670.74" y1="18.99" x2="679.23" y2="21.31"><stop offset="0.000" stop-color="#184dad"/><stop offset="0.500" stop-color="#1849af"/><stop offset="1.000" stop-color="#184bab"/></linearGradient><linearGradient id="Rg178" gradientUnits="userSpaceOnUse" x1="670.56" y1="16.42" x2="677.84" y2="18.36"><stop offset="0.000" stop-color="#1848b0"/><stop offset="1.000" stop-color="#1848b0"/></linearGradient><linearGradient id="Rg179" gradientUnits="userSpaceOnUse" x1="670.14" y1="13.04" x2="675.57" y2="14.71"><stop offset="0.000" stop-color="#1848b0"/><stop offset="1.000" stop-color="#1848b0"/></linearGradient><linearGradient id="Rg180" gradientUnits="userSpaceOnUse" x1="668.75" y1="9.35" x2="672.44" y2="10.70"><stop offset="0.000" stop-color="#1848b0"/><stop offset="1.000" stop-color="#1848b0"/></linearGradient><linearGradient id="Rg181" gradientUnits="userSpaceOnUse" x1="667.32" y1="6.66" x2="669.68" y2="7.60"><stop offset="0.000" stop-color="#1848b0"/><stop offset="1.000" stop-color="#1848b0"/></linearGradient><linearGradient id="Rg182" gradientUnits="userSpaceOnUse" x1="666.04" y1="4.84" x2="667.04" y2="5.24"><stop offset="0.000" stop-color="#1848b0"/><stop offset="1.000" stop-color="#1848b0"/></linearGradient><linearGradient id="Rg183" gradientUnits="userSpaceOnUse" x1="664.89" y1="3.07" x2="669.89" y2="5.07"><stop offset="0.000" stop-color="#1848b0"/><stop offset="1.000" stop-color="#1848b0"/></linearGradient></defs><g clip-path="url(#Rclip)"><polygon points="400.30,230.96 412.00,224.47 465.20,289.99 453.50,296.48" fill="url(#Rg0)" /><polygon points="411.30,224.86 419.98,219.54 473.18,285.06 464.50,290.38" fill="url(#Rg1)" /><polygon points="419.30,219.96 424.99,216.55 478.19,282.07 472.50,285.48" fill="url(#Rg2)" /><polygon points="424.30,216.96 429.55,214.98 482.75,280.50 477.50,282.48" fill="url(#Rg3)" /><polygon points="428.80,215.26 435.05,212.87 488.25,278.39 482.00,280.78" fill="url(#Rg4)" /><polygon points="434.30,213.16 439.53,210.84 492.73,276.36 487.50,278.68" fill="url(#Rg5)" /><polygon points="438.80,211.16 444.62,208.42 497.82,273.94 492.00,276.68" fill="url(#Rg6)" /><polygon points="443.90,208.76 444.56,210.17 496.64,275.97 497.10,274.28" fill="url(#Rg7)" /><polygon points="444.34,209.40 444.47,205.60 496.55,271.40 496.42,275.20" fill="url(#Rg8)" /><polygon points="444.44,206.40 444.57,203.10 496.65,268.90 496.52,272.20" fill="url(#Rg9)" /><polygon points="444.54,203.90 444.67,200.60 496.75,266.40 496.62,269.70" fill="url(#Rg10)" /><polygon points="444.64,201.40 444.77,198.10 496.85,263.90 496.72,267.20" fill="url(#Rg11)" /><polygon points="444.74,198.90 445.61,194.81 496.01,262.01 496.82,264.70" fill="url(#Rg12)" /><polygon points="445.50,195.60 446.56,192.47 496.02,260.60 495.90,262.80" fill="url(#Rg13)" /><polygon points="446.33,193.23 447.39,190.10 495.92,259.17 495.80,261.37" fill="url(#Rg14)" /><polygon points="447.17,190.87 448.22,187.73 495.82,257.73 495.70,259.93" fill="url(#Rg15)" /><polygon points="448.00,188.50 450.40,186.07 497.07,256.07 495.60,258.50" fill="url(#Rg16)" /><polygon points="449.87,186.67 452.27,184.24 498.00,254.24 496.53,256.67" fill="url(#Rg17)" /><polygon points="451.73,184.83 454.14,182.41 498.94,252.41 497.47,254.83" fill="url(#Rg18)" /><polygon points="453.60,183.00 456.38,180.65 501.18,250.65 498.40,253.00" fill="url(#Rg19)" /><polygon points="455.77,181.17 458.54,178.82 503.34,248.82 500.57,251.17" fill="url(#Rg20)" /><polygon points="457.93,179.33 460.71,176.98 505.51,246.98 502.73,249.33" fill="url(#Rg21)" /><polygon points="460.10,177.50 463.31,175.57 507.17,245.57 504.90,247.50" fill="url(#Rg22)" /><polygon points="462.63,176.00 465.84,174.07 508.77,244.07 506.50,246.00" fill="url(#Rg23)" /><polygon points="465.17,174.50 468.37,172.57 510.37,242.57 508.10,244.50" fill="url(#Rg24)" /><polygon points="467.70,173.00 470.60,171.51 511.67,241.51 509.70,243.00" fill="url(#Rg25)" /><polygon points="469.90,171.90 472.80,170.41 512.93,240.41 510.97,241.90" fill="url(#Rg26)" /><polygon points="472.10,170.80 475.00,169.31 514.20,239.31 512.23,240.80" fill="url(#Rg27)" /><polygon points="474.30,169.70 477.98,169.07 515.31,238.14 513.50,239.70" fill="url(#Rg28)" /><polygon points="477.20,169.27 480.88,168.64 516.34,236.77 514.53,238.33" fill="url(#Rg29)" /><polygon points="480.10,168.83 483.78,168.20 517.38,235.40 515.57,236.97" fill="url(#Rg30)" /><polygon points="483.00,168.40 484.29,165.37 516.03,232.57 516.60,235.60" fill="url(#Rg31)" /><polygon points="484.07,166.13 485.36,163.10 515.23,230.30 515.80,233.33" fill="url(#Rg32)" /><polygon points="485.13,163.87 486.43,160.83 514.43,228.03 515.00,231.07" fill="url(#Rg33)" /><polygon points="486.20,161.60 487.94,160.90 515.94,228.10 514.20,228.80" fill="url(#Rg34)" /><polygon points="487.20,161.20 488.94,160.50 516.94,227.70 515.20,228.40" fill="url(#Rg35)" /><polygon points="488.20,160.80 489.94,160.10 517.94,227.30 516.20,228.00" fill="url(#Rg36)" /><polygon points="489.20,160.40 490.96,159.81 518.96,227.01 517.20,227.60" fill="url(#Rg37)" /><polygon points="490.20,160.07 491.96,159.48 519.96,226.68 518.20,227.27" fill="url(#Rg38)" /><polygon points="491.20,159.73 492.96,159.15 520.96,226.35 519.20,226.93" fill="url(#Rg39)" /><polygon points="492.20,159.40 494.14,158.85 522.14,226.05 520.20,226.60" fill="url(#Rg40)" /><polygon points="493.37,159.07 495.30,158.51 523.30,225.71 521.37,226.27" fill="url(#Rg41)" /><polygon points="494.53,158.73 496.47,158.18 524.47,225.38 522.53,225.93" fill="url(#Rg42)" /><polygon points="495.70,158.40 497.64,157.85 525.64,225.05 523.70,225.60" fill="url(#Rg43)" /><polygon points="496.87,158.07 498.80,157.51 526.80,224.71 524.87,225.27" fill="url(#Rg44)" /><polygon points="498.03,157.73 499.97,157.18 527.97,224.38 526.03,224.93" fill="url(#Rg45)" /><polygon points="499.20,157.40 501.00,157.22 529.00,224.42 527.20,224.60" fill="url(#Rg46)" /><polygon points="500.20,157.30 502.00,157.12 530.00,224.32 528.20,224.50" fill="url(#Rg47)" /><polygon points="501.20,157.20 503.00,157.02 531.00,224.22 529.20,224.40" fill="url(#Rg48)" /><polygon points="502.20,157.10 504.14,157.65 532.14,224.85 530.20,224.30" fill="url(#Rg49)" /><polygon points="503.37,157.43 505.30,157.99 533.30,225.19 531.37,224.63" fill="url(#Rg50)" /><polygon points="504.53,157.77 506.47,158.32 534.47,225.52 532.53,224.97" fill="url(#Rg51)" /><polygon points="505.70,158.10 507.75,157.08 535.75,224.28 533.70,225.30" fill="url(#Rg52)" /><polygon points="507.03,157.43 509.08,156.41 537.08,223.61 535.03,224.63" fill="url(#Rg53)" /><polygon points="508.37,156.77 510.42,155.74 538.42,222.94 536.37,223.97" fill="url(#Rg54)" /><polygon points="509.70,156.10 511.80,155.47 539.80,222.67 537.70,223.30" fill="url(#Rg55)" /><polygon points="511.03,155.70 513.13,155.07 541.13,222.27 539.03,222.90" fill="url(#Rg56)" /><polygon points="512.37,155.30 514.47,154.67 542.47,221.87 540.37,222.50" fill="url(#Rg57)" /><polygon points="513.70,154.90 515.64,154.35 543.64,221.55 541.70,222.10" fill="url(#Rg58)" /><polygon points="514.87,154.57 516.80,154.01 544.80,221.21 542.87,221.77" fill="url(#Rg59)" /><polygon points="516.03,154.23 517.97,153.68 545.97,220.88 544.03,221.43" fill="url(#Rg60)" /><polygon points="517.20,153.90 519.43,152.91 547.43,220.11 545.20,221.10" fill="url(#Rg61)" /><polygon points="518.70,153.23 520.93,152.24 548.93,219.44 546.70,220.43" fill="url(#Rg62)" /><polygon points="520.20,152.57 522.43,151.58 550.43,218.78 548.20,219.77" fill="url(#Rg63)" /><polygon points="521.70,151.90 524.04,150.40 552.04,217.60 549.70,219.10" fill="url(#Rg64)" /><polygon points="523.37,150.83 525.71,149.34 553.71,216.54 551.37,218.03" fill="url(#Rg65)" /><polygon points="525.03,149.77 527.37,148.27 555.37,215.47 553.03,216.97" fill="url(#Rg66)" /><polygon points="526.70,148.70 528.70,147.40 556.70,214.60 554.70,215.90" fill="url(#Rg67)" /><polygon points="528.03,147.83 530.04,146.53 558.04,213.73 556.03,215.03" fill="url(#Rg68)" /><polygon points="529.37,146.97 531.37,145.66 559.37,212.86 557.37,214.17" fill="url(#Rg69)" /><polygon points="530.70,146.10 532.07,144.42 562.87,212.55 558.70,213.30" fill="url(#Rg70)" /><polygon points="531.43,144.90 532.81,143.22 566.41,212.29 562.23,213.03" fill="url(#Rg71)" /><polygon points="532.17,143.70 533.54,142.02 569.94,212.02 565.77,212.77" fill="url(#Rg72)" /><polygon points="532.90,142.50 535.76,141.85 570.30,213.72 569.30,212.50" fill="url(#Rg73)" /><polygon points="534.97,141.93 537.83,141.29 570.50,215.02 569.50,213.80" fill="url(#Rg74)" /><polygon points="537.03,141.37 539.90,140.72 570.70,216.32 569.70,215.10" fill="url(#Rg75)" /><polygon points="539.10,140.80 541.30,142.02 572.10,217.62 569.90,216.40" fill="url(#Rg76)" /><polygon points="540.60,141.63 542.80,142.86 573.60,218.46 571.40,217.23" fill="url(#Rg77)" /><polygon points="542.10,142.47 544.30,143.69 575.10,219.29 572.90,218.07" fill="url(#Rg78)" /><polygon points="543.60,143.30 545.82,142.22 576.62,217.82 574.40,218.90" fill="url(#Rg79)" /><polygon points="545.10,142.57 547.32,141.48 578.12,217.08 575.90,218.17" fill="url(#Rg80)" /><polygon points="546.60,141.83 548.82,140.75 579.62,216.35 577.40,217.43" fill="url(#Rg81)" /><polygon points="548.10,141.10 550.12,139.89 580.92,215.49 578.90,216.70" fill="url(#Rg82)" /><polygon points="549.43,140.30 551.45,139.09 582.25,214.69 580.23,215.90" fill="url(#Rg83)" /><polygon points="550.77,139.50 552.79,138.29 583.59,213.89 581.57,215.10" fill="url(#Rg84)" /><polygon points="552.10,138.70 554.12,137.49 584.92,213.09 582.90,214.30" fill="url(#Rg85)" /><polygon points="553.43,137.90 555.45,136.69 586.25,212.29 584.23,213.50" fill="url(#Rg86)" /><polygon points="554.77,137.10 556.79,135.89 587.59,211.49 585.57,212.70" fill="url(#Rg87)" /><polygon points="556.10,136.30 558.10,134.95 588.90,210.55 586.90,211.90" fill="url(#Rg88)" /><polygon points="557.43,135.40 559.43,134.05 590.23,209.65 588.23,211.00" fill="url(#Rg89)" /><polygon points="558.77,134.50 560.76,133.15 591.56,208.75 589.57,210.10" fill="url(#Rg90)" /><polygon points="560.10,133.60 562.10,132.30 592.90,207.90 590.90,209.20" fill="url(#Rg91)" /><polygon points="561.43,132.73 563.44,131.43 594.24,207.03 592.23,208.33" fill="url(#Rg92)" /><polygon points="562.77,131.87 564.77,130.56 595.57,206.16 593.57,207.47" fill="url(#Rg93)" /><polygon points="564.10,131.00 566.05,129.47 597.79,205.07 594.90,206.60" fill="url(#Rg94)" /><polygon points="565.40,129.93 567.35,128.40 600.02,204.00 597.13,205.53" fill="url(#Rg95)" /><polygon points="566.70,128.87 568.65,127.34 602.25,202.94 599.37,204.47" fill="url(#Rg96)" /><polygon points="568.00,127.80 569.72,126.02 604.25,201.62 601.60,203.40" fill="url(#Rg97)" /><polygon points="569.13,126.57 570.85,124.79 606.32,200.39 603.67,202.17" fill="url(#Rg98)" /><polygon points="570.27,125.33 571.99,123.56 608.39,199.16 605.73,200.93" fill="url(#Rg99)" /><polygon points="571.40,124.10 572.10,122.61 612.23,196.34 607.80,199.70" fill="url(#Rg100)" /><polygon points="571.60,123.23 572.30,121.74 616.16,193.61 611.73,196.97" fill="url(#Rg101)" /><polygon points="571.80,122.37 572.50,120.87 620.10,190.87 615.67,194.23" fill="url(#Rg102)" /><polygon points="572.00,121.50 573.16,118.78 621.69,188.78 619.60,191.50" fill="url(#Rg103)" /><polygon points="572.80,119.50 573.96,116.78 623.42,186.78 621.33,189.50" fill="url(#Rg104)" /><polygon points="573.60,117.50 574.76,114.78 625.16,184.78 623.07,187.50" fill="url(#Rg105)" /><polygon points="574.40,115.50 575.34,112.91 625.74,182.91 624.80,185.50" fill="url(#Rg106)" /><polygon points="575.07,113.67 576.01,111.08 626.41,181.08 625.47,183.67" fill="url(#Rg107)" /><polygon points="575.73,111.83 576.67,109.25 627.07,179.25 626.13,181.83" fill="url(#Rg108)" /><polygon points="576.40,110.00 577.59,107.62 627.99,177.62 626.80,180.00" fill="url(#Rg109)" /><polygon points="577.23,108.33 578.42,105.95 628.82,175.95 627.63,178.33" fill="url(#Rg110)" /><polygon points="578.07,106.67 579.26,104.28 629.66,174.28 628.47,176.67" fill="url(#Rg111)" /><polygon points="578.90,105.00 580.90,103.65 631.30,173.65 629.30,175.00" fill="url(#Rg112)" /><polygon points="580.23,104.10 582.23,102.75 632.63,172.75 630.63,174.10" fill="url(#Rg113)" /><polygon points="581.57,103.20 583.56,101.85 633.96,171.85 631.97,173.20" fill="url(#Rg114)" /><polygon points="582.90,102.30 585.46,100.58 634.93,172.44 633.30,172.30" fill="url(#Rg115)" /><polygon points="584.77,100.97 587.33,99.24 635.86,172.98 634.23,172.83" fill="url(#Rg116)" /><polygon points="586.63,99.63 589.20,97.91 636.80,173.51 635.17,173.37" fill="url(#Rg117)" /><polygon points="588.50,98.30 590.94,97.62 638.54,173.22 636.10,173.90" fill="url(#Rg118)" /><polygon points="590.17,97.83 592.60,97.15 640.20,172.75 637.77,173.43" fill="url(#Rg119)" /><polygon points="591.83,97.37 594.27,96.68 641.87,172.28 639.43,172.97" fill="url(#Rg120)" /><polygon points="593.50,96.90 596.30,96.71 643.90,172.31 641.10,172.50" fill="url(#Rg121)" /><polygon points="595.50,96.77 598.30,96.58 645.90,172.18 643.10,172.37" fill="url(#Rg122)" /><polygon points="597.50,96.63 600.30,96.45 647.90,172.05 645.10,172.23" fill="url(#Rg123)" /><polygon points="599.50,96.50 602.30,96.50 649.90,172.10 647.10,172.10" fill="url(#Rg124)" /><polygon points="601.50,96.50 604.30,96.50 651.90,172.10 649.10,172.10" fill="url(#Rg125)" /><polygon points="603.50,96.50 606.30,96.50 653.90,172.10 651.10,172.10" fill="url(#Rg126)" /><polygon points="605.50,96.50 609.45,102.47 648.65,168.74 653.10,172.10" fill="url(#Rg127)" /><polygon points="609.07,101.77 613.01,107.74 643.81,164.67 648.27,168.03" fill="url(#Rg128)" /><polygon points="612.63,107.03 616.58,113.00 638.98,160.60 643.43,163.97" fill="url(#Rg129)" /><polygon points="616.20,112.30 618.06,111.55 642.33,159.15 638.60,159.90" fill="url(#Rg130)" /><polygon points="617.30,111.80 619.16,111.05 645.29,158.65 641.57,159.40" fill="url(#Rg131)" /><polygon points="618.40,111.30 620.26,110.55 648.26,158.15 644.53,158.90" fill="url(#Rg132)" /><polygon points="619.50,110.80 621.13,108.87 652.86,156.47 647.50,158.40" fill="url(#Rg133)" /><polygon points="620.50,109.37 622.13,107.43 657.59,155.03 652.23,156.97" fill="url(#Rg134)" /><polygon points="621.50,107.93 623.13,106.00 662.33,153.60 656.97,155.53" fill="url(#Rg135)" /><polygon points="622.50,106.50 624.33,104.87 665.40,149.67 661.70,154.10" fill="url(#Rg136)" /><polygon points="623.77,105.43 625.60,103.80 668.53,145.80 664.83,150.23" fill="url(#Rg137)" /><polygon points="625.03,104.37 626.87,102.73 671.67,141.93 667.97,146.37" fill="url(#Rg138)" /><polygon points="626.30,103.30 628.44,101.12 673.24,138.45 671.10,142.50" fill="url(#Rg139)" /><polygon points="627.93,101.73 630.08,99.55 674.88,135.02 672.73,139.07" fill="url(#Rg140)" /><polygon points="629.57,100.17 631.71,97.98 676.51,131.58 674.37,135.63" fill="url(#Rg141)" /><polygon points="631.20,98.60 632.89,95.62 677.69,127.35 676.00,132.20" fill="url(#Rg142)" /><polygon points="632.53,96.33 634.22,93.35 679.02,123.22 677.33,128.07" fill="url(#Rg143)" /><polygon points="633.87,94.07 635.56,91.08 680.36,119.08 678.67,123.93" fill="url(#Rg144)" /><polygon points="635.20,91.80 636.28,88.42 682.02,116.42 680.00,119.80" fill="url(#Rg145)" /><polygon points="636.00,89.17 637.08,85.79 683.75,113.79 681.73,117.17" fill="url(#Rg146)" /><polygon points="636.80,86.53 637.88,83.15 685.48,111.15 683.47,114.53" fill="url(#Rg147)" /><polygon points="637.60,83.90 638.88,80.48 686.48,108.48 685.20,111.90" fill="url(#Rg148)" /><polygon points="638.60,81.23 639.88,77.82 687.48,105.82 686.20,109.23" fill="url(#Rg149)" /><polygon points="639.60,78.57 640.88,75.15 688.48,103.15 687.20,106.57" fill="url(#Rg150)" /><polygon points="640.60,75.90 642.58,73.27 689.25,101.27 688.20,103.90" fill="url(#Rg151)" /><polygon points="642.13,73.93 644.12,71.30 689.85,99.30 688.80,101.93" fill="url(#Rg152)" /><polygon points="643.67,71.97 645.65,69.34 690.45,97.34 689.40,99.97" fill="url(#Rg153)" /><polygon points="645.20,70.00 646.84,67.78 690.71,94.85 690.00,98.00" fill="url(#Rg154)" /><polygon points="646.43,68.47 648.08,66.25 691.01,92.38 690.30,95.53" fill="url(#Rg155)" /><polygon points="647.67,66.93 649.31,64.71 691.31,89.91 690.60,93.07" fill="url(#Rg156)" /><polygon points="648.90,65.40 650.15,61.64 692.15,86.84 690.90,90.60" fill="url(#Rg157)" /><polygon points="649.90,62.40 651.15,58.64 693.15,83.84 691.90,87.60" fill="url(#Rg158)" /><polygon points="650.90,59.40 652.15,55.64 694.15,80.84 692.90,84.60" fill="url(#Rg159)" /><polygon points="651.90,56.40 652.53,52.64 694.53,77.84 693.90,81.60" fill="url(#Rg160)" /><polygon points="652.40,53.43 653.03,49.68 695.03,74.88 694.40,78.63" fill="url(#Rg161)" /><polygon points="652.90,50.47 653.53,46.71 695.53,71.91 694.90,75.67" fill="url(#Rg162)" /><polygon points="653.40,47.50 654.32,43.92 696.32,68.19 695.40,72.70" fill="url(#Rg163)" /><polygon points="654.13,44.70 655.06,41.12 697.06,64.46 696.13,68.97" fill="url(#Rg164)" /><polygon points="654.87,41.90 655.79,38.32 697.79,60.72 696.87,65.23" fill="url(#Rg165)" /><polygon points="655.60,39.10 656.73,35.76 697.79,56.29 697.60,61.50" fill="url(#Rg166)" /><polygon points="656.53,36.53 657.66,33.19 697.79,51.86 697.60,57.07" fill="url(#Rg167)" /><polygon points="657.47,33.97 658.59,30.62 697.79,47.42 697.60,52.63" fill="url(#Rg168)" /><polygon points="658.40,31.40 659.59,29.37 697.86,45.24 697.60,48.20" fill="url(#Rg169)" /><polygon points="659.27,30.10 660.46,28.07 697.79,43.00 697.53,45.97" fill="url(#Rg170)" /><polygon points="660.13,28.80 661.32,26.77 697.72,40.77 697.47,43.73" fill="url(#Rg171)" /><polygon points="661.00,27.50 662.03,24.68 696.56,37.75 697.40,41.50" fill="url(#Rg172)" /><polygon points="661.87,25.47 662.90,22.65 695.56,34.78 696.40,38.53" fill="url(#Rg173)" /><polygon points="662.73,23.43 663.76,20.62 694.56,31.82 695.40,35.57" fill="url(#Rg174)" /><polygon points="663.60,21.40 664.49,19.24 692.49,28.57 694.40,32.60" fill="url(#Rg175)" /><polygon points="664.40,20.03 665.29,17.87 690.49,25.34 692.40,29.37" fill="url(#Rg176)" /><polygon points="665.20,18.67 666.09,16.51 688.49,22.11 690.40,26.13" fill="url(#Rg177)" /><polygon points="666.00,17.30 665.54,12.99 685.14,18.59 688.40,22.90" fill="url(#Rg178)" /><polygon points="665.73,13.77 665.28,9.46 682.08,15.06 685.33,19.37" fill="url(#Rg179)" /><polygon points="665.47,10.23 665.01,5.92 679.01,11.52 682.27,15.83" fill="url(#Rg180)" /><polygon points="665.20,6.70 663.51,4.24 677.51,9.84 679.20,12.30" fill="url(#Rg181)" /><polygon points="663.97,4.90 662.28,2.44 676.28,8.04 677.97,10.50" fill="url(#Rg182)" /><polygon points="662.73,3.10 661.05,0.64 675.05,6.24 676.73,8.70" fill="url(#Rg183)" /><defs><linearGradient id="olvR" gradientUnits="userSpaceOnUse" x1="458.7" y1="229.5" x2="459.7" y2="254.5"><stop offset="0" stop-color="#a8a830"/><stop offset="0.5" stop-color="#a88030"/><stop offset="1" stop-color="#b85030"/></linearGradient></defs><polygon points="455.4,223.1 474.2,246.4 455.4,256" fill="url(#olvR)"/><line x1="455.5" y1="227" x2="474.1" y2="246.5" stroke="#20a040" stroke-width="0.9"/><polygon points="601.2,112.8 616.2,112.7 626.8,125.6 623,128.5 604.7,115" fill="#0f8c58"/><polygon points="557.7,154.8 558.5,154.8 575.0,195.3 574.2,195.3" fill="#000" fill-opacity="0.058"/><polygon points="560.7,152.8 561.8,152.8 578.3,193.3 577.2,193.3" fill="#fff" fill-opacity="0.051"/><polygon points="564.5,150.3 565.3,150.3 581.8,190.8 581.0,190.8" fill="#fff" fill-opacity="0.12"/><polygon points="567.2,148.5 568.5,148.5 585.0,189.0 583.7,189.0" fill="#fff" fill-opacity="0.095"/><polygon points="569.8,146.8 570.9,146.8 587.4,187.3 586.3,187.3" fill="#000" fill-opacity="0.066"/><polygon points="573.4,144.4 574.5,144.4 591.0,184.9 589.9,184.9" fill="#fff" fill-opacity="0.103"/><polygon points="576.7,141.7 577.5,141.7 594.0,182.2 593.2,182.2" fill="#fff" fill-opacity="0.111"/><polygon points="579.5,139.0 580.7,139.0 597.2,179.5 596.0,179.5" fill="#000" fill-opacity="0.076"/><polygon points="583.5,133.2 584.4,133.2 605.4,173.7 604.5,173.7" fill="#000" fill-opacity="0.062"/><polygon points="587.3,123.9 588.6,123.9 615.6,161.4 614.3,161.4" fill="#fff" fill-opacity="0.06"/><polygon points="590.0,119.0 591.4,119.0 618.4,156.5 617.0,156.5" fill="#fff" fill-opacity="0.094"/><polygon points="593.0,116.8 594.0,116.8 621.0,154.3 620.0,154.3" fill="#fff" fill-opacity="0.075"/><polygon points="596.2,115.3 597.2,115.3 624.2,152.8 623.2,152.8" fill="#000" fill-opacity="0.074"/><polygon points="600.1,113.3 601.4,113.3 628.4,150.8 627.1,150.8" fill="#000" fill-opacity="0.074"/><polygon points="602.7,112.4 604.0,112.4 631.0,149.9 629.7,149.9" fill="#000" fill-opacity="0.085"/><polygon points="606.1,112.0 607.3,112.0 634.3,149.5 633.1,149.5" fill="#fff" fill-opacity="0.108"/><polygon points="609.5,111.8 610.3,111.8 637.3,149.3 636.5,149.3" fill="#fff" fill-opacity="0.11"/><polygon points="613.3,111.7 613.9,111.7 640.9,149.2 640.3,149.2" fill="#000" fill-opacity="0.061"/><polygon points="518.2,169.7 522.2,168.8 538.2,207.2 534.2,208.1" fill="#000" fill-opacity="0.16"/><polygon points="535.2,161.7 539.2,159.0 555.2,197.4 551.2,200.1" fill="#000" fill-opacity="0.14"/><polygon points="548.7,159.7 552.2,159.5 566.5,194.6 563.0,194.8" fill="#000" fill-opacity="0.1"/><polygon points="508.7,171.5 512.7,172.5 528.7,210.9 524.7,209.9" fill="#fff" fill-opacity="0.1"/><polygon points="485.7,184.1 490.2,182.8 509.8,217.8 505.3,219.1" fill="#000" fill-opacity="0.1"/><polygon points="492.0,176.3 498.7,173.5 505.3,171.5 508.7,171.1 510.3,174.5 506.7,180.3 493.2,182.3" fill="url(#lidg)"/><polyline points="492.3,182.4 506.7,180.3 510.3,174.5" fill="none" stroke="#109848" stroke-width="0.9"/></g>
<path d="M67.0,269.3 L67.0,1.1 L336.3,1.1 L336.3,269.3" fill="none" stroke="#7a7a7a" stroke-width="1.2" stroke-linejoin="round"/>
<line x1="67.00" y1="269.30" x2="336.30" y2="269.30" stroke="#2e2e2e" stroke-width="1.3"/>
<line x1="60.50" y1="244.70" x2="74.00" y2="244.70" stroke="#333" stroke-width="1"/>
<text x="61.1" y="248.7" font-size="12" fill="#454545" text-anchor="end" textLength="6.2" lengthAdjust="spacingAndGlyphs" >0</text>
<line x1="60.50" y1="201.70" x2="74.00" y2="201.70" stroke="#333" stroke-width="1"/>
<text x="61.1" y="205.7" font-size="12" fill="#454545" text-anchor="end" textLength="12.4" lengthAdjust="spacingAndGlyphs" >20</text>
<line x1="60.50" y1="158.70" x2="74.00" y2="158.70" stroke="#333" stroke-width="1"/>
<text x="61.1" y="162.7" font-size="12" fill="#454545" text-anchor="end" textLength="12.4" lengthAdjust="spacingAndGlyphs" >40</text>
<line x1="60.50" y1="115.70" x2="74.00" y2="115.70" stroke="#333" stroke-width="1"/>
<text x="61.1" y="119.7" font-size="12" fill="#454545" text-anchor="end" textLength="12.4" lengthAdjust="spacingAndGlyphs" >60</text>
<line x1="60.50" y1="72.70" x2="74.00" y2="72.70" stroke="#333" stroke-width="1"/>
<text x="61.1" y="76.7" font-size="12" fill="#454545" text-anchor="end" textLength="12.4" lengthAdjust="spacingAndGlyphs" >80</text>
<line x1="60.50" y1="29.70" x2="74.00" y2="29.70" stroke="#333" stroke-width="1"/>
<text x="61.1" y="33.7" font-size="12" fill="#454545" text-anchor="end" textLength="18.0" lengthAdjust="spacingAndGlyphs" >100</text>
<line x1="109.60" y1="262.50" x2="109.60" y2="274.80" stroke="#333" stroke-width="1"/>
<text x="109.9" y="283.8" font-size="12" fill="#46466a" text-anchor="middle" textLength="12.4" lengthAdjust="spacingAndGlyphs" >20</text>
<line x1="152.70" y1="262.50" x2="152.70" y2="274.80" stroke="#333" stroke-width="1"/>
<text x="153.0" y="283.8" font-size="12" fill="#46466a" text-anchor="middle" textLength="12.4" lengthAdjust="spacingAndGlyphs" >40</text>
<line x1="195.80" y1="262.50" x2="195.80" y2="274.80" stroke="#333" stroke-width="1"/>
<text x="196.1" y="283.8" font-size="12" fill="#46466a" text-anchor="middle" textLength="12.4" lengthAdjust="spacingAndGlyphs" >60</text>
<line x1="238.90" y1="262.50" x2="238.90" y2="274.80" stroke="#333" stroke-width="1"/>
<text x="239.2" y="283.8" font-size="12" fill="#46466a" text-anchor="middle" textLength="12.4" lengthAdjust="spacingAndGlyphs" >80</text>
<line x1="282.00" y1="262.50" x2="282.00" y2="274.80" stroke="#333" stroke-width="1"/>
<text x="282.3" y="283.8" font-size="12" fill="#46466a" text-anchor="middle" textLength="16.8" lengthAdjust="spacingAndGlyphs" >100</text>
<line x1="325.10" y1="262.50" x2="325.10" y2="274.80" stroke="#333" stroke-width="1"/>
<text x="325.4" y="283.8" font-size="12" fill="#46466a" text-anchor="middle" textLength="16.8" lengthAdjust="spacingAndGlyphs" >120</text>
<text x="168.8" y="297.6" font-size="11" fill="#4a4a4a" text-anchor="start" textLength="63.5" lengthAdjust="spacingAndGlyphs" >Easting(km)</text>
<text x="0.6" y="138.0" font-size="11" fill="#3c3c58" text-anchor="start" textLength="45.2" lengthAdjust="spacingAndGlyphs" >Northing</text>
<text x="8.8" y="154.5" font-size="11" fill="#3c3c58" text-anchor="start" textLength="22.8" lengthAdjust="spacingAndGlyphs" >(km)</text>
<defs><linearGradient id="cbg258" x1="0" y1="1" x2="0" y2="0">
<stop offset="0" stop-color="#1458f0"/>
<stop offset="0.12" stop-color="#1080c8"/>
<stop offset="0.25" stop-color="#10a878"/>
<stop offset="0.36" stop-color="#18d030"/>
<stop offset="0.45" stop-color="#a8e410"/>
<stop offset="0.52" stop-color="#f4ec08"/>
<stop offset="0.64" stop-color="#f8a020"/>
<stop offset="0.76" stop-color="#f45020"/>
<stop offset="0.87" stop-color="#e41840"/>
<stop offset="1" stop-color="#9c1070"/>
</linearGradient></defs>
<rect x="258" y="171" width="10.7" height="61.7" fill="url(#cbg258)"/>
<line x1="266.60" y1="171.50" x2="275.00" y2="171.50" stroke="#333" stroke-width="1.1"/>
<text x="279.4" y="174.1" font-size="11.5" fill="#3a3a4a" text-anchor="start" textLength="13.5" lengthAdjust="spacingAndGlyphs" >16.</text>
<line x1="266.60" y1="192.07" x2="275.00" y2="192.07" stroke="#333" stroke-width="1.1"/>
<text x="279.0" y="195.9" font-size="11.5" fill="#3a3a4a" text-anchor="start" textLength="9.2" lengthAdjust="spacingAndGlyphs" >8.</text>
<line x1="266.60" y1="212.63" x2="275.00" y2="212.63" stroke="#333" stroke-width="1.1"/>
<text x="279.0" y="216.4" font-size="11.5" fill="#3a3a4a" text-anchor="start" textLength="9" lengthAdjust="spacingAndGlyphs" >0.</text>
<line x1="266.60" y1="233.20" x2="275.00" y2="233.20" stroke="#333" stroke-width="1.1"/>
<text x="279.0" y="237.0" font-size="11.5" fill="#3a3a4a" text-anchor="start" textLength="11.7" lengthAdjust="spacingAndGlyphs" >-8.</text>
<path d="M412.0,268.9 L412.0,2.3 L682.4,2.3 L682.4,268.9" fill="none" stroke="#7a7a7a" stroke-width="1.2" stroke-linejoin="round"/>
<line x1="412.00" y1="268.90" x2="682.40" y2="268.90" stroke="#2e2e2e" stroke-width="1.3"/>
<line x1="405.50" y1="244.10" x2="419.00" y2="244.10" stroke="#333" stroke-width="1"/>
<text x="405.4" y="248.1" font-size="12" fill="#454545" text-anchor="end" textLength="6.2" lengthAdjust="spacingAndGlyphs" >0</text>
<line x1="405.50" y1="200.96" x2="419.00" y2="200.96" stroke="#333" stroke-width="1"/>
<text x="405.4" y="205.0" font-size="12" fill="#454545" text-anchor="end" textLength="12.4" lengthAdjust="spacingAndGlyphs" >20</text>
<line x1="405.50" y1="157.82" x2="419.00" y2="157.82" stroke="#333" stroke-width="1"/>
<text x="405.4" y="161.8" font-size="12" fill="#454545" text-anchor="end" textLength="12.4" lengthAdjust="spacingAndGlyphs" >40</text>
<line x1="405.50" y1="114.68" x2="419.00" y2="114.68" stroke="#333" stroke-width="1"/>
<text x="405.4" y="118.7" font-size="12" fill="#454545" text-anchor="end" textLength="12.4" lengthAdjust="spacingAndGlyphs" >60</text>
<line x1="405.50" y1="71.54" x2="419.00" y2="71.54" stroke="#333" stroke-width="1"/>
<text x="405.4" y="75.5" font-size="12" fill="#454545" text-anchor="end" textLength="12.4" lengthAdjust="spacingAndGlyphs" >80</text>
<line x1="405.50" y1="28.40" x2="419.00" y2="28.40" stroke="#333" stroke-width="1"/>
<text x="405.4" y="32.4" font-size="12" fill="#454545" text-anchor="end" textLength="18.0" lengthAdjust="spacingAndGlyphs" >100</text>
<line x1="455.32" y1="262.10" x2="455.32" y2="274.40" stroke="#333" stroke-width="1"/>
<text x="455.6" y="283.8" font-size="12" fill="#46466a" text-anchor="middle" textLength="12.4" lengthAdjust="spacingAndGlyphs" >20</text>
<line x1="498.54" y1="262.10" x2="498.54" y2="274.40" stroke="#333" stroke-width="1"/>
<text x="498.8" y="283.8" font-size="12" fill="#46466a" text-anchor="middle" textLength="12.4" lengthAdjust="spacingAndGlyphs" >40</text>
<line x1="541.76" y1="262.10" x2="541.76" y2="274.40" stroke="#333" stroke-width="1"/>
<text x="542.1" y="283.8" font-size="12" fill="#46466a" text-anchor="middle" textLength="12.4" lengthAdjust="spacingAndGlyphs" >60</text>
<line x1="584.98" y1="262.10" x2="584.98" y2="274.40" stroke="#333" stroke-width="1"/>
<text x="585.3" y="283.8" font-size="12" fill="#46466a" text-anchor="middle" textLength="12.4" lengthAdjust="spacingAndGlyphs" >80</text>
<line x1="628.20" y1="262.10" x2="628.20" y2="274.40" stroke="#333" stroke-width="1"/>
<text x="628.5" y="283.8" font-size="12" fill="#46466a" text-anchor="middle" textLength="16.8" lengthAdjust="spacingAndGlyphs" >100</text>
<line x1="671.42" y1="262.10" x2="671.42" y2="274.40" stroke="#333" stroke-width="1"/>
<text x="671.7" y="283.8" font-size="12" fill="#46466a" text-anchor="middle" textLength="16.8" lengthAdjust="spacingAndGlyphs" >120</text>
<text x="514.7" y="297.6" font-size="11" fill="#4a4a4a" text-anchor="start" textLength="63.5" lengthAdjust="spacingAndGlyphs" >Easting(km)</text>
<text x="345.1" y="138.0" font-size="11" fill="#3c3c58" text-anchor="start" textLength="45.6" lengthAdjust="spacingAndGlyphs" >Northing</text>
<text x="354.7" y="154.5" font-size="11" fill="#3c3c58" text-anchor="start" textLength="23" lengthAdjust="spacingAndGlyphs" >(km)</text>
<defs><linearGradient id="cbg611" x1="0" y1="1" x2="0" y2="0">
<stop offset="0" stop-color="#1458f0"/>
<stop offset="0.12" stop-color="#1080c8"/>
<stop offset="0.25" stop-color="#10a878"/>
<stop offset="0.36" stop-color="#18d030"/>
<stop offset="0.45" stop-color="#a8e410"/>
<stop offset="0.52" stop-color="#f4ec08"/>
<stop offset="0.64" stop-color="#f8a020"/>
<stop offset="0.76" stop-color="#f45020"/>
<stop offset="0.87" stop-color="#e41840"/>
<stop offset="1" stop-color="#9c1070"/>
</linearGradient></defs>
<rect x="611" y="175.2" width="10.7" height="61.8" fill="url(#cbg611)"/>
<line x1="619.60" y1="175.70" x2="628.00" y2="175.70" stroke="#333" stroke-width="1.1"/>
<text x="632.4" y="178.3" font-size="11.5" fill="#3a3a4a" text-anchor="start" textLength="13.5" lengthAdjust="spacingAndGlyphs" >16.</text>
<line x1="619.60" y1="196.30" x2="628.00" y2="196.30" stroke="#333" stroke-width="1.1"/>
<text x="632.0" y="200.1" font-size="11.5" fill="#3a3a4a" text-anchor="start" textLength="9.2" lengthAdjust="spacingAndGlyphs" >8.</text>
<line x1="619.60" y1="216.90" x2="628.00" y2="216.90" stroke="#333" stroke-width="1.1"/>
<text x="632.0" y="220.7" font-size="11.5" fill="#3a3a4a" text-anchor="start" textLength="9" lengthAdjust="spacingAndGlyphs" >0.</text>
<line x1="619.60" y1="237.50" x2="628.00" y2="237.50" stroke="#333" stroke-width="1.1"/>
<text x="632.0" y="241.3" font-size="11.5" fill="#3a3a4a" text-anchor="start" textLength="11.7" lengthAdjust="spacingAndGlyphs" >-8.</text>
<text x="74.4" y="232.0" font-size="11.4" fill="#333" text-anchor="start" textLength="15" lengthAdjust="spacingAndGlyphs" transform="rotate(-30 74.4 232.0)" >MF</text>
<text x="107.5" y="198.2" font-size="10.5" fill="#333" text-anchor="start" textLength="18.5" lengthAdjust="spacingAndGlyphs" transform="rotate(-56 107.5 198.2)" >S<tspan font-size="8.5">y</tspan>S</text>
<text x="158.6" y="160.6" font-size="10.5" fill="#333" text-anchor="start" textLength="20" lengthAdjust="spacingAndGlyphs" transform="rotate(-31 158.6 160.6)" >W<tspan font-size="7" dy="1.5">j</tspan><tspan dy="-1.5">S</tspan></text>
<text x="214.0" y="133.3" font-size="10.5" fill="#333" text-anchor="start" textLength="18.5" lengthAdjust="spacingAndGlyphs" transform="rotate(-47 214.0 133.3)" >SzS</text>
<text x="283.2" y="74.2" font-size="10.5" fill="#333" text-anchor="start" textLength="25" lengthAdjust="spacingAndGlyphs" transform="rotate(-60 283.2 74.2)" >TTSF</text>
<text x="0" y="0" font-size="11.5" fill="#2a2a2a" transform="translate(146.0,68.4) rotate(20)">σ</text>
<text x="0" y="0" font-size="7.2" fill="#555" transform="translate(151.6,72.6) rotate(32)" textLength="17.5" lengthAdjust="spacingAndGlyphs">hmax</text>
<polygon points="131.5,74.2 143.9,80.4 144.9,79.1 146.4,85.9 139.4,87.4 140.4,84.9 129.2,77.9" fill="#80f4c0" stroke="#8a9a92" stroke-width="0.7" stroke-linejoin="round"/>
<polygon points="146.4,85.9 153.8,84.7 152.8,86.9 164.2,93.8 162.2,97.8 149.3,90.9 148.3,93.3" fill="#80f4c0" stroke="#8a9a92" stroke-width="0.7" stroke-linejoin="round"/>
<text x="0" y="0" font-size="12" fill="#2c2c58" transform="translate(315.8,244.0) rotate(-90)" textLength="86.5" lengthAdjust="spacingAndGlyphs">StressDrop(MPa)</text>
<text x="0" y="0" font-size="12" fill="#2c2c58" transform="translate(668.6,248.2) rotate(-90)" textLength="85.2" lengthAdjust="spacingAndGlyphs">StressDrop(MPa)</text>
</svg></body></html>
